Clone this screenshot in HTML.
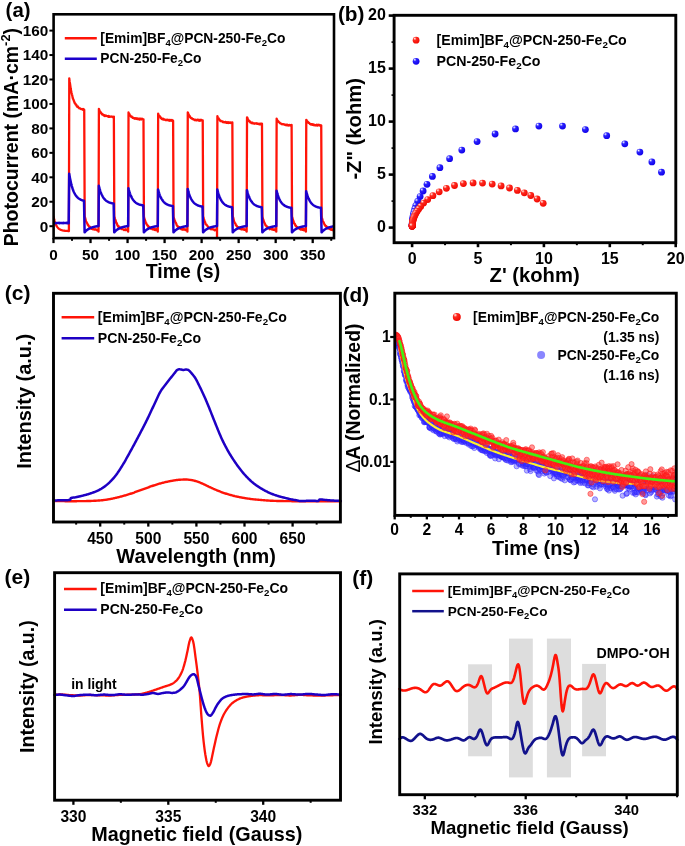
<!DOCTYPE html>
<html><head><meta charset="utf-8"><title>Figure</title>
<style>
html,body{margin:0;padding:0;background:#fff;}
svg{display:block;}
text{font-family:"Liberation Sans", Arial, Helvetica, sans-serif;font-weight:bold;fill:#000;}
</style></head><body>
<svg width="685" height="846" viewBox="0 0 685 846">
<rect width="685" height="846" fill="#fff"/>
<g id="pa">
<clipPath id="ca"><rect x="53.6" y="14.3" width="280.4" height="223.8"/></clipPath>
<g clip-path="url(#ca)">
<path d="M53.5,216.42 L53.87,218.14 L54.24,219.66 L54.61,221.01 L54.98,222.19 L55.35,223.24 L55.72,224.16 L56.09,224.97 L56.46,225.69 L56.83,226.33 L57.2,226.89 L57.57,227.38 L57.94,227.82 L58.31,228.2 L58.68,228.54 L59.05,228.84 L59.42,229.1 L59.8,229.34 L60.17,229.54 L60.54,229.73 L60.91,229.89 L61.28,230.03 L61.65,230.15 L62.02,230.26 L62.39,230.36 L62.76,230.45 L63.13,230.52 L63.5,230.59 L63.87,230.65 L64.24,230.7 L64.61,230.74 L64.98,230.79 L65.35,230.82 L65.72,230.85 L66.09,230.88 L66.46,230.91 L66.83,230.93 L67.2,230.95 L67.57,230.96 L67.94,230.98 L68.31,230.99 L68.9,231.09 L69.27,78.28 L69.65,81.69 L70.02,83.75 L70.4,86.33 L70.77,89.08 L71.14,90.88 L71.52,92.77 L71.89,94.24 L72.27,95.61 L72.64,97.65 L73.01,98.95 L73.39,99.27 L73.76,100.67 L74.14,101.26 L74.51,102.82 L74.88,103.13 L75.26,103.53 L75.63,104.62 L76.01,104.47 L76.38,105.01 L76.75,106.31 L77.13,106.72 L77.5,106.58 L77.88,106.52 L78.25,107.36 L78.62,107.8 L79,107.84 L79.37,108.44 L79.75,108.46 L80.12,108.42 L80.49,108.53 L80.87,108.94 L81.24,109.07 L81.62,109.2 L81.99,109.08 L82.36,109.34 L82.74,109.69 L83.11,108.98 L83.49,109.32 L83.86,109.3 L84.23,109.81 L84.68,216.42 L85.06,217.53 L85.45,219 L85.83,221.06 L86.22,221.84 L86.6,222.29 L86.99,223.13 L87.37,223.58 L87.76,224.87 L88.14,224.95 L88.53,225.66 L88.91,226.57 L89.3,226.64 L89.68,226.65 L90.07,227.02 L90.45,227.73 L90.83,227.88 L91.22,228.79 L91.6,228.74 L91.99,228.25 L92.37,228.88 L92.76,229.32 L93.14,228.99 L93.53,228.92 L93.91,229.06 L94.3,229.51 L94.68,229.52 L95.07,229.51 L95.45,229.24 L95.84,229.61 L96.22,229.82 L96.6,229.75 L96.99,230.35 L97.37,230.37 L97.76,229.6 L98.14,229.28 L98.53,229.79 L98.53,231.7 L98.9,108.84 L99.27,109.96 L99.65,111.05 L100.02,111.47 L100.39,111.66 L100.77,112.43 L101.14,113.15 L101.52,113.27 L101.89,114.26 L102.26,114.31 L102.64,114.16 L103.01,114.78 L103.39,115.11 L103.76,115.49 L104.13,115.38 L104.51,115.12 L104.88,116.18 L105.26,115.53 L105.63,115.6 L106,115.62 L106.38,115.84 L106.75,115.85 L107.13,116.19 L107.5,116.21 L107.87,116.39 L108.25,116.8 L108.62,116.04 L109,116.37 L109.37,116.77 L109.74,116.51 L110.12,116.56 L110.49,116.71 L110.87,116.75 L111.24,116.58 L111.61,116.52 L111.99,116.55 L112.36,116.73 L112.74,117.17 L113.11,116.99 L113.48,117.06 L113.86,116.68 L114.3,216.42 L114.69,217.69 L115.07,219.07 L115.46,220.24 L115.84,221.25 L116.23,222.86 L116.61,222.97 L117,223.91 L117.38,225.28 L117.77,225.94 L118.15,226.47 L118.53,226.02 L118.92,227.05 L119.3,227.59 L119.69,227.29 L120.07,227.92 L120.46,228.52 L120.84,228.64 L121.23,228.39 L121.61,229.02 L122,229.05 L122.38,228.66 L122.77,229.11 L123.15,229.38 L123.54,229.3 L123.92,229.94 L124.31,229.58 L124.69,229.61 L125.07,229.96 L125.46,230.12 L125.84,229.2 L126.23,229.72 L126.61,230.13 L127,229.68 L127.38,229.46 L127.77,230.46 L128.15,230.49 L128.15,231.7 L128.52,112.51 L128.9,113.7 L129.27,113.87 L129.64,115.05 L130.02,115.06 L130.39,115.56 L130.77,116.11 L131.14,116.79 L131.51,116.36 L131.89,116.81 L132.26,117.32 L132.64,117.82 L133.01,117.59 L133.38,117.99 L133.76,117.96 L134.13,118.33 L134.51,118.14 L134.88,118.79 L135.25,118.64 L135.63,118.07 L136,118.22 L136.38,118.84 L136.75,118.36 L137.12,118.94 L137.5,118.37 L137.87,118.6 L138.25,118.96 L138.62,119.16 L138.99,119.43 L139.37,118.6 L139.74,119.45 L140.12,118.71 L140.49,118.6 L140.86,119.01 L141.24,119.42 L141.61,118.76 L141.99,118.67 L142.36,118.96 L142.73,119.17 L143.11,119.31 L143.48,119.36 L143.93,216.42 L144.31,218.49 L144.7,219.22 L145.08,220.68 L145.47,222.01 L145.85,223.04 L146.24,223.18 L146.62,224.37 L147,224.77 L147.39,225.57 L147.77,225.42 L148.16,225.85 L148.54,227.34 L148.93,227.48 L149.31,227.65 L149.7,227.14 L150.08,227.65 L150.47,228.42 L150.85,228.78 L151.24,228.4 L151.62,228.36 L152.01,228.39 L152.39,229.24 L152.78,228.7 L153.16,229.04 L153.54,229.38 L153.93,228.85 L154.31,229.84 L154.7,229.31 L155.08,230.15 L155.47,230.09 L155.85,229.23 L156.24,230.13 L156.62,229.5 L157.01,229.72 L157.39,229.46 L157.78,230.06 L157.78,231.7 L158.15,113.73 L158.52,114.74 L158.89,115.51 L159.27,115.58 L159.64,116.38 L160.02,116.52 L160.39,117 L160.76,118.09 L161.14,118 L161.51,118.71 L161.89,119.01 L162.26,119.19 L162.63,118.6 L163.01,118.83 L163.38,118.93 L163.76,119.53 L164.13,119.38 L164.5,119.31 L164.88,119.79 L165.25,119.68 L165.63,120.08 L166,120.28 L166.37,120.16 L166.75,119.6 L167.12,119.96 L167.5,119.65 L167.87,120.14 L168.24,120.35 L168.62,119.89 L168.99,119.88 L169.37,120.7 L169.74,120.08 L170.11,120.67 L170.49,120.67 L170.86,119.94 L171.24,120.79 L171.61,120.61 L171.98,119.9 L172.36,120.48 L172.73,120.79 L173.11,120.76 L173.55,216.42 L173.94,218.45 L174.32,219.14 L174.71,221.09 L175.09,221.14 L175.47,222.71 L175.86,222.81 L176.24,223.62 L176.63,225.02 L177.01,225.66 L177.4,225.9 L177.78,226.82 L178.17,226.56 L178.55,227.68 L178.94,228.04 L179.32,227.14 L179.71,228.24 L180.09,228.1 L180.48,228.49 L180.86,228.84 L181.25,229.31 L181.63,228.42 L182.01,228.48 L182.4,228.59 L182.78,229.74 L183.17,229.71 L183.55,229.3 L183.94,228.93 L184.32,229.53 L184.71,229.41 L185.09,229.49 L185.48,230.03 L185.86,229.73 L186.25,230.05 L186.63,230.16 L187.02,230.39 L187.4,230.17 L187.4,231.7 L187.77,112.51 L188.14,113.05 L188.52,114.44 L188.89,115 L189.27,115.66 L189.64,115.94 L190.01,116.97 L190.39,117.48 L190.76,117.83 L191.14,118.17 L191.51,117.93 L191.88,118.14 L192.26,118.93 L192.63,119.09 L193.01,119.05 L193.38,119.16 L193.75,119.27 L194.13,119.73 L194.5,120.05 L194.88,119.92 L195.25,120.16 L195.62,119.77 L196,120.3 L196.37,120.35 L196.75,119.85 L197.12,120.24 L197.49,119.79 L197.87,120.12 L198.24,119.79 L198.62,120.52 L198.99,120.21 L199.36,119.95 L199.74,120.68 L200.11,119.85 L200.49,120.63 L200.86,120.06 L201.23,119.88 L201.61,120.06 L201.98,120.57 L202.36,120.8 L202.73,120.42 L203.18,216.42 L203.56,217.62 L203.94,219.69 L204.33,220.12 L204.71,222.08 L205.1,222.06 L205.48,223.96 L205.87,224.34 L206.25,224.28 L206.64,224.98 L207.02,225.37 L207.41,225.92 L207.79,226.45 L208.18,226.88 L208.56,227.83 L208.95,227.81 L209.33,228.41 L209.72,227.96 L210.1,228.22 L210.48,228.91 L210.87,229.31 L211.25,228.35 L211.64,228.67 L212.02,229.11 L212.41,229.22 L212.79,228.93 L213.18,229.5 L213.56,229.64 L213.95,229.78 L214.33,229.93 L214.72,230.27 L215.1,229.56 L215.49,229.88 L215.87,229.73 L216.26,230.38 L216.64,230.05 L217.02,230.34 L217.02,237.2 L217.39,116.17 L217.77,117.39 L218.14,117.99 L218.52,118.06 L218.89,119.03 L219.26,119.5 L219.64,119.71 L220.01,120.44 L220.39,120.98 L220.76,120.74 L221.13,121.01 L221.51,121.07 L221.88,121.46 L222.26,121.38 L222.63,121.47 L223,122.08 L223.38,121.94 L223.75,122.05 L224.13,122.38 L224.5,122.28 L224.87,122.2 L225.25,121.92 L225.62,121.97 L226,122.64 L226.37,122.33 L226.74,122.95 L227.12,122.97 L227.49,122.57 L227.87,122.24 L228.24,122.97 L228.61,122.41 L228.99,122.32 L229.36,122.9 L229.74,122.55 L230.11,122.42 L230.48,122.91 L230.86,122.61 L231.23,122.59 L231.61,122.75 L231.98,122.51 L232.35,122.49 L232.8,216.42 L233.18,217.57 L233.57,219.35 L233.95,221 L234.34,221.94 L234.72,222.91 L235.11,223.3 L235.49,223.8 L235.88,225.32 L236.26,225.13 L236.65,225.61 L237.03,226.52 L237.42,226.73 L237.8,227.52 L238.19,227.16 L238.57,228.29 L238.95,227.4 L239.34,227.85 L239.72,228.27 L240.11,228.9 L240.49,228.27 L240.88,228.36 L241.26,229.49 L241.65,228.83 L242.03,228.85 L242.42,229.17 L242.8,229.2 L243.19,229.58 L243.57,229.06 L243.96,229.06 L244.34,229.83 L244.72,229.37 L245.11,229.86 L245.49,230.22 L245.88,230.06 L246.26,230.33 L246.65,229.4 L246.65,231.7 L247.02,117.4 L247.39,117.8 L247.77,119.35 L248.14,119.51 L248.51,120.24 L248.89,121 L249.26,121.24 L249.64,121.65 L250.01,121.47 L250.38,122.48 L250.76,122.53 L251.13,122.5 L251.51,123.09 L251.88,122.66 L252.25,122.82 L252.63,122.72 L253,123.44 L253.38,123.46 L253.75,123.3 L254.12,123.64 L254.5,123.4 L254.87,123.79 L255.25,123.42 L255.62,123.36 L255.99,123.39 L256.37,123.27 L256.74,123.72 L257.12,123.81 L257.49,123.49 L257.86,123.6 L258.24,123.82 L258.61,124.03 L258.99,124.15 L259.36,124.35 L259.73,123.69 L260.11,124.38 L260.48,123.79 L260.86,124 L261.23,123.61 L261.6,123.83 L261.98,123.64 L262.42,216.42 L262.81,218.57 L263.19,219.44 L263.58,220.51 L263.96,221.87 L264.35,222.56 L264.73,223.56 L265.12,224.08 L265.5,225.38 L265.89,225.42 L266.27,225.93 L266.65,226.57 L267.04,226.87 L267.42,226.77 L267.81,227.22 L268.19,227.74 L268.58,227.81 L268.96,228.37 L269.35,228.79 L269.73,229.22 L270.12,229.05 L270.5,228.8 L270.89,228.58 L271.27,228.76 L271.66,229.26 L272.04,228.77 L272.43,229.49 L272.81,229.11 L273.19,229.69 L273.58,229.34 L273.96,229.09 L274.35,229.97 L274.73,230.18 L275.12,229.67 L275.5,229.81 L275.89,230.05 L276.27,230.51 L276.27,231.7 L276.64,118.62 L277.02,119.58 L277.39,120.27 L277.76,120.92 L278.14,121.02 L278.51,121.77 L278.89,122.04 L279.26,122.24 L279.63,122.7 L280.01,123.22 L280.38,123.21 L280.76,123.52 L281.13,123.7 L281.5,123.88 L281.88,124.24 L282.25,124.14 L282.63,124.25 L283,124.05 L283.37,124.28 L283.75,124.3 L284.12,124.44 L284.5,124.46 L284.87,124.72 L285.24,125.02 L285.62,125.14 L285.99,124.75 L286.37,124.63 L286.74,124.98 L287.11,125.4 L287.49,124.76 L287.86,125.13 L288.24,125.17 L288.61,125.61 L288.98,125.18 L289.36,124.97 L289.73,125.31 L290.11,125.39 L290.48,125.12 L290.85,125.76 L291.23,125.3 L291.6,124.89 L292.05,216.42 L292.43,217.9 L292.82,219.56 L293.2,220.37 L293.59,221.51 L293.97,222.92 L294.36,223.74 L294.74,223.65 L295.12,225.05 L295.51,225.87 L295.89,225.47 L296.28,226.31 L296.66,226.91 L297.05,227.1 L297.43,227.15 L297.82,228.14 L298.2,227.8 L298.59,227.96 L298.97,228.04 L299.36,228.89 L299.74,228.64 L300.13,229.25 L300.51,228.98 L300.9,229.57 L301.28,228.92 L301.66,228.91 L302.05,229.65 L302.43,229.86 L302.82,229.01 L303.2,229.39 L303.59,229.27 L303.97,230.31 L304.36,229.29 L304.74,229.66 L305.13,230.07 L305.51,229.96 L305.9,229.58 L305.9,231.7 L306.27,119.84 L306.64,120.25 L307.01,121.42 L307.39,121.5 L307.76,122.39 L308.14,121.98 L308.51,122.83 L308.88,122.67 L309.26,123.1 L309.63,123.44 L310.01,123.97 L310.38,123.89 L310.75,124.41 L311.13,124.55 L311.5,124.1 L311.88,124.55 L312.25,124.25 L312.62,124.83 L313,124.44 L313.37,124.5 L313.75,124.96 L314.12,125.21 L314.49,124.97 L314.87,124.92 L315.24,125.34 L315.62,125.29 L315.99,125.46 L316.36,124.96 L316.74,124.7 L317.11,125.38 L317.49,125.59 L317.86,124.95 L318.23,124.87 L318.61,124.74 L318.98,125.11 L319.36,125.39 L319.73,124.93 L320.1,125.65 L320.48,125.11 L320.85,125.71 L321.23,125.43 L321.67,216.42 L322.04,218.08 L322.41,219.48 L322.78,220.86 L323.14,221.8 L323.51,221.98 L323.88,223.23 L324.25,223.81 L324.62,224.91 L324.99,224.87 L325.35,225.87 L325.72,226.01 L326.09,226.04 L326.46,226.31 L326.83,227.8 L327.19,227.18 L327.56,227.38 L327.93,228.28 L328.3,228.41 L328.67,228.37 L329.04,228.12 L329.4,228.91 L329.77,228.46 L330.14,228.74 L330.51,229.59 L330.88,228.76 L331.25,229.94 L331.61,229.87 L331.98,229.3 L332.35,230.11 L332.72,229.77 L333.09,230.13 L333.46,229.77 L333.82,229.35 L334.19,229.3 L334.56,230.4 L334.93,230.4" fill="none" stroke="#ff1408" stroke-width="2.3" stroke-linejoin="round" stroke-linecap="round" />
<path d="M53.5,222.9 L53.87,223.19 L54.24,223.1 L54.61,223.16 L54.98,223.17 L55.35,223.19 L55.72,222.97 L56.09,222.93 L56.46,222.95 L56.83,222.89 L57.2,222.96 L57.57,223.06 L57.94,222.97 L58.31,222.85 L58.68,222.97 L59.05,223.12 L59.42,223.18 L59.8,222.86 L60.17,222.99 L60.54,223.08 L60.91,222.98 L61.28,223 L61.65,223.01 L62.02,223.18 L62.39,223.08 L62.76,223.05 L63.13,223.13 L63.5,222.88 L63.87,223.05 L64.24,222.96 L64.61,222.94 L64.98,222.93 L65.35,222.94 L65.72,222.93 L66.09,223.11 L66.46,222.85 L66.83,223.15 L67.2,222.87 L67.57,222.89 L67.94,222.89 L68.31,223.19 L68.68,223.17 L69.2,173.63 L69.57,175.88 L69.94,177.95 L70.31,179.85 L70.68,181.6 L71.05,183.21 L71.42,184.7 L71.79,186.06 L72.16,187.31 L72.53,188.47 L72.9,189.53 L73.27,190.51 L73.64,191.41 L74.01,192.23 L74.38,192.99 L74.76,193.69 L75.13,194.34 L75.5,194.93 L75.87,195.48 L76.24,195.98 L76.61,196.44 L76.98,196.86 L77.35,197.25 L77.72,197.61 L78.09,197.94 L78.46,198.25 L78.83,198.53 L79.2,198.79 L79.57,199.02 L79.94,199.24 L80.31,199.44 L80.68,199.63 L81.05,199.8 L81.42,199.95 L81.79,200.1 L82.16,200.23 L82.53,200.35 L82.9,200.46 L83.27,200.57 L83.64,200.66 L84.01,200.75 L84.61,232.31 L85.07,231.8 L85.53,231.32 L86,230.88 L86.46,230.47 L86.93,230.09 L87.39,229.75 L87.85,229.42 L88.32,229.12 L88.78,228.85 L89.25,228.59 L89.71,228.36 L90.17,228.14 L90.64,227.94 L91.1,227.75 L91.57,227.58 L92.03,227.42 L92.5,227.27 L92.96,227.14 L93.42,227.01 L93.89,226.9 L94.35,226.79 L94.82,226.69 L95.28,226.6 L95.74,226.51 L96.21,226.43 L96.67,226.36 L97.14,226.29 L97.6,226.23 L98.06,226.17 L98.53,226.12 L98.82,185.86 L99.2,187.32 L99.57,188.67 L99.94,189.91 L100.31,191.06 L100.68,192.11 L101.05,193.07 L101.42,193.96 L101.79,194.78 L102.16,195.53 L102.53,196.23 L102.9,196.86 L103.27,197.45 L103.64,197.99 L104.01,198.48 L104.38,198.94 L104.75,199.36 L105.12,199.75 L105.49,200.1 L105.86,200.43 L106.23,200.73 L106.6,201.01 L106.97,201.26 L107.34,201.5 L107.71,201.71 L108.08,201.91 L108.45,202.09 L108.82,202.26 L109.19,202.42 L109.56,202.56 L109.93,202.69 L110.3,202.81 L110.67,202.92 L111.04,203.02 L111.41,203.12 L111.79,203.2 L112.16,203.28 L112.53,203.36 L112.9,203.42 L113.27,203.48 L113.64,203.54 L114.23,232.31 L114.69,231.8 L115.16,231.32 L115.62,230.88 L116.09,230.47 L116.55,230.09 L117.01,229.75 L117.48,229.42 L117.94,229.12 L118.41,228.85 L118.87,228.59 L119.33,228.36 L119.8,228.14 L120.26,227.94 L120.73,227.75 L121.19,227.58 L121.65,227.42 L122.12,227.27 L122.58,227.14 L123.05,227.01 L123.51,226.9 L123.98,226.79 L124.44,226.69 L124.9,226.6 L125.37,226.51 L125.83,226.43 L126.3,226.36 L126.76,226.29 L127.22,226.23 L127.69,226.17 L128.15,226.12 L128.45,188.3 L128.82,189.72 L129.19,191.02 L129.56,192.22 L129.93,193.33 L130.3,194.34 L130.67,195.28 L131.04,196.14 L131.41,196.93 L131.78,197.66 L132.15,198.32 L132.52,198.94 L132.89,199.51 L133.26,200.03 L133.63,200.51 L134,200.95 L134.37,201.36 L134.74,201.73 L135.11,202.07 L135.48,202.39 L135.85,202.68 L136.23,202.95 L136.6,203.19 L136.97,203.42 L137.34,203.63 L137.71,203.82 L138.08,204 L138.45,204.16 L138.82,204.31 L139.19,204.45 L139.56,204.57 L139.93,204.69 L140.3,204.8 L140.67,204.9 L141.04,204.99 L141.41,205.07 L141.78,205.15 L142.15,205.22 L142.52,205.28 L142.89,205.34 L143.26,205.4 L143.85,232.31 L144.32,231.8 L144.78,231.32 L145.25,230.88 L145.71,230.47 L146.17,230.09 L146.64,229.75 L147.1,229.42 L147.57,229.12 L148.03,228.85 L148.49,228.59 L148.96,228.36 L149.42,228.14 L149.89,227.94 L150.35,227.75 L150.81,227.58 L151.28,227.42 L151.74,227.27 L152.21,227.14 L152.67,227.01 L153.14,226.9 L153.6,226.79 L154.06,226.69 L154.53,226.6 L154.99,226.51 L155.46,226.43 L155.92,226.36 L156.38,226.29 L156.85,226.23 L157.31,226.17 L157.78,226.12 L158.07,189.52 L158.44,190.89 L158.81,192.15 L159.18,193.31 L159.55,194.38 L159.92,195.36 L160.29,196.26 L160.66,197.09 L161.04,197.85 L161.41,198.56 L161.78,199.2 L162.15,199.8 L162.52,200.34 L162.89,200.85 L163.26,201.31 L163.63,201.74 L164,202.13 L164.37,202.49 L164.74,202.82 L165.11,203.13 L165.48,203.41 L165.85,203.67 L166.22,203.9 L166.59,204.12 L166.96,204.32 L167.33,204.51 L167.7,204.68 L168.07,204.84 L168.44,204.98 L168.81,205.11 L169.18,205.24 L169.55,205.35 L169.92,205.45 L170.29,205.55 L170.66,205.63 L171.03,205.71 L171.4,205.79 L171.77,205.86 L172.14,205.92 L172.51,205.98 L172.88,206.03 L173.48,232.31 L173.94,231.8 L174.41,231.32 L174.87,230.88 L175.33,230.47 L175.8,230.09 L176.26,229.75 L176.73,229.42 L177.19,229.12 L177.65,228.85 L178.12,228.59 L178.58,228.36 L179.05,228.14 L179.51,227.94 L179.97,227.75 L180.44,227.58 L180.9,227.42 L181.37,227.27 L181.83,227.14 L182.3,227.01 L182.76,226.9 L183.22,226.79 L183.69,226.69 L184.15,226.6 L184.62,226.51 L185.08,226.43 L185.54,226.36 L186.01,226.29 L186.47,226.23 L186.94,226.17 L187.4,226.12 L187.7,188.91 L188.07,190.38 L188.44,191.73 L188.81,192.97 L189.18,194.11 L189.55,195.16 L189.92,196.13 L190.29,197.02 L190.66,197.84 L191.03,198.59 L191.4,199.28 L191.77,199.92 L192.14,200.51 L192.51,201.04 L192.88,201.54 L193.25,202 L193.62,202.42 L193.99,202.8 L194.36,203.16 L194.73,203.49 L195.1,203.79 L195.47,204.06 L195.84,204.32 L196.21,204.55 L196.58,204.77 L196.95,204.97 L197.32,205.15 L197.69,205.32 L198.07,205.47 L198.44,205.62 L198.81,205.75 L199.18,205.87 L199.55,205.98 L199.92,206.08 L200.29,206.17 L200.66,206.26 L201.03,206.34 L201.4,206.41 L201.77,206.48 L202.14,206.54 L202.51,206.6 L203.1,232.31 L203.57,231.8 L204.03,231.32 L204.49,230.88 L204.96,230.47 L205.42,230.09 L205.89,229.75 L206.35,229.42 L206.81,229.12 L207.28,228.85 L207.74,228.59 L208.21,228.36 L208.67,228.14 L209.13,227.94 L209.6,227.75 L210.06,227.58 L210.53,227.42 L210.99,227.27 L211.46,227.14 L211.92,227.01 L212.38,226.9 L212.85,226.79 L213.31,226.69 L213.78,226.6 L214.24,226.51 L214.7,226.43 L215.17,226.36 L215.63,226.29 L216.1,226.23 L216.56,226.17 L217.02,226.12 L217.32,189.52 L217.69,190.99 L218.06,192.34 L218.43,193.58 L218.8,194.72 L219.17,195.77 L219.54,196.74 L219.91,197.63 L220.28,198.45 L220.65,199.2 L221.02,199.89 L221.39,200.53 L221.76,201.12 L222.13,201.66 L222.5,202.15 L222.88,202.61 L223.25,203.03 L223.62,203.42 L223.99,203.77 L224.36,204.1 L224.73,204.4 L225.1,204.68 L225.47,204.93 L225.84,205.17 L226.21,205.38 L226.58,205.58 L226.95,205.76 L227.32,205.93 L227.69,206.08 L228.06,206.23 L228.43,206.36 L228.8,206.48 L229.17,206.59 L229.54,206.69 L229.91,206.78 L230.28,206.87 L230.65,206.95 L231.02,207.02 L231.39,207.09 L231.76,207.15 L232.13,207.21 L232.73,232.31 L233.19,231.8 L233.65,231.32 L234.12,230.88 L234.58,230.47 L235.05,230.09 L235.51,229.75 L235.97,229.42 L236.44,229.12 L236.9,228.85 L237.37,228.59 L237.83,228.36 L238.29,228.14 L238.76,227.94 L239.22,227.75 L239.69,227.58 L240.15,227.42 L240.62,227.27 L241.08,227.14 L241.54,227.01 L242.01,226.9 L242.47,226.79 L242.94,226.69 L243.4,226.6 L243.86,226.51 L244.33,226.43 L244.79,226.36 L245.26,226.29 L245.72,226.23 L246.18,226.17 L246.65,226.12 L246.94,190.14 L247.32,191.55 L247.69,192.86 L248.06,194.06 L248.43,195.16 L248.8,196.18 L249.17,197.11 L249.54,197.97 L249.91,198.76 L250.28,199.49 L250.65,200.16 L251.02,200.77 L251.39,201.34 L251.76,201.86 L252.13,202.34 L252.5,202.78 L252.87,203.19 L253.24,203.56 L253.61,203.91 L253.98,204.22 L254.35,204.51 L254.72,204.78 L255.09,205.03 L255.46,205.26 L255.83,205.46 L256.2,205.66 L256.57,205.83 L256.94,205.99 L257.31,206.14 L257.68,206.28 L258.05,206.41 L258.42,206.52 L258.79,206.63 L259.16,206.73 L259.53,206.82 L259.91,206.9 L260.28,206.98 L260.65,207.05 L261.02,207.12 L261.39,207.18 L261.76,207.23 L262.35,232.31 L262.81,231.8 L263.28,231.32 L263.74,230.88 L264.21,230.47 L264.67,230.09 L265.13,229.75 L265.6,229.42 L266.06,229.12 L266.53,228.85 L266.99,228.59 L267.45,228.36 L267.92,228.14 L268.38,227.94 L268.85,227.75 L269.31,227.58 L269.77,227.42 L270.24,227.27 L270.7,227.14 L271.17,227.01 L271.63,226.9 L272.1,226.79 L272.56,226.69 L273.02,226.6 L273.49,226.51 L273.95,226.43 L274.42,226.36 L274.88,226.29 L275.34,226.23 L275.81,226.17 L276.27,226.12 L276.57,190.75 L276.94,192.16 L277.31,193.47 L277.68,194.67 L278.05,195.77 L278.42,196.79 L278.79,197.72 L279.16,198.58 L279.53,199.37 L279.9,200.1 L280.27,200.77 L280.64,201.39 L281.01,201.95 L281.38,202.47 L281.75,202.95 L282.12,203.4 L282.49,203.8 L282.86,204.17 L283.23,204.52 L283.6,204.83 L283.97,205.13 L284.35,205.39 L284.72,205.64 L285.09,205.87 L285.46,206.07 L285.83,206.27 L286.2,206.44 L286.57,206.61 L286.94,206.75 L287.31,206.89 L287.68,207.02 L288.05,207.14 L288.42,207.24 L288.79,207.34 L289.16,207.43 L289.53,207.51 L289.9,207.59 L290.27,207.66 L290.64,207.73 L291.01,207.79 L291.38,207.84 L291.97,232.31 L292.44,231.8 L292.9,231.32 L293.37,230.88 L293.83,230.47 L294.29,230.09 L294.76,229.75 L295.22,229.42 L295.69,229.12 L296.15,228.85 L296.61,228.59 L297.08,228.36 L297.54,228.14 L298.01,227.94 L298.47,227.75 L298.93,227.58 L299.4,227.42 L299.86,227.27 L300.33,227.14 L300.79,227.01 L301.26,226.9 L301.72,226.79 L302.18,226.69 L302.65,226.6 L303.11,226.51 L303.58,226.43 L304.04,226.36 L304.5,226.29 L304.97,226.23 L305.43,226.17 L305.9,226.12 L306.19,191.36 L306.56,192.73 L306.93,193.99 L307.3,195.14 L307.67,196.21 L308.04,197.19 L308.41,198.09 L308.78,198.92 L309.16,199.69 L309.53,200.39 L309.9,201.04 L310.27,201.63 L310.64,202.18 L311.01,202.68 L311.38,203.14 L311.75,203.57 L312.12,203.96 L312.49,204.32 L312.86,204.65 L313.23,204.96 L313.6,205.24 L313.97,205.5 L314.34,205.74 L314.71,205.96 L315.08,206.16 L315.45,206.34 L315.82,206.51 L316.19,206.67 L316.56,206.81 L316.93,206.95 L317.3,207.07 L317.67,207.18 L318.04,207.28 L318.41,207.38 L318.78,207.47 L319.15,207.55 L319.52,207.62 L319.89,207.69 L320.26,207.75 L320.63,207.81 L321,207.86 L321.6,232.31 L322.04,231.82 L322.49,231.36 L322.93,230.93 L323.37,230.54 L323.82,230.17 L324.26,229.83 L324.71,229.52 L325.15,229.22 L325.6,228.95 L326.04,228.7 L326.49,228.47 L326.93,228.25 L327.37,228.05 L327.82,227.86 L328.26,227.69 L328.71,227.53 L329.15,227.38 L329.6,227.24 L330.04,227.11 L330.48,226.99 L330.93,226.88 L331.37,226.78 L331.82,226.69 L332.26,226.6 L332.71,226.52 L333.15,226.44 L333.59,226.37 L334.04,226.3 L334.48,226.24 L334.93,226.19" fill="none" stroke="#1c00cc" stroke-width="2.5" stroke-linejoin="round" stroke-linecap="round" />
</g>
<rect x="53.6" y="14.3" width="280.4" height="223.8" fill="none" stroke="#000" stroke-width="2.6"/>
<line x1="53.5" y1="238.1" x2="53.5" y2="243.1" stroke="#000" stroke-width="2.3"/>
<line x1="90.53" y1="238.1" x2="90.53" y2="243.1" stroke="#000" stroke-width="2.3"/>
<line x1="127.56" y1="238.1" x2="127.56" y2="243.1" stroke="#000" stroke-width="2.3"/>
<line x1="164.59" y1="238.1" x2="164.59" y2="243.1" stroke="#000" stroke-width="2.3"/>
<line x1="201.62" y1="238.1" x2="201.62" y2="243.1" stroke="#000" stroke-width="2.3"/>
<line x1="238.65" y1="238.1" x2="238.65" y2="243.1" stroke="#000" stroke-width="2.3"/>
<line x1="275.68" y1="238.1" x2="275.68" y2="243.1" stroke="#000" stroke-width="2.3"/>
<line x1="312.71" y1="238.1" x2="312.71" y2="243.1" stroke="#000" stroke-width="2.3"/>
<line x1="72.02" y1="238.1" x2="72.02" y2="240.8" stroke="#000" stroke-width="2.0"/>
<line x1="109.05" y1="238.1" x2="109.05" y2="240.8" stroke="#000" stroke-width="2.0"/>
<line x1="146.07" y1="238.1" x2="146.07" y2="240.8" stroke="#000" stroke-width="2.0"/>
<line x1="183.11" y1="238.1" x2="183.11" y2="240.8" stroke="#000" stroke-width="2.0"/>
<line x1="220.14" y1="238.1" x2="220.14" y2="240.8" stroke="#000" stroke-width="2.0"/>
<line x1="257.17" y1="238.1" x2="257.17" y2="240.8" stroke="#000" stroke-width="2.0"/>
<line x1="294.2" y1="238.1" x2="294.2" y2="240.8" stroke="#000" stroke-width="2.0"/>
<line x1="331.23" y1="238.1" x2="331.23" y2="240.8" stroke="#000" stroke-width="2.0"/>
<line x1="49.4" y1="226.2" x2="53.6" y2="226.2" stroke="#000" stroke-width="2.0"/>
<line x1="49.4" y1="201.75" x2="53.6" y2="201.75" stroke="#000" stroke-width="2.0"/>
<line x1="49.4" y1="177.3" x2="53.6" y2="177.3" stroke="#000" stroke-width="2.0"/>
<line x1="49.4" y1="152.85" x2="53.6" y2="152.85" stroke="#000" stroke-width="2.0"/>
<line x1="49.4" y1="128.4" x2="53.6" y2="128.4" stroke="#000" stroke-width="2.0"/>
<line x1="49.4" y1="103.95" x2="53.6" y2="103.95" stroke="#000" stroke-width="2.0"/>
<line x1="49.4" y1="79.5" x2="53.6" y2="79.5" stroke="#000" stroke-width="2.0"/>
<line x1="49.4" y1="55.05" x2="53.6" y2="55.05" stroke="#000" stroke-width="2.0"/>
<line x1="49.4" y1="30.6" x2="53.6" y2="30.6" stroke="#000" stroke-width="2.0"/>
<text x="53.5" y="259.5" font-size="15.3" text-anchor="middle" >0</text>
<text x="90.53" y="259.5" font-size="15.3" text-anchor="middle" >50</text>
<text x="127.56" y="259.5" font-size="15.3" text-anchor="middle" >100</text>
<text x="164.59" y="259.5" font-size="15.3" text-anchor="middle" >150</text>
<text x="201.62" y="259.5" font-size="15.3" text-anchor="middle" >200</text>
<text x="238.65" y="259.5" font-size="15.3" text-anchor="middle" >250</text>
<text x="275.68" y="259.5" font-size="15.3" text-anchor="middle" >300</text>
<text x="312.71" y="259.5" font-size="15.3" text-anchor="middle" >350</text>
<text x="48.2" y="231.6" font-size="15.3" text-anchor="end" >0</text>
<text x="48.2" y="207.15" font-size="15.3" text-anchor="end" >20</text>
<text x="48.2" y="182.7" font-size="15.3" text-anchor="end" >40</text>
<text x="48.2" y="158.25" font-size="15.3" text-anchor="end" >60</text>
<text x="48.2" y="133.8" font-size="15.3" text-anchor="end" >80</text>
<text x="48.2" y="109.35" font-size="15.3" text-anchor="end" >100</text>
<text x="48.2" y="84.9" font-size="15.3" text-anchor="end" >120</text>
<text x="48.2" y="60.45" font-size="15.3" text-anchor="end" >140</text>
<text x="48.2" y="36" font-size="15.3" text-anchor="end" >160</text>
<text x="5.6" y="16.9" font-size="20.4" text-anchor="start" >(a)</text>
<text x="183" y="278.3" font-size="19.5" text-anchor="middle" >Time (s)</text>
<text x="18.2" y="246.3" font-size="19.5" text-anchor="start" transform="rotate(-90 18.2 246.3)" >Photocurrent (mA·cm<tspan font-size="12.8" dy="-8.6">-2</tspan><tspan dy="8.6">)</tspan></text>
<line x1="64.8" y1="38.2" x2="96.8" y2="38.2" stroke="#ff1408" stroke-width="2.4"/>
<line x1="64.8" y1="58.8" x2="96.8" y2="58.8" stroke="#1c00cc" stroke-width="2.4"/>
<text x="100.3" y="42.5" font-size="13.8" text-anchor="start" >[Emim]BF<tspan font-size="9.52" dy="3.04">4</tspan><tspan dy="-3.04">@PCN-250-Fe</tspan><tspan font-size="9.52" dy="3.04">2</tspan><tspan dy="-3.04">Co</tspan></text>
<text x="100.3" y="63.1" font-size="13.8" text-anchor="start" >PCN-250-Fe<tspan font-size="9.52" dy="3.04">2</tspan><tspan dy="-3.04">Co</tspan></text>
</g>
<defs>
<radialGradient id="gr" cx="0.36" cy="0.32" r="0.7" fx="0.3" fy="0.26"><stop offset="0" stop-color="#fff"/><stop offset="0.12" stop-color="#ffb0a8"/><stop offset="0.35" stop-color="#ff2a20"/><stop offset="1" stop-color="#f00800"/></radialGradient>
<radialGradient id="gb" cx="0.36" cy="0.32" r="0.7" fx="0.3" fy="0.26"><stop offset="0" stop-color="#fff"/><stop offset="0.12" stop-color="#b0b0ff"/><stop offset="0.35" stop-color="#2a22ff"/><stop offset="1" stop-color="#1000e8"/></radialGradient>
</defs>
<g id="pb">
<circle cx="661.5" cy="172.2" r="3.4" fill="url(#gb)"/>
<circle cx="651.9" cy="161.9" r="3.4" fill="url(#gb)"/>
<circle cx="639.9" cy="152.1" r="3.4" fill="url(#gb)"/>
<circle cx="624.8" cy="143.8" r="3.4" fill="url(#gb)"/>
<circle cx="606.7" cy="135.7" r="3.4" fill="url(#gb)"/>
<circle cx="585.4" cy="129.6" r="3.4" fill="url(#gb)"/>
<circle cx="562.5" cy="126.1" r="3.4" fill="url(#gb)"/>
<circle cx="538.9" cy="126.1" r="3.4" fill="url(#gb)"/>
<circle cx="515.5" cy="128.9" r="3.4" fill="url(#gb)"/>
<circle cx="495.1" cy="134" r="3.4" fill="url(#gb)"/>
<circle cx="477.1" cy="141.6" r="3.4" fill="url(#gb)"/>
<circle cx="461.8" cy="150.1" r="3.4" fill="url(#gb)"/>
<circle cx="449.6" cy="158.7" r="3.4" fill="url(#gb)"/>
<circle cx="439.9" cy="167.7" r="3.4" fill="url(#gb)"/>
<circle cx="432.4" cy="176.4" r="3.4" fill="url(#gb)"/>
<circle cx="427" cy="184.3" r="3.4" fill="url(#gb)"/>
<circle cx="423.1" cy="191" r="3.4" fill="url(#gb)"/>
<circle cx="420.1" cy="196.6" r="3.4" fill="url(#gb)"/>
<circle cx="417.7" cy="201.5" r="3.4" fill="url(#gb)"/>
<circle cx="415.8" cy="205.7" r="3.4" fill="url(#gb)"/>
<circle cx="414.81" cy="208.92" r="3.4" fill="url(#gb)"/>
<circle cx="414.04" cy="211.71" r="3.4" fill="url(#gb)"/>
<circle cx="413.5" cy="214.06" r="3.4" fill="url(#gb)"/>
<circle cx="413.12" cy="216.03" r="3.4" fill="url(#gb)"/>
<circle cx="412.85" cy="217.68" r="3.4" fill="url(#gb)"/>
<circle cx="412.66" cy="219.08" r="3.4" fill="url(#gb)"/>
<circle cx="412.52" cy="220.24" r="3.4" fill="url(#gb)"/>
<circle cx="412.43" cy="221.23" r="3.4" fill="url(#gb)"/>
<circle cx="412.36" cy="222.05" r="3.4" fill="url(#gb)"/>
<circle cx="412.31" cy="222.75" r="3.4" fill="url(#gb)"/>
<circle cx="412.28" cy="223.33" r="3.4" fill="url(#gb)"/>
<circle cx="412.26" cy="223.82" r="3.4" fill="url(#gb)"/>
<circle cx="412.24" cy="224.23" r="3.4" fill="url(#gb)"/>
<circle cx="412.23" cy="224.58" r="3.4" fill="url(#gb)"/>
<circle cx="412.22" cy="224.87" r="3.4" fill="url(#gb)"/>
<circle cx="412.21" cy="225.11" r="3.4" fill="url(#gb)"/>
<circle cx="412.21" cy="225.32" r="3.4" fill="url(#gb)"/>
<circle cx="412.21" cy="225.49" r="3.4" fill="url(#gb)"/>
<circle cx="412.2" cy="225.64" r="3.4" fill="url(#gb)"/>
<circle cx="412.2" cy="225.76" r="3.4" fill="url(#gb)"/>
<circle cx="412.2" cy="225.86" r="3.4" fill="url(#gb)"/>
<circle cx="412.2" cy="225.95" r="3.4" fill="url(#gb)"/>
<circle cx="412.2" cy="226.02" r="3.4" fill="url(#gb)"/>
<circle cx="543.2" cy="203.3" r="3.4" fill="url(#gr)"/>
<circle cx="537.1" cy="199" r="3.4" fill="url(#gr)"/>
<circle cx="530.8" cy="195.5" r="3.4" fill="url(#gr)"/>
<circle cx="524.3" cy="192.8" r="3.4" fill="url(#gr)"/>
<circle cx="517.4" cy="190.4" r="3.4" fill="url(#gr)"/>
<circle cx="509.5" cy="188" r="3.4" fill="url(#gr)"/>
<circle cx="501.1" cy="185.9" r="3.4" fill="url(#gr)"/>
<circle cx="492.2" cy="184.1" r="3.4" fill="url(#gr)"/>
<circle cx="482.5" cy="183.1" r="3.4" fill="url(#gr)"/>
<circle cx="473.1" cy="182.9" r="3.4" fill="url(#gr)"/>
<circle cx="463.4" cy="183.6" r="3.4" fill="url(#gr)"/>
<circle cx="454.5" cy="185.5" r="3.4" fill="url(#gr)"/>
<circle cx="446.4" cy="188.3" r="3.4" fill="url(#gr)"/>
<circle cx="439.2" cy="191.8" r="3.4" fill="url(#gr)"/>
<circle cx="432.9" cy="195.7" r="3.4" fill="url(#gr)"/>
<circle cx="427.7" cy="199.6" r="3.4" fill="url(#gr)"/>
<circle cx="423.6" cy="203.1" r="3.4" fill="url(#gr)"/>
<circle cx="420.7" cy="206.4" r="3.4" fill="url(#gr)"/>
<circle cx="418.71" cy="208.92" r="3.4" fill="url(#gr)"/>
<circle cx="417.12" cy="211.2" r="3.4" fill="url(#gr)"/>
<circle cx="415.92" cy="213.18" r="3.4" fill="url(#gr)"/>
<circle cx="415.01" cy="214.91" r="3.4" fill="url(#gr)"/>
<circle cx="414.33" cy="216.41" r="3.4" fill="url(#gr)"/>
<circle cx="413.81" cy="217.71" r="3.4" fill="url(#gr)"/>
<circle cx="413.42" cy="218.84" r="3.4" fill="url(#gr)"/>
<circle cx="413.12" cy="219.83" r="3.4" fill="url(#gr)"/>
<circle cx="412.9" cy="220.69" r="3.4" fill="url(#gr)"/>
<circle cx="412.73" cy="221.43" r="3.4" fill="url(#gr)"/>
<circle cx="412.6" cy="222.08" r="3.4" fill="url(#gr)"/>
<circle cx="412.5" cy="222.64" r="3.4" fill="url(#gr)"/>
<circle cx="412.43" cy="223.13" r="3.4" fill="url(#gr)"/>
<circle cx="412.37" cy="223.56" r="3.4" fill="url(#gr)"/>
<circle cx="412.33" cy="223.93" r="3.4" fill="url(#gr)"/>
<circle cx="412.3" cy="224.25" r="3.4" fill="url(#gr)"/>
<circle cx="412.27" cy="224.53" r="3.4" fill="url(#gr)"/>
<circle cx="412.26" cy="224.78" r="3.4" fill="url(#gr)"/>
<circle cx="412.24" cy="224.99" r="3.4" fill="url(#gr)"/>
<circle cx="412.23" cy="225.17" r="3.4" fill="url(#gr)"/>
<circle cx="412.22" cy="225.33" r="3.4" fill="url(#gr)"/>
<circle cx="412.22" cy="225.47" r="3.4" fill="url(#gr)"/>
<circle cx="412.21" cy="225.59" r="3.4" fill="url(#gr)"/>
<circle cx="412.21" cy="225.7" r="3.4" fill="url(#gr)"/>
<circle cx="412.21" cy="225.79" r="3.4" fill="url(#gr)"/>
<circle cx="412.21" cy="225.87" r="3.4" fill="url(#gr)"/>
<circle cx="412.2" cy="225.94" r="3.4" fill="url(#gr)"/>
<circle cx="412.2" cy="226" r="3.4" fill="url(#gr)"/>
<circle cx="412.2" cy="226.05" r="3.4" fill="url(#gr)"/>
<circle cx="412.2" cy="226.1" r="3.4" fill="url(#gr)"/>
<circle cx="412.2" cy="226.14" r="3.4" fill="url(#gr)"/>
<rect x="394.1" y="15.3" width="281.7" height="227.4" fill="none" stroke="#000" stroke-width="2.9"/>
<line x1="412.1" y1="242.7" x2="412.1" y2="247.2" stroke="#000" stroke-width="2.6"/>
<line x1="478" y1="242.7" x2="478" y2="247.2" stroke="#000" stroke-width="2.6"/>
<line x1="543.9" y1="242.7" x2="543.9" y2="247.2" stroke="#000" stroke-width="2.6"/>
<line x1="609.8" y1="242.7" x2="609.8" y2="247.2" stroke="#000" stroke-width="2.6"/>
<line x1="675.7" y1="242.7" x2="675.7" y2="247.2" stroke="#000" stroke-width="2.6"/>
<line x1="445.05" y1="242.7" x2="445.05" y2="245.2" stroke="#000" stroke-width="2.0"/>
<line x1="510.95" y1="242.7" x2="510.95" y2="245.2" stroke="#000" stroke-width="2.0"/>
<line x1="576.85" y1="242.7" x2="576.85" y2="245.2" stroke="#000" stroke-width="2.0"/>
<line x1="642.75" y1="242.7" x2="642.75" y2="245.2" stroke="#000" stroke-width="2.0"/>
<line x1="388.7" y1="227.6" x2="394.1" y2="227.6" stroke="#000" stroke-width="2.6"/>
<line x1="388.7" y1="174.6" x2="394.1" y2="174.6" stroke="#000" stroke-width="2.6"/>
<line x1="388.7" y1="121.6" x2="394.1" y2="121.6" stroke="#000" stroke-width="2.6"/>
<line x1="388.7" y1="68.6" x2="394.1" y2="68.6" stroke="#000" stroke-width="2.6"/>
<line x1="388.7" y1="15.6" x2="394.1" y2="15.6" stroke="#000" stroke-width="2.6"/>
<line x1="391.5" y1="201.1" x2="394.1" y2="201.1" stroke="#000" stroke-width="1.6"/>
<line x1="391.5" y1="148.1" x2="394.1" y2="148.1" stroke="#000" stroke-width="1.6"/>
<line x1="391.5" y1="95.1" x2="394.1" y2="95.1" stroke="#000" stroke-width="1.6"/>
<line x1="391.5" y1="42.1" x2="394.1" y2="42.1" stroke="#000" stroke-width="1.6"/>
<text x="412.1" y="264.4" font-size="16" text-anchor="middle" >0</text>
<text x="385.8" y="232.2" font-size="16" text-anchor="end" >0</text>
<text x="478" y="264.4" font-size="16" text-anchor="middle" >5</text>
<text x="385.8" y="179.2" font-size="16" text-anchor="end" >5</text>
<text x="543.9" y="264.4" font-size="16" text-anchor="middle" >10</text>
<text x="385.8" y="126.2" font-size="16" text-anchor="end" >10</text>
<text x="609.8" y="264.4" font-size="16" text-anchor="middle" >15</text>
<text x="385.8" y="73.2" font-size="16" text-anchor="end" >15</text>
<text x="675.7" y="264.4" font-size="16" text-anchor="middle" >20</text>
<text x="385.8" y="20.2" font-size="16" text-anchor="end" >20</text>
<text x="337.9" y="21.4" font-size="20.8" text-anchor="start" >(b)</text>
<text x="534.6" y="281.8" font-size="20.2" text-anchor="middle" >Z' (kohm)</text>
<text x="361.2" y="179.6" font-size="20.2" text-anchor="start" transform="rotate(-90 361.2 179.6)" >-Z" (kohm)</text>
<circle cx="416.1" cy="40.2" r="3.4" fill="url(#gr)"/>
<circle cx="416.1" cy="61.3" r="3.4" fill="url(#gb)"/>
<text x="436.5" y="45.2" font-size="14.2" text-anchor="start" >[Emim]BF<tspan font-size="9.8" dy="3.12">4</tspan><tspan dy="-3.12">@PCN-250-Fe</tspan><tspan font-size="9.8" dy="3.12">2</tspan><tspan dy="-3.12">Co</tspan></text>
<text x="436.5" y="66" font-size="14.2" text-anchor="start" >PCN-250-Fe<tspan font-size="9.8" dy="3.12">2</tspan><tspan dy="-3.12">Co</tspan></text>
</g>
<g id="pc">
<path d="M53.5,501 L54.22,501.02 L54.94,501.03 L55.66,501.05 L56.38,501.06 L57.1,501.07 L57.82,501.09 L58.54,501.1 L59.26,501.11 L59.98,501.12 L60.7,501.13 L61.42,501.14 L62.14,501.15 L62.86,501.16 L63.58,501.17 L64.3,501.17 L65.02,501.18 L65.74,501.18 L66.46,501.19 L67.18,501.19 L67.9,501.2 L68.62,501.2 L69.34,501.2 L70.06,501.2 L70.78,501.2 L71.5,501.2 L72.22,501.2 L72.94,501.2 L73.66,501.19 L74.38,501.19 L75.1,501.19 L75.82,501.18 L76.54,501.18 L77.26,501.17 L77.98,501.17 L78.7,501.16 L79.42,501.16 L80.14,501.15 L80.86,501.14 L81.58,501.14 L82.3,501.13 L83.02,501.12 L83.74,501.11 L84.46,501.11 L85.18,501.1 L85.9,501.09 L86.62,501.07 L87.34,501.06 L88.06,501.04 L88.78,501.02 L89.5,501 L90.22,500.97 L90.94,500.94 L91.66,500.91 L92.38,500.88 L93.1,500.85 L93.82,500.81 L94.54,500.78 L95.26,500.74 L95.98,500.7 L96.7,500.65 L97.42,500.61 L98.14,500.56 L98.86,500.51 L99.58,500.46 L100.3,500.41 L101.02,500.36 L101.74,500.29 L102.46,500.21 L103.18,500.13 L103.9,500.03 L104.62,499.93 L105.34,499.82 L106.06,499.71 L106.78,499.59 L107.5,499.48 L108.22,499.36 L108.94,499.24 L109.66,499.12 L110.38,498.99 L111.1,498.85 L111.82,498.71 L112.54,498.56 L113.26,498.41 L113.98,498.26 L114.7,498.1 L115.42,497.94 L116.14,497.78 L116.86,497.61 L117.58,497.43 L118.3,497.25 L119.02,497.07 L119.74,496.88 L120.46,496.69 L121.18,496.5 L121.9,496.3 L122.62,496.1 L123.34,495.9 L124.06,495.7 L124.78,495.5 L125.51,495.29 L126.23,495.08 L126.95,494.87 L127.67,494.65 L128.39,494.43 L129.11,494.21 L129.83,493.98 L130.55,493.75 L131.27,493.51 L131.99,493.27 L132.71,493.02 L133.43,492.76 L134.15,492.51 L134.87,492.24 L135.59,491.98 L136.31,491.72 L137.03,491.45 L137.75,491.19 L138.47,490.93 L139.19,490.67 L139.91,490.41 L140.63,490.15 L141.35,489.88 L142.07,489.62 L142.79,489.36 L143.51,489.1 L144.23,488.83 L144.95,488.57 L145.67,488.31 L146.39,488.05 L147.11,487.79 L147.83,487.53 L148.55,487.26 L149.27,487 L149.99,486.74 L150.71,486.49 L151.43,486.23 L152.15,485.99 L152.87,485.74 L153.59,485.51 L154.31,485.27 L155.03,485.04 L155.75,484.81 L156.47,484.58 L157.19,484.36 L157.91,484.14 L158.63,483.92 L159.35,483.71 L160.07,483.5 L160.79,483.3 L161.51,483.11 L162.23,482.92 L162.95,482.73 L163.67,482.55 L164.39,482.37 L165.11,482.2 L165.83,482.04 L166.55,481.88 L167.27,481.72 L167.99,481.57 L168.71,481.42 L169.43,481.27 L170.15,481.13 L170.87,481 L171.59,480.87 L172.31,480.75 L173.03,480.62 L173.75,480.5 L174.47,480.38 L175.19,480.26 L175.91,480.15 L176.63,480.05 L177.35,479.96 L178.07,479.88 L178.79,479.82 L179.51,479.77 L180.23,479.72 L180.95,479.67 L181.67,479.63 L182.39,479.59 L183.11,479.56 L183.83,479.53 L184.55,479.51 L185.27,479.5 L185.99,479.5 L186.71,479.52 L187.43,479.57 L188.15,479.64 L188.87,479.72 L189.59,479.82 L190.31,479.92 L191.03,480.03 L191.75,480.14 L192.47,480.27 L193.19,480.42 L193.91,480.59 L194.63,480.77 L195.35,480.98 L196.07,481.19 L196.79,481.4 L197.51,481.63 L198.23,481.88 L198.95,482.15 L199.67,482.45 L200.39,482.75 L201.11,483.06 L201.83,483.38 L202.55,483.7 L203.27,484.02 L203.99,484.35 L204.71,484.69 L205.43,485.03 L206.15,485.38 L206.87,485.74 L207.59,486.09 L208.31,486.44 L209.03,486.79 L209.75,487.12 L210.47,487.45 L211.19,487.78 L211.91,488.11 L212.63,488.43 L213.35,488.76 L214.07,489.07 L214.79,489.39 L215.51,489.69 L216.23,490 L216.95,490.3 L217.67,490.6 L218.39,490.89 L219.11,491.18 L219.83,491.47 L220.55,491.75 L221.27,492.02 L221.99,492.29 L222.71,492.55 L223.43,492.8 L224.15,493.04 L224.87,493.28 L225.59,493.51 L226.31,493.74 L227.03,493.96 L227.75,494.18 L228.47,494.39 L229.19,494.6 L229.91,494.81 L230.63,495.01 L231.35,495.21 L232.07,495.41 L232.79,495.6 L233.51,495.79 L234.23,495.96 L234.95,496.14 L235.67,496.3 L236.39,496.46 L237.11,496.62 L237.83,496.77 L238.55,496.92 L239.27,497.07 L239.99,497.21 L240.71,497.35 L241.43,497.48 L242.15,497.62 L242.87,497.75 L243.59,497.88 L244.31,498 L245.03,498.12 L245.75,498.24 L246.47,498.36 L247.19,498.47 L247.91,498.58 L248.63,498.68 L249.35,498.78 L250.07,498.88 L250.79,498.97 L251.51,499.07 L252.23,499.15 L252.95,499.24 L253.67,499.32 L254.39,499.39 L255.11,499.47 L255.83,499.54 L256.55,499.6 L257.27,499.67 L257.99,499.73 L258.71,499.8 L259.43,499.86 L260.15,499.92 L260.87,499.99 L261.59,500.05 L262.31,500.11 L263.03,500.17 L263.75,500.23 L264.47,500.29 L265.19,500.34 L265.91,500.39 L266.63,500.45 L267.35,500.5 L268.07,500.55 L268.79,500.6 L269.52,500.64 L270.24,500.69 L270.96,500.73 L271.68,500.77 L272.4,500.8 L273.12,500.82 L273.84,500.85 L274.56,500.87 L275.28,500.89 L276,500.91 L276.72,500.93 L277.44,500.95 L278.16,500.97 L278.88,500.99 L279.6,501.01 L280.32,501.02 L281.04,501.04 L281.76,501.05 L282.48,501.06 L283.2,501.07 L283.92,501.09 L284.64,501.1 L285.36,501.1 L286.08,501.11 L286.8,501.12 L287.52,501.13 L288.24,501.14 L288.96,501.15 L289.68,501.16 L290.4,501.16 L291.12,501.17 L291.84,501.18 L292.56,501.18 L293.28,501.19 L294,501.19 L294.72,501.19 L295.44,501.2 L296.16,501.2 L296.88,501.2 L297.6,501.2 L298.32,501.2 L299.04,501.2 L299.76,501.2 L300.48,501.2 L301.2,501.2 L301.92,501.2 L302.64,501.2 L303.36,501.2 L304.08,501.2 L304.8,501.2 L305.52,501.2 L306.24,501.2 L306.96,501.2 L307.68,501.2 L308.4,501.2 L309.12,501.2 L309.84,501.2 L310.56,501.2 L311.28,501.2 L312,501.2 L312.72,501.2 L313.44,501.2 L314.16,501.2 L314.88,501.2 L315.6,501.2 L316.32,501.2 L317.04,501.2 L317.76,501.2 L318.48,501.2 L319.2,501.2 L319.92,501.2 L320.64,501.2 L321.36,501.2 L322.08,501.2 L322.8,501.2 L323.52,501.2 L324.24,501.2 L324.96,501.2 L325.68,501.2 L326.4,501.2 L327.12,501.2 L327.84,501.2 L328.56,501.2 L329.28,501.2 L330,501.2 L330.72,501.2 L331.44,501.2 L332.16,501.2 L332.88,501.2 L333.6,501.2 L334.32,501.2 L335.04,501.2 L335.76,501.2 L336.48,501.2 L337.2,501.2 L337.92,501.2 L338.64,501.2 L339.36,501.2 L340.08,501.2 L340.8,501.2" fill="none" stroke="#ff1408" stroke-width="2.4" stroke-linejoin="round" stroke-linecap="round" />
<path d="M53.5,500.4 L54.08,500.4 L54.65,500.4 L55.23,500.39 L55.8,500.39 L56.38,500.38 L56.95,500.38 L57.53,500.37 L58.11,500.36 L58.68,500.36 L59.26,500.35 L59.83,500.34 L60.41,500.33 L60.98,500.32 L61.56,500.31 L62.14,500.3 L62.71,500.29 L63.29,500.28 L63.86,500.27 L64.44,500.26 L65.02,500.25 L65.59,500.24 L66.17,500.23 L66.74,500.21 L67.32,500.19 L67.89,500.16 L68.47,500.12 L69.05,500.08 L69.62,500.04 L70.2,499.73 L70.77,498.22 L71.35,497.98 L71.92,497.81 L72.5,497.68 L73.08,497.59 L73.65,497.52 L74.23,497.45 L74.8,497.39 L75.38,497.31 L75.95,497.21 L76.53,497.09 L77.11,496.96 L77.68,496.84 L78.26,496.71 L78.83,496.58 L79.41,496.45 L79.98,496.31 L80.56,496.18 L81.14,496.04 L81.71,495.9 L82.29,495.75 L82.86,495.61 L83.44,495.46 L84.01,495.31 L84.59,495.16 L85.17,495.01 L85.74,494.85 L86.32,494.69 L86.89,494.53 L87.47,494.36 L88.05,494.19 L88.62,494.02 L89.2,493.84 L89.77,493.66 L90.35,493.47 L90.92,493.28 L91.5,493.09 L92.08,492.89 L92.65,492.69 L93.23,492.48 L93.8,492.27 L94.38,492.05 L94.95,491.82 L95.53,491.59 L96.11,491.35 L96.68,491.1 L97.26,490.84 L97.83,490.57 L98.41,490.29 L98.98,490.01 L99.56,489.71 L100.14,489.4 L100.71,489.08 L101.29,488.75 L101.86,488.4 L102.44,488.04 L103.01,487.67 L103.59,487.28 L104.17,486.88 L104.74,486.47 L105.32,486.04 L105.89,485.6 L106.47,485.13 L107.04,484.65 L107.62,484.14 L108.2,483.62 L108.77,483.09 L109.35,482.54 L109.92,481.97 L110.5,481.4 L111.08,480.81 L111.65,480.21 L112.23,479.59 L112.8,478.96 L113.38,478.3 L113.95,477.63 L114.53,476.94 L115.11,476.23 L115.68,475.5 L116.26,474.74 L116.83,473.95 L117.41,473.15 L117.98,472.32 L118.56,471.47 L119.14,470.6 L119.71,469.72 L120.29,468.82 L120.86,467.91 L121.44,466.99 L122.01,466.06 L122.59,465.13 L123.17,464.19 L123.74,463.24 L124.32,462.27 L124.89,461.28 L125.47,460.28 L126.04,459.26 L126.62,458.23 L127.2,457.19 L127.77,456.15 L128.35,455.1 L128.92,454.04 L129.5,452.99 L130.07,451.94 L130.65,450.89 L131.23,449.84 L131.8,448.79 L132.38,447.74 L132.95,446.68 L133.53,445.62 L134.11,444.55 L134.68,443.48 L135.26,442.41 L135.83,441.33 L136.41,440.26 L136.98,439.17 L137.56,438.09 L138.14,437 L138.71,435.91 L139.29,434.82 L139.86,433.72 L140.44,432.62 L141.01,431.52 L141.59,430.42 L142.17,429.31 L142.74,428.2 L143.32,427.09 L143.89,425.97 L144.47,424.84 L145.04,423.71 L145.62,422.57 L146.2,421.42 L146.77,420.26 L147.35,419.09 L147.92,417.9 L148.5,416.7 L149.07,415.49 L149.65,414.27 L150.23,413.04 L150.8,411.8 L151.38,410.57 L151.95,409.33 L152.53,408.1 L153.11,406.88 L153.68,405.67 L154.26,404.46 L154.83,403.23 L155.41,401.98 L155.98,400.71 L156.56,399.44 L157.14,398.18 L157.71,396.94 L158.29,395.72 L158.86,394.54 L159.44,393.42 L160.01,392.35 L160.59,391.35 L161.17,390.42 L161.74,389.55 L162.32,388.73 L162.89,387.95 L163.47,387.2 L164.04,386.46 L164.62,385.73 L165.2,384.99 L165.77,384.24 L166.35,383.48 L166.92,382.72 L167.5,381.97 L168.07,381.22 L168.65,380.48 L169.23,379.75 L169.8,379.02 L170.38,378.31 L170.95,377.6 L171.53,376.9 L172.1,376.19 L172.68,375.48 L173.26,374.76 L173.83,374.04 L174.41,373.32 L174.98,372.62 L175.56,371.86 L176.14,371.06 L176.71,370.36 L177.29,369.91 L177.86,369.65 L178.44,369.44 L179.01,369.32 L179.59,369.31 L180.17,369.37 L180.74,369.46 L181.32,369.57 L181.89,369.68 L182.47,369.83 L183.04,369.96 L183.62,370 L184.2,369.89 L184.77,369.72 L185.35,369.61 L185.92,369.6 L186.5,369.62 L187.07,369.65 L187.65,369.7 L188.23,369.9 L188.8,370.35 L189.38,370.89 L189.95,371.43 L190.53,372.05 L191.1,372.72 L191.68,373.42 L192.26,374.1 L192.83,374.78 L193.41,375.47 L193.98,376.19 L194.56,376.96 L195.13,377.81 L195.71,378.75 L196.29,379.79 L196.86,380.89 L197.44,382.03 L198.01,383.2 L198.59,384.38 L199.17,385.53 L199.74,386.69 L200.32,387.86 L200.89,389.05 L201.47,390.25 L202.04,391.47 L202.62,392.7 L203.2,393.95 L203.77,395.22 L204.35,396.5 L204.92,397.8 L205.5,399.12 L206.07,400.45 L206.65,401.79 L207.23,403.15 L207.8,404.52 L208.38,405.9 L208.95,407.3 L209.53,408.73 L210.1,410.18 L210.68,411.65 L211.26,413.12 L211.83,414.6 L212.41,416.06 L212.98,417.52 L213.56,418.95 L214.13,420.37 L214.71,421.8 L215.29,423.24 L215.86,424.68 L216.44,426.11 L217.01,427.54 L217.59,428.97 L218.16,430.38 L218.74,431.77 L219.32,433.15 L219.89,434.51 L220.47,435.85 L221.04,437.16 L221.62,438.43 L222.2,439.68 L222.77,440.89 L223.35,442.08 L223.92,443.25 L224.5,444.39 L225.07,445.52 L225.65,446.62 L226.23,447.7 L226.8,448.77 L227.38,449.81 L227.95,450.84 L228.53,451.85 L229.1,452.84 L229.68,453.81 L230.26,454.77 L230.83,455.7 L231.41,456.63 L231.98,457.53 L232.56,458.43 L233.13,459.31 L233.71,460.18 L234.29,461.04 L234.86,461.89 L235.44,462.73 L236.01,463.57 L236.59,464.39 L237.16,465.2 L237.74,466 L238.32,466.79 L238.89,467.57 L239.47,468.34 L240.04,469.09 L240.62,469.82 L241.19,470.54 L241.77,471.25 L242.35,471.95 L242.92,472.64 L243.5,473.32 L244.07,473.99 L244.65,474.64 L245.23,475.29 L245.8,475.92 L246.38,476.54 L246.95,477.14 L247.53,477.73 L248.1,478.31 L248.68,478.88 L249.26,479.44 L249.83,479.99 L250.41,480.53 L250.98,481.05 L251.56,481.57 L252.13,482.07 L252.71,482.56 L253.29,483.03 L253.86,483.49 L254.44,483.93 L255.01,484.37 L255.59,484.79 L256.16,485.21 L256.74,485.61 L257.32,486.01 L257.89,486.4 L258.47,486.78 L259.04,487.15 L259.62,487.52 L260.19,487.89 L260.77,488.24 L261.35,488.6 L261.92,488.94 L262.5,489.29 L263.07,489.62 L263.65,489.95 L264.23,490.27 L264.8,490.58 L265.38,490.88 L265.95,491.18 L266.53,491.46 L267.1,491.74 L267.68,492.02 L268.26,492.29 L268.83,492.56 L269.41,492.82 L269.98,493.07 L270.56,493.32 L271.13,493.56 L271.71,493.79 L272.29,494.02 L272.86,494.24 L273.44,494.45 L274.01,494.67 L274.59,494.87 L275.16,495.07 L275.74,495.27 L276.32,495.46 L276.89,495.65 L277.47,495.83 L278.04,496.01 L278.62,496.19 L279.19,496.36 L279.77,496.52 L280.35,496.68 L280.92,496.84 L281.5,496.99 L282.07,497.14 L282.65,497.29 L283.22,497.43 L283.8,497.58 L284.38,497.72 L284.95,497.86 L285.53,498.01 L286.1,498.15 L286.68,498.29 L287.26,498.44 L287.83,498.58 L288.41,498.72 L288.98,498.85 L289.56,498.99 L290.13,499.12 L290.71,499.24 L291.29,499.36 L291.86,499.47 L292.44,499.58 L293.01,499.68 L293.59,499.79 L294.16,499.88 L294.74,499.98 L295.32,500.08 L295.89,500.18 L296.47,500.29 L297.04,500.39 L297.62,500.5 L298.19,500.64 L298.77,500.8 L299.35,500.93 L299.92,501 L300.5,501 L301.07,500.99 L301.65,500.99 L302.22,500.97 L302.8,500.96 L303.38,500.95 L303.95,500.93 L304.53,500.91 L305.1,500.9 L305.68,500.88 L306.25,500.86 L306.83,500.85 L307.41,500.83 L307.98,500.82 L308.56,500.81 L309.13,500.8 L309.71,500.8 L310.29,500.8 L310.86,500.8 L311.44,500.81 L312.01,500.81 L312.59,500.82 L313.16,500.83 L313.74,500.84 L314.32,500.85 L314.89,500.86 L315.47,500.87 L316.04,500.88 L316.62,500.89 L317.19,500.89 L317.77,500.9 L318.35,500.9 L318.92,500.33 L319.5,499.4 L320.07,499.41 L320.65,499.44 L321.22,499.48 L321.8,499.54 L322.38,499.6 L322.95,499.67 L323.53,499.74 L324.1,499.81 L324.68,499.87 L325.25,499.92 L325.83,499.98 L326.41,500.03 L326.98,500.08 L327.56,500.14 L328.13,500.19 L328.71,500.24 L329.28,500.3 L329.86,500.34 L330.44,500.39 L331.01,500.43 L331.59,500.47 L332.16,500.51 L332.74,500.54 L333.32,500.58 L333.89,500.61 L334.47,500.64 L335.04,500.67 L335.62,500.7 L336.19,500.73 L336.77,500.76 L337.35,500.78 L337.92,500.81 L338.5,500.83 L339.07,500.85 L339.65,500.87 L340.22,500.89 L340.8,500.9" fill="none" stroke="#1e00c4" stroke-width="2.5" stroke-linejoin="round" stroke-linecap="round" />
<rect x="53.5" y="293.3" width="286.9" height="228.7" fill="none" stroke="#000" stroke-width="2.9"/>
<line x1="100.2" y1="522" x2="100.2" y2="526.6" stroke="#000" stroke-width="2.3"/>
<line x1="148.3" y1="522" x2="148.3" y2="526.6" stroke="#000" stroke-width="2.3"/>
<line x1="196.4" y1="522" x2="196.4" y2="526.6" stroke="#000" stroke-width="2.3"/>
<line x1="244.5" y1="522" x2="244.5" y2="526.6" stroke="#000" stroke-width="2.3"/>
<line x1="292.6" y1="522" x2="292.6" y2="526.6" stroke="#000" stroke-width="2.3"/>
<line x1="76.15" y1="522" x2="76.15" y2="524.6" stroke="#000" stroke-width="2.0"/>
<line x1="124.25" y1="522" x2="124.25" y2="524.6" stroke="#000" stroke-width="2.0"/>
<line x1="172.35" y1="522" x2="172.35" y2="524.6" stroke="#000" stroke-width="2.0"/>
<line x1="220.45" y1="522" x2="220.45" y2="524.6" stroke="#000" stroke-width="2.0"/>
<line x1="268.55" y1="522" x2="268.55" y2="524.6" stroke="#000" stroke-width="2.0"/>
<line x1="316.65" y1="522" x2="316.65" y2="524.6" stroke="#000" stroke-width="2.0"/>
<text x="100.2" y="544.2" font-size="15.6" text-anchor="middle" >450</text>
<text x="148.3" y="544.2" font-size="15.6" text-anchor="middle" >500</text>
<text x="196.4" y="544.2" font-size="15.6" text-anchor="middle" >550</text>
<text x="244.5" y="544.2" font-size="15.6" text-anchor="middle" >600</text>
<text x="292.6" y="544.2" font-size="15.6" text-anchor="middle" >650</text>
<text x="4.8" y="299.5" font-size="21" text-anchor="start" >(c)</text>
<text x="196.1" y="563" font-size="19.9" text-anchor="middle" >Wavelength (nm)</text>
<text x="31" y="468.8" font-size="19.9" text-anchor="start" transform="rotate(-90 31 468.8)" >Intensity (a.u.)</text>
<line x1="61.6" y1="317.3" x2="94.2" y2="317.3" stroke="#ff1408" stroke-width="2.4"/>
<line x1="61.6" y1="338.2" x2="94.2" y2="338.2" stroke="#1e00c4" stroke-width="2.4"/>
<text x="97.8" y="321.7" font-size="14.1" text-anchor="start" >[Emim]BF<tspan font-size="9.73" dy="3.1">4</tspan><tspan dy="-3.1">@PCN-250-Fe</tspan><tspan font-size="9.73" dy="3.1">2</tspan><tspan dy="-3.1">Co</tspan></text>
<text x="97.8" y="342.7" font-size="14.1" text-anchor="start" >PCN-250-Fe<tspan font-size="9.73" dy="3.1">2</tspan><tspan dy="-3.1">Co</tspan></text>
</g>
<g id="pd">
<clipPath id="cd"><rect x="394.8" y="293.2" width="281.5" height="222.2"/></clipPath>
<g clip-path="url(#cd)">
<g fill="#4a44ff" fill-opacity="0.4" stroke="#2a1cff" stroke-opacity="0.55" stroke-width="0.8">
<circle cx="396" cy="338.23" r="2.6"/>
<circle cx="396.31" cy="337.86" r="2.6"/>
<circle cx="396.62" cy="338.95" r="2.6"/>
<circle cx="396.93" cy="339.73" r="2.6"/>
<circle cx="397.24" cy="340.61" r="2.6"/>
<circle cx="397.55" cy="342.25" r="2.6"/>
<circle cx="397.87" cy="343.48" r="2.6"/>
<circle cx="398.18" cy="343.67" r="2.6"/>
<circle cx="398.49" cy="345.09" r="2.6"/>
<circle cx="398.8" cy="346.71" r="2.6"/>
<circle cx="399.11" cy="347.43" r="2.6"/>
<circle cx="399.42" cy="348.89" r="2.6"/>
<circle cx="399.73" cy="351.66" r="2.6"/>
<circle cx="400.04" cy="353.7" r="2.6"/>
<circle cx="400.35" cy="354.72" r="2.6"/>
<circle cx="400.66" cy="354.97" r="2.6"/>
<circle cx="400.97" cy="357.15" r="2.6"/>
<circle cx="401.29" cy="358.1" r="2.6"/>
<circle cx="401.6" cy="360.07" r="2.6"/>
<circle cx="401.91" cy="360.28" r="2.6"/>
<circle cx="402.22" cy="362.08" r="2.6"/>
<circle cx="402.53" cy="363.27" r="2.6"/>
<circle cx="402.84" cy="365.28" r="2.6"/>
<circle cx="403.15" cy="366.76" r="2.6"/>
<circle cx="403.46" cy="366.73" r="2.6"/>
<circle cx="403.77" cy="370.94" r="2.6"/>
<circle cx="404.08" cy="370.98" r="2.6"/>
<circle cx="404.39" cy="372.66" r="2.6"/>
<circle cx="404.71" cy="375" r="2.6"/>
<circle cx="405.02" cy="374.12" r="2.6"/>
<circle cx="405.33" cy="374.66" r="2.6"/>
<circle cx="405.64" cy="376.3" r="2.6"/>
<circle cx="405.95" cy="379.82" r="2.6"/>
<circle cx="406.26" cy="380.3" r="2.6"/>
<circle cx="406.57" cy="382.08" r="2.6"/>
<circle cx="406.88" cy="380.82" r="2.6"/>
<circle cx="407.19" cy="380.96" r="2.6"/>
<circle cx="407.5" cy="385.18" r="2.6"/>
<circle cx="407.81" cy="387.09" r="2.6"/>
<circle cx="408.13" cy="384.52" r="2.6"/>
<circle cx="408.44" cy="385.09" r="2.6"/>
<circle cx="408.75" cy="386.7" r="2.6"/>
<circle cx="409.06" cy="388.76" r="2.6"/>
<circle cx="409.37" cy="389.27" r="2.6"/>
<circle cx="409.68" cy="390.29" r="2.6"/>
<circle cx="409.99" cy="389.41" r="2.6"/>
<circle cx="410.3" cy="391.85" r="2.6"/>
<circle cx="410.61" cy="389.33" r="2.6"/>
<circle cx="410.92" cy="391" r="2.6"/>
<circle cx="411.23" cy="392.21" r="2.6"/>
<circle cx="411.55" cy="392.71" r="2.6"/>
<circle cx="411.86" cy="394.48" r="2.6"/>
<circle cx="412.17" cy="397.24" r="2.6"/>
<circle cx="412.48" cy="395.02" r="2.6"/>
<circle cx="412.79" cy="398.43" r="2.6"/>
<circle cx="413.1" cy="396.36" r="2.6"/>
<circle cx="413.41" cy="400.29" r="2.6"/>
<circle cx="413.72" cy="400.08" r="2.6"/>
<circle cx="414.03" cy="402.08" r="2.6"/>
<circle cx="414.34" cy="401.86" r="2.6"/>
<circle cx="414.65" cy="405.96" r="2.6"/>
<circle cx="414.96" cy="403.54" r="2.6"/>
<circle cx="415.28" cy="401.36" r="2.6"/>
<circle cx="415.59" cy="406.59" r="2.6"/>
<circle cx="415.9" cy="406.85" r="2.6"/>
<circle cx="416.21" cy="406.67" r="2.6"/>
<circle cx="416.52" cy="405.1" r="2.6"/>
<circle cx="416.83" cy="408.48" r="2.6"/>
<circle cx="417.14" cy="406.94" r="2.6"/>
<circle cx="417.45" cy="409.35" r="2.6"/>
<circle cx="417.76" cy="409.21" r="2.6"/>
<circle cx="418.07" cy="410.24" r="2.6"/>
<circle cx="418.38" cy="410.24" r="2.6"/>
<circle cx="418.7" cy="411.8" r="2.6"/>
<circle cx="419.01" cy="411.62" r="2.6"/>
<circle cx="419.32" cy="415.19" r="2.6"/>
<circle cx="419.63" cy="412.25" r="2.6"/>
<circle cx="419.94" cy="413.28" r="2.6"/>
<circle cx="420.25" cy="414.62" r="2.6"/>
<circle cx="420.56" cy="414.73" r="2.6"/>
<circle cx="420.87" cy="415.84" r="2.6"/>
<circle cx="421.18" cy="415.83" r="2.6"/>
<circle cx="421.49" cy="417.49" r="2.6"/>
<circle cx="421.8" cy="414.99" r="2.6"/>
<circle cx="422.12" cy="414.51" r="2.6"/>
<circle cx="422.43" cy="418.49" r="2.6"/>
<circle cx="422.74" cy="415.23" r="2.6"/>
<circle cx="423.05" cy="415.83" r="2.6"/>
<circle cx="423.36" cy="418.39" r="2.6"/>
<circle cx="423.67" cy="417.19" r="2.6"/>
<circle cx="423.98" cy="421.84" r="2.6"/>
<circle cx="424.29" cy="422.33" r="2.6"/>
<circle cx="424.6" cy="418.83" r="2.6"/>
<circle cx="424.91" cy="421.69" r="2.6"/>
<circle cx="425.22" cy="418.94" r="2.6"/>
<circle cx="425.54" cy="421.92" r="2.6"/>
<circle cx="425.85" cy="418.55" r="2.6"/>
<circle cx="426.16" cy="421.42" r="2.6"/>
<circle cx="426.47" cy="421.16" r="2.6"/>
<circle cx="426.78" cy="422.11" r="2.6"/>
<circle cx="427.09" cy="419.16" r="2.6"/>
<circle cx="427.4" cy="422.2" r="2.6"/>
<circle cx="427.71" cy="421.06" r="2.6"/>
<circle cx="428.02" cy="422.7" r="2.6"/>
<circle cx="428.33" cy="422.18" r="2.6"/>
<circle cx="428.64" cy="423.21" r="2.6"/>
<circle cx="428.96" cy="422.71" r="2.6"/>
<circle cx="429.27" cy="427.12" r="2.6"/>
<circle cx="429.58" cy="427.52" r="2.6"/>
<circle cx="429.89" cy="428.01" r="2.6"/>
<circle cx="430.2" cy="427.06" r="2.6"/>
<circle cx="430.51" cy="421.7" r="2.6"/>
<circle cx="430.82" cy="421.96" r="2.6"/>
<circle cx="431.13" cy="422.68" r="2.6"/>
<circle cx="431.44" cy="428.78" r="2.6"/>
<circle cx="431.75" cy="425.65" r="2.6"/>
<circle cx="432.06" cy="425.09" r="2.6"/>
<circle cx="432.38" cy="426.84" r="2.6"/>
<circle cx="432.69" cy="427.19" r="2.6"/>
<circle cx="433" cy="421.89" r="2.6"/>
<circle cx="433.31" cy="427.47" r="2.6"/>
<circle cx="433.62" cy="430.39" r="2.6"/>
<circle cx="433.93" cy="428.63" r="2.6"/>
<circle cx="434.24" cy="426.57" r="2.6"/>
<circle cx="434.55" cy="428.92" r="2.6"/>
<circle cx="434.86" cy="425.23" r="2.6"/>
<circle cx="435.17" cy="425.69" r="2.6"/>
<circle cx="435.48" cy="426.58" r="2.6"/>
<circle cx="435.8" cy="430.6" r="2.6"/>
<circle cx="436.11" cy="428.83" r="2.6"/>
<circle cx="436.42" cy="431.57" r="2.6"/>
<circle cx="436.73" cy="431.44" r="2.6"/>
<circle cx="437.04" cy="429.11" r="2.6"/>
<circle cx="437.35" cy="428.71" r="2.6"/>
<circle cx="437.66" cy="427.51" r="2.6"/>
<circle cx="437.97" cy="430.26" r="2.6"/>
<circle cx="438.28" cy="430.08" r="2.6"/>
<circle cx="438.59" cy="428.68" r="2.6"/>
<circle cx="438.9" cy="433.6" r="2.6"/>
<circle cx="439.22" cy="428.34" r="2.6"/>
<circle cx="439.53" cy="429.63" r="2.6"/>
<circle cx="439.84" cy="433.88" r="2.6"/>
<circle cx="440.15" cy="434.58" r="2.6"/>
<circle cx="440.46" cy="429.69" r="2.6"/>
<circle cx="440.77" cy="433.16" r="2.6"/>
<circle cx="441.08" cy="430.75" r="2.6"/>
<circle cx="441.39" cy="433.74" r="2.6"/>
<circle cx="441.7" cy="432.24" r="2.6"/>
<circle cx="442.01" cy="433.9" r="2.6"/>
<circle cx="442.32" cy="432.51" r="2.6"/>
<circle cx="442.64" cy="430.57" r="2.6"/>
<circle cx="442.95" cy="427.89" r="2.6"/>
<circle cx="443.26" cy="431.16" r="2.6"/>
<circle cx="443.57" cy="433.65" r="2.6"/>
<circle cx="443.88" cy="433.04" r="2.6"/>
<circle cx="444.19" cy="432.25" r="2.6"/>
<circle cx="444.5" cy="431.9" r="2.6"/>
<circle cx="444.81" cy="436.15" r="2.6"/>
<circle cx="445.12" cy="432.91" r="2.6"/>
<circle cx="445.43" cy="430.94" r="2.6"/>
<circle cx="445.74" cy="430.06" r="2.6"/>
<circle cx="446.06" cy="430.61" r="2.6"/>
<circle cx="446.37" cy="433.23" r="2.6"/>
<circle cx="446.68" cy="433.17" r="2.6"/>
<circle cx="446.99" cy="429.67" r="2.6"/>
<circle cx="447.3" cy="435.25" r="2.6"/>
<circle cx="447.61" cy="434.67" r="2.6"/>
<circle cx="447.92" cy="436.18" r="2.6"/>
<circle cx="448.23" cy="433" r="2.6"/>
<circle cx="448.54" cy="429.34" r="2.6"/>
<circle cx="448.85" cy="431.06" r="2.6"/>
<circle cx="449.16" cy="434.22" r="2.6"/>
<circle cx="449.47" cy="437.4" r="2.6"/>
<circle cx="449.79" cy="429.64" r="2.6"/>
<circle cx="450.1" cy="434.41" r="2.6"/>
<circle cx="450.41" cy="431.88" r="2.6"/>
<circle cx="450.72" cy="435.62" r="2.6"/>
<circle cx="451.03" cy="434.79" r="2.6"/>
<circle cx="451.34" cy="436.3" r="2.6"/>
<circle cx="451.65" cy="433.91" r="2.6"/>
<circle cx="451.96" cy="432.7" r="2.6"/>
<circle cx="452.27" cy="433.66" r="2.6"/>
<circle cx="452.58" cy="434.51" r="2.6"/>
<circle cx="452.89" cy="438.06" r="2.6"/>
<circle cx="453.21" cy="432.28" r="2.6"/>
<circle cx="453.52" cy="436.62" r="2.6"/>
<circle cx="453.83" cy="439.05" r="2.6"/>
<circle cx="454.14" cy="431.56" r="2.6"/>
<circle cx="454.45" cy="435.08" r="2.6"/>
<circle cx="454.76" cy="432.39" r="2.6"/>
<circle cx="455.07" cy="438.79" r="2.6"/>
<circle cx="455.38" cy="436.59" r="2.6"/>
<circle cx="455.69" cy="439.22" r="2.6"/>
<circle cx="456" cy="432.77" r="2.6"/>
<circle cx="456.31" cy="438.58" r="2.6"/>
<circle cx="456.63" cy="438.25" r="2.6"/>
<circle cx="456.94" cy="432.89" r="2.6"/>
<circle cx="457.25" cy="441.49" r="2.6"/>
<circle cx="457.56" cy="436.63" r="2.6"/>
<circle cx="457.87" cy="436.21" r="2.6"/>
<circle cx="458.18" cy="440.04" r="2.6"/>
<circle cx="458.49" cy="433.75" r="2.6"/>
<circle cx="458.8" cy="437.93" r="2.6"/>
<circle cx="459.11" cy="438.99" r="2.6"/>
<circle cx="459.42" cy="437.8" r="2.6"/>
<circle cx="459.73" cy="438.71" r="2.6"/>
<circle cx="460.05" cy="435.61" r="2.6"/>
<circle cx="460.36" cy="434.45" r="2.6"/>
<circle cx="460.67" cy="440.55" r="2.6"/>
<circle cx="460.98" cy="437.07" r="2.6"/>
<circle cx="461.29" cy="441.82" r="2.6"/>
<circle cx="461.6" cy="438.97" r="2.6"/>
<circle cx="461.91" cy="438.2" r="2.6"/>
<circle cx="462.22" cy="439.97" r="2.6"/>
<circle cx="462.53" cy="441.86" r="2.6"/>
<circle cx="462.84" cy="438.17" r="2.6"/>
<circle cx="463.15" cy="440.18" r="2.6"/>
<circle cx="463.47" cy="440.23" r="2.6"/>
<circle cx="463.78" cy="441.96" r="2.6"/>
<circle cx="464.09" cy="440.79" r="2.6"/>
<circle cx="464.4" cy="440.2" r="2.6"/>
<circle cx="464.71" cy="437.07" r="2.6"/>
<circle cx="465.02" cy="441.35" r="2.6"/>
<circle cx="465.33" cy="440.03" r="2.6"/>
<circle cx="465.64" cy="441.36" r="2.6"/>
<circle cx="465.95" cy="438.9" r="2.6"/>
<circle cx="466.26" cy="443" r="2.6"/>
<circle cx="466.57" cy="439.9" r="2.6"/>
<circle cx="466.89" cy="440.44" r="2.6"/>
<circle cx="467.2" cy="432.24" r="2.6"/>
<circle cx="467.51" cy="440.9" r="2.6"/>
<circle cx="467.82" cy="437.49" r="2.6"/>
<circle cx="468.13" cy="438.44" r="2.6"/>
<circle cx="468.44" cy="442.75" r="2.6"/>
<circle cx="468.75" cy="444.53" r="2.6"/>
<circle cx="469.06" cy="443.18" r="2.6"/>
<circle cx="469.37" cy="437.01" r="2.6"/>
<circle cx="469.68" cy="439.4" r="2.6"/>
<circle cx="469.99" cy="436.83" r="2.6"/>
<circle cx="470.31" cy="437.03" r="2.6"/>
<circle cx="470.62" cy="443.51" r="2.6"/>
<circle cx="470.93" cy="441.57" r="2.6"/>
<circle cx="471.24" cy="446.03" r="2.6"/>
<circle cx="471.55" cy="438.12" r="2.6"/>
<circle cx="471.86" cy="442.11" r="2.6"/>
<circle cx="472.17" cy="440.47" r="2.6"/>
<circle cx="472.48" cy="446.31" r="2.6"/>
<circle cx="472.79" cy="442.2" r="2.6"/>
<circle cx="473.1" cy="443.47" r="2.6"/>
<circle cx="473.41" cy="446" r="2.6"/>
<circle cx="473.73" cy="442.37" r="2.6"/>
<circle cx="474.04" cy="444.65" r="2.6"/>
<circle cx="474.35" cy="447.96" r="2.6"/>
<circle cx="474.66" cy="443.93" r="2.6"/>
<circle cx="474.97" cy="443.3" r="2.6"/>
<circle cx="475.28" cy="440.41" r="2.6"/>
<circle cx="475.59" cy="440.97" r="2.6"/>
<circle cx="475.9" cy="442.41" r="2.6"/>
<circle cx="476.21" cy="444.48" r="2.6"/>
<circle cx="476.52" cy="445.1" r="2.6"/>
<circle cx="476.83" cy="444.33" r="2.6"/>
<circle cx="477.15" cy="441.72" r="2.6"/>
<circle cx="477.46" cy="445.85" r="2.6"/>
<circle cx="477.77" cy="444.4" r="2.6"/>
<circle cx="478.08" cy="445.55" r="2.6"/>
<circle cx="478.39" cy="443.96" r="2.6"/>
<circle cx="478.7" cy="445.32" r="2.6"/>
<circle cx="479.01" cy="448.01" r="2.6"/>
<circle cx="479.32" cy="445.43" r="2.6"/>
<circle cx="479.63" cy="445.05" r="2.6"/>
<circle cx="479.94" cy="447.47" r="2.6"/>
<circle cx="480.25" cy="446.96" r="2.6"/>
<circle cx="480.57" cy="449.56" r="2.6"/>
<circle cx="480.88" cy="447.72" r="2.6"/>
<circle cx="481.19" cy="448.49" r="2.6"/>
<circle cx="481.5" cy="444.11" r="2.6"/>
<circle cx="481.81" cy="450.16" r="2.6"/>
<circle cx="482.12" cy="446" r="2.6"/>
<circle cx="482.43" cy="450.08" r="2.6"/>
<circle cx="482.74" cy="444.28" r="2.6"/>
<circle cx="483.05" cy="446.97" r="2.6"/>
<circle cx="483.36" cy="450.72" r="2.6"/>
<circle cx="483.67" cy="448.32" r="2.6"/>
<circle cx="483.98" cy="447.72" r="2.6"/>
<circle cx="484.3" cy="442.21" r="2.6"/>
<circle cx="484.61" cy="450.74" r="2.6"/>
<circle cx="484.92" cy="449.19" r="2.6"/>
<circle cx="485.23" cy="451.11" r="2.6"/>
<circle cx="485.54" cy="447.38" r="2.6"/>
<circle cx="485.85" cy="447.65" r="2.6"/>
<circle cx="486.16" cy="450.04" r="2.6"/>
<circle cx="486.47" cy="450.35" r="2.6"/>
<circle cx="486.78" cy="452.9" r="2.6"/>
<circle cx="487.09" cy="444.24" r="2.6"/>
<circle cx="487.4" cy="451.29" r="2.6"/>
<circle cx="487.72" cy="448.2" r="2.6"/>
<circle cx="488.03" cy="449.09" r="2.6"/>
<circle cx="488.34" cy="449.67" r="2.6"/>
<circle cx="488.65" cy="450.38" r="2.6"/>
<circle cx="488.96" cy="448.71" r="2.6"/>
<circle cx="489.27" cy="449.32" r="2.6"/>
<circle cx="489.58" cy="454.03" r="2.6"/>
<circle cx="489.89" cy="455.61" r="2.6"/>
<circle cx="490.2" cy="451.23" r="2.6"/>
<circle cx="490.51" cy="455.17" r="2.6"/>
<circle cx="490.82" cy="450.84" r="2.6"/>
<circle cx="491.14" cy="456.01" r="2.6"/>
<circle cx="491.45" cy="449.69" r="2.6"/>
<circle cx="491.76" cy="449.05" r="2.6"/>
<circle cx="492.07" cy="452.67" r="2.6"/>
<circle cx="492.38" cy="454.94" r="2.6"/>
<circle cx="492.69" cy="448.65" r="2.6"/>
<circle cx="493" cy="450.05" r="2.6"/>
<circle cx="493.31" cy="452.09" r="2.6"/>
<circle cx="493.62" cy="450.84" r="2.6"/>
<circle cx="493.93" cy="453.38" r="2.6"/>
<circle cx="494.24" cy="451.56" r="2.6"/>
<circle cx="494.56" cy="452.6" r="2.6"/>
<circle cx="494.87" cy="454.6" r="2.6"/>
<circle cx="495.18" cy="458.47" r="2.6"/>
<circle cx="495.49" cy="453.27" r="2.6"/>
<circle cx="495.8" cy="454.39" r="2.6"/>
<circle cx="496.11" cy="455.65" r="2.6"/>
<circle cx="496.42" cy="451.84" r="2.6"/>
<circle cx="496.73" cy="455.08" r="2.6"/>
<circle cx="497.04" cy="454.62" r="2.6"/>
<circle cx="497.35" cy="452.11" r="2.6"/>
<circle cx="497.66" cy="454.05" r="2.6"/>
<circle cx="497.98" cy="452.86" r="2.6"/>
<circle cx="498.29" cy="451.96" r="2.6"/>
<circle cx="498.6" cy="455.33" r="2.6"/>
<circle cx="498.91" cy="459.18" r="2.6"/>
<circle cx="499.22" cy="453.56" r="2.6"/>
<circle cx="499.53" cy="455.12" r="2.6"/>
<circle cx="499.84" cy="452.21" r="2.6"/>
<circle cx="500.15" cy="455.09" r="2.6"/>
<circle cx="500.46" cy="454.13" r="2.6"/>
<circle cx="500.77" cy="456.33" r="2.6"/>
<circle cx="501.08" cy="456.46" r="2.6"/>
<circle cx="501.4" cy="454.8" r="2.6"/>
<circle cx="501.71" cy="456.67" r="2.6"/>
<circle cx="502.02" cy="454.96" r="2.6"/>
<circle cx="502.33" cy="457.03" r="2.6"/>
<circle cx="502.64" cy="456.24" r="2.6"/>
<circle cx="502.95" cy="457.19" r="2.6"/>
<circle cx="503.26" cy="457.3" r="2.6"/>
<circle cx="503.57" cy="457.38" r="2.6"/>
<circle cx="503.88" cy="455.17" r="2.6"/>
<circle cx="504.19" cy="457.26" r="2.6"/>
<circle cx="504.5" cy="458.05" r="2.6"/>
<circle cx="504.82" cy="453.96" r="2.6"/>
<circle cx="505.13" cy="457.93" r="2.6"/>
<circle cx="505.44" cy="459.44" r="2.6"/>
<circle cx="505.75" cy="452.29" r="2.6"/>
<circle cx="506.06" cy="449.32" r="2.6"/>
<circle cx="506.37" cy="460.13" r="2.6"/>
<circle cx="506.68" cy="454.39" r="2.6"/>
<circle cx="506.99" cy="458.27" r="2.6"/>
<circle cx="507.3" cy="455.13" r="2.6"/>
<circle cx="507.61" cy="458.6" r="2.6"/>
<circle cx="507.92" cy="455.01" r="2.6"/>
<circle cx="508.24" cy="460.65" r="2.6"/>
<circle cx="508.55" cy="452.92" r="2.6"/>
<circle cx="508.86" cy="452.58" r="2.6"/>
<circle cx="509.17" cy="456.53" r="2.6"/>
<circle cx="509.48" cy="456.68" r="2.6"/>
<circle cx="509.79" cy="455.19" r="2.6"/>
<circle cx="510.1" cy="458.3" r="2.6"/>
<circle cx="510.41" cy="460.37" r="2.6"/>
<circle cx="510.72" cy="455.75" r="2.6"/>
<circle cx="511.03" cy="462.19" r="2.6"/>
<circle cx="511.34" cy="459.38" r="2.6"/>
<circle cx="511.66" cy="457.1" r="2.6"/>
<circle cx="511.97" cy="461.7" r="2.6"/>
<circle cx="512.28" cy="459.38" r="2.6"/>
<circle cx="512.59" cy="457.18" r="2.6"/>
<circle cx="512.9" cy="460.13" r="2.6"/>
<circle cx="513.21" cy="459.14" r="2.6"/>
<circle cx="513.52" cy="461.56" r="2.6"/>
<circle cx="513.83" cy="458.88" r="2.6"/>
<circle cx="514.14" cy="460.78" r="2.6"/>
<circle cx="514.45" cy="459.72" r="2.6"/>
<circle cx="514.76" cy="458.44" r="2.6"/>
<circle cx="515.08" cy="460.6" r="2.6"/>
<circle cx="515.39" cy="452.83" r="2.6"/>
<circle cx="515.7" cy="458.96" r="2.6"/>
<circle cx="516.01" cy="460.23" r="2.6"/>
<circle cx="516.32" cy="459.55" r="2.6"/>
<circle cx="516.63" cy="466.27" r="2.6"/>
<circle cx="516.94" cy="460.91" r="2.6"/>
<circle cx="517.25" cy="454.23" r="2.6"/>
<circle cx="517.56" cy="458.88" r="2.6"/>
<circle cx="517.87" cy="458.01" r="2.6"/>
<circle cx="518.18" cy="459.2" r="2.6"/>
<circle cx="518.49" cy="456.63" r="2.6"/>
<circle cx="518.81" cy="463.07" r="2.6"/>
<circle cx="519.12" cy="464.22" r="2.6"/>
<circle cx="519.43" cy="456.92" r="2.6"/>
<circle cx="519.74" cy="459.97" r="2.6"/>
<circle cx="520.05" cy="457.86" r="2.6"/>
<circle cx="520.36" cy="456.48" r="2.6"/>
<circle cx="520.67" cy="459.2" r="2.6"/>
<circle cx="520.98" cy="464.7" r="2.6"/>
<circle cx="521.29" cy="460.93" r="2.6"/>
<circle cx="521.6" cy="459.24" r="2.6"/>
<circle cx="521.91" cy="457.94" r="2.6"/>
<circle cx="522.23" cy="459.04" r="2.6"/>
<circle cx="522.54" cy="463.54" r="2.6"/>
<circle cx="522.85" cy="465.79" r="2.6"/>
<circle cx="523.16" cy="463.13" r="2.6"/>
<circle cx="523.47" cy="461.44" r="2.6"/>
<circle cx="523.78" cy="456.55" r="2.6"/>
<circle cx="524.09" cy="465.81" r="2.6"/>
<circle cx="524.4" cy="459.87" r="2.6"/>
<circle cx="524.71" cy="461.02" r="2.6"/>
<circle cx="525.02" cy="463.87" r="2.6"/>
<circle cx="525.33" cy="457.6" r="2.6"/>
<circle cx="525.65" cy="466.33" r="2.6"/>
<circle cx="525.96" cy="464.5" r="2.6"/>
<circle cx="526.27" cy="466" r="2.6"/>
<circle cx="526.58" cy="463.91" r="2.6"/>
<circle cx="526.89" cy="470.62" r="2.6"/>
<circle cx="527.2" cy="460.49" r="2.6"/>
<circle cx="527.51" cy="464.25" r="2.6"/>
<circle cx="527.82" cy="463.65" r="2.6"/>
<circle cx="528.13" cy="460.16" r="2.6"/>
<circle cx="528.44" cy="461.54" r="2.6"/>
<circle cx="528.75" cy="459.24" r="2.6"/>
<circle cx="529.07" cy="461.35" r="2.6"/>
<circle cx="529.38" cy="460.24" r="2.6"/>
<circle cx="529.69" cy="464.39" r="2.6"/>
<circle cx="530" cy="469.13" r="2.6"/>
<circle cx="530.31" cy="466.87" r="2.6"/>
<circle cx="530.62" cy="471.08" r="2.6"/>
<circle cx="530.93" cy="461.47" r="2.6"/>
<circle cx="531.24" cy="459.1" r="2.6"/>
<circle cx="531.55" cy="466.46" r="2.6"/>
<circle cx="531.86" cy="461.18" r="2.6"/>
<circle cx="532.17" cy="459.7" r="2.6"/>
<circle cx="532.49" cy="459.81" r="2.6"/>
<circle cx="532.8" cy="466.06" r="2.6"/>
<circle cx="533.11" cy="466.47" r="2.6"/>
<circle cx="533.42" cy="467.77" r="2.6"/>
<circle cx="533.73" cy="466.43" r="2.6"/>
<circle cx="534.04" cy="467.32" r="2.6"/>
<circle cx="534.35" cy="467.87" r="2.6"/>
<circle cx="534.66" cy="465.51" r="2.6"/>
<circle cx="534.97" cy="459.04" r="2.6"/>
<circle cx="535.28" cy="461.8" r="2.6"/>
<circle cx="535.59" cy="467.45" r="2.6"/>
<circle cx="535.91" cy="463.69" r="2.6"/>
<circle cx="536.22" cy="461.95" r="2.6"/>
<circle cx="536.53" cy="470.49" r="2.6"/>
<circle cx="536.84" cy="465.09" r="2.6"/>
<circle cx="537.15" cy="463.33" r="2.6"/>
<circle cx="537.46" cy="465.27" r="2.6"/>
<circle cx="537.77" cy="465.09" r="2.6"/>
<circle cx="538.08" cy="471.51" r="2.6"/>
<circle cx="538.39" cy="474.05" r="2.6"/>
<circle cx="538.7" cy="468.12" r="2.6"/>
<circle cx="539.01" cy="475.08" r="2.6"/>
<circle cx="539.33" cy="467.73" r="2.6"/>
<circle cx="539.64" cy="469.64" r="2.6"/>
<circle cx="539.95" cy="469.05" r="2.6"/>
<circle cx="540.26" cy="463.55" r="2.6"/>
<circle cx="540.57" cy="466.28" r="2.6"/>
<circle cx="540.88" cy="459.49" r="2.6"/>
<circle cx="541.19" cy="466.83" r="2.6"/>
<circle cx="541.5" cy="465.92" r="2.6"/>
<circle cx="541.81" cy="467.13" r="2.6"/>
<circle cx="542.12" cy="463.28" r="2.6"/>
<circle cx="542.43" cy="470.95" r="2.6"/>
<circle cx="542.75" cy="467.36" r="2.6"/>
<circle cx="543.06" cy="465.59" r="2.6"/>
<circle cx="543.37" cy="463.33" r="2.6"/>
<circle cx="543.68" cy="470.14" r="2.6"/>
<circle cx="543.99" cy="466.13" r="2.6"/>
<circle cx="544.3" cy="473.56" r="2.6"/>
<circle cx="544.61" cy="468.57" r="2.6"/>
<circle cx="544.92" cy="471.2" r="2.6"/>
<circle cx="545.23" cy="467.65" r="2.6"/>
<circle cx="545.54" cy="466.38" r="2.6"/>
<circle cx="545.85" cy="461.99" r="2.6"/>
<circle cx="546.17" cy="472.48" r="2.6"/>
<circle cx="546.48" cy="472.53" r="2.6"/>
<circle cx="546.79" cy="469.23" r="2.6"/>
<circle cx="547.1" cy="469.42" r="2.6"/>
<circle cx="547.41" cy="467.28" r="2.6"/>
<circle cx="547.72" cy="469.62" r="2.6"/>
<circle cx="548.03" cy="469.22" r="2.6"/>
<circle cx="548.34" cy="461.65" r="2.6"/>
<circle cx="548.65" cy="471.67" r="2.6"/>
<circle cx="548.96" cy="466.58" r="2.6"/>
<circle cx="549.27" cy="464.85" r="2.6"/>
<circle cx="549.59" cy="468.35" r="2.6"/>
<circle cx="549.9" cy="464.9" r="2.6"/>
<circle cx="550.21" cy="476.09" r="2.6"/>
<circle cx="550.52" cy="468.78" r="2.6"/>
<circle cx="550.83" cy="462.38" r="2.6"/>
<circle cx="551.14" cy="466.81" r="2.6"/>
<circle cx="551.45" cy="462.29" r="2.6"/>
<circle cx="551.76" cy="470.03" r="2.6"/>
<circle cx="552.07" cy="469.8" r="2.6"/>
<circle cx="552.38" cy="471.51" r="2.6"/>
<circle cx="552.69" cy="467.41" r="2.6"/>
<circle cx="553.01" cy="468.72" r="2.6"/>
<circle cx="553.32" cy="473.56" r="2.6"/>
<circle cx="553.63" cy="471.03" r="2.6"/>
<circle cx="553.94" cy="478.33" r="2.6"/>
<circle cx="554.25" cy="472.09" r="2.6"/>
<circle cx="554.56" cy="473" r="2.6"/>
<circle cx="554.87" cy="471.16" r="2.6"/>
<circle cx="555.18" cy="472.91" r="2.6"/>
<circle cx="555.49" cy="470.25" r="2.6"/>
<circle cx="555.8" cy="469.86" r="2.6"/>
<circle cx="556.11" cy="474.19" r="2.6"/>
<circle cx="556.42" cy="472.58" r="2.6"/>
<circle cx="556.74" cy="473.92" r="2.6"/>
<circle cx="557.05" cy="476.41" r="2.6"/>
<circle cx="557.36" cy="474.56" r="2.6"/>
<circle cx="557.67" cy="469.9" r="2.6"/>
<circle cx="557.98" cy="468.31" r="2.6"/>
<circle cx="558.29" cy="475.94" r="2.6"/>
<circle cx="558.6" cy="464.33" r="2.6"/>
<circle cx="558.91" cy="472.34" r="2.6"/>
<circle cx="559.22" cy="477.25" r="2.6"/>
<circle cx="559.53" cy="470.82" r="2.6"/>
<circle cx="559.84" cy="472.16" r="2.6"/>
<circle cx="560.16" cy="474.68" r="2.6"/>
<circle cx="560.47" cy="472.82" r="2.6"/>
<circle cx="560.78" cy="478.1" r="2.6"/>
<circle cx="561.09" cy="470.09" r="2.6"/>
<circle cx="561.4" cy="472.72" r="2.6"/>
<circle cx="561.71" cy="474.83" r="2.6"/>
<circle cx="562.02" cy="473.51" r="2.6"/>
<circle cx="562.33" cy="478.99" r="2.6"/>
<circle cx="562.64" cy="474.97" r="2.6"/>
<circle cx="562.95" cy="474.51" r="2.6"/>
<circle cx="563.26" cy="476.77" r="2.6"/>
<circle cx="563.58" cy="474.75" r="2.6"/>
<circle cx="563.89" cy="470" r="2.6"/>
<circle cx="564.2" cy="471.46" r="2.6"/>
<circle cx="564.51" cy="468.52" r="2.6"/>
<circle cx="564.82" cy="480.33" r="2.6"/>
<circle cx="565.13" cy="472.08" r="2.6"/>
<circle cx="565.44" cy="473.6" r="2.6"/>
<circle cx="565.75" cy="471.95" r="2.6"/>
<circle cx="566.06" cy="470.17" r="2.6"/>
<circle cx="566.37" cy="471.71" r="2.6"/>
<circle cx="566.68" cy="472.42" r="2.6"/>
<circle cx="567" cy="467.6" r="2.6"/>
<circle cx="567.31" cy="472.94" r="2.6"/>
<circle cx="567.62" cy="472.89" r="2.6"/>
<circle cx="567.93" cy="477.34" r="2.6"/>
<circle cx="568.24" cy="471.67" r="2.6"/>
<circle cx="568.55" cy="469.13" r="2.6"/>
<circle cx="568.86" cy="477.06" r="2.6"/>
<circle cx="569.17" cy="474.08" r="2.6"/>
<circle cx="569.48" cy="472.18" r="2.6"/>
<circle cx="569.79" cy="479.6" r="2.6"/>
<circle cx="570.1" cy="479.76" r="2.6"/>
<circle cx="570.42" cy="471.61" r="2.6"/>
<circle cx="570.73" cy="467.14" r="2.6"/>
<circle cx="571.04" cy="480.46" r="2.6"/>
<circle cx="571.35" cy="474.72" r="2.6"/>
<circle cx="571.66" cy="476.9" r="2.6"/>
<circle cx="571.97" cy="479.06" r="2.6"/>
<circle cx="572.28" cy="473.67" r="2.6"/>
<circle cx="572.59" cy="468.53" r="2.6"/>
<circle cx="572.9" cy="469.16" r="2.6"/>
<circle cx="573.21" cy="477.38" r="2.6"/>
<circle cx="573.52" cy="472.63" r="2.6"/>
<circle cx="573.84" cy="482.45" r="2.6"/>
<circle cx="574.15" cy="472.65" r="2.6"/>
<circle cx="574.46" cy="475.29" r="2.6"/>
<circle cx="574.77" cy="472.66" r="2.6"/>
<circle cx="575.08" cy="481.83" r="2.6"/>
<circle cx="575.39" cy="477.81" r="2.6"/>
<circle cx="575.7" cy="474.06" r="2.6"/>
<circle cx="576.01" cy="475.28" r="2.6"/>
<circle cx="576.32" cy="477.8" r="2.6"/>
<circle cx="576.63" cy="480.27" r="2.6"/>
<circle cx="576.94" cy="475.17" r="2.6"/>
<circle cx="577.26" cy="475.83" r="2.6"/>
<circle cx="577.57" cy="477.57" r="2.6"/>
<circle cx="577.88" cy="480.19" r="2.6"/>
<circle cx="578.19" cy="473.17" r="2.6"/>
<circle cx="578.5" cy="478.19" r="2.6"/>
<circle cx="578.81" cy="478.92" r="2.6"/>
<circle cx="579.12" cy="477.85" r="2.6"/>
<circle cx="579.43" cy="481.52" r="2.6"/>
<circle cx="579.74" cy="475.29" r="2.6"/>
<circle cx="580.05" cy="480.39" r="2.6"/>
<circle cx="580.36" cy="482.96" r="2.6"/>
<circle cx="580.68" cy="477.2" r="2.6"/>
<circle cx="580.99" cy="479.57" r="2.6"/>
<circle cx="581.3" cy="475.8" r="2.6"/>
<circle cx="581.61" cy="478.02" r="2.6"/>
<circle cx="581.92" cy="475.58" r="2.6"/>
<circle cx="582.23" cy="477.57" r="2.6"/>
<circle cx="582.54" cy="482.73" r="2.6"/>
<circle cx="582.85" cy="480.39" r="2.6"/>
<circle cx="583.16" cy="480.84" r="2.6"/>
<circle cx="583.47" cy="476.4" r="2.6"/>
<circle cx="583.78" cy="476.94" r="2.6"/>
<circle cx="584.1" cy="477.46" r="2.6"/>
<circle cx="584.41" cy="479.05" r="2.6"/>
<circle cx="584.72" cy="479.67" r="2.6"/>
<circle cx="585.03" cy="483.34" r="2.6"/>
<circle cx="585.34" cy="480.51" r="2.6"/>
<circle cx="585.65" cy="477.16" r="2.6"/>
<circle cx="585.96" cy="477.22" r="2.6"/>
<circle cx="586.27" cy="474.95" r="2.6"/>
<circle cx="586.58" cy="479.43" r="2.6"/>
<circle cx="586.89" cy="479.84" r="2.6"/>
<circle cx="587.2" cy="476.26" r="2.6"/>
<circle cx="587.52" cy="480.69" r="2.6"/>
<circle cx="587.83" cy="485.47" r="2.6"/>
<circle cx="588.14" cy="479.31" r="2.6"/>
<circle cx="588.45" cy="485.15" r="2.6"/>
<circle cx="588.76" cy="483.41" r="2.6"/>
<circle cx="589.07" cy="471.37" r="2.6"/>
<circle cx="589.38" cy="477.46" r="2.6"/>
<circle cx="589.69" cy="478.52" r="2.6"/>
<circle cx="590" cy="483.22" r="2.6"/>
<circle cx="590.31" cy="481.23" r="2.6"/>
<circle cx="590.62" cy="481.22" r="2.6"/>
<circle cx="590.93" cy="473.12" r="2.6"/>
<circle cx="591.25" cy="480" r="2.6"/>
<circle cx="591.56" cy="482.33" r="2.6"/>
<circle cx="591.87" cy="486.45" r="2.6"/>
<circle cx="592.18" cy="479.37" r="2.6"/>
<circle cx="592.49" cy="476.49" r="2.6"/>
<circle cx="592.8" cy="478.56" r="2.6"/>
<circle cx="593.11" cy="476.44" r="2.6"/>
<circle cx="593.42" cy="487.26" r="2.6"/>
<circle cx="593.73" cy="484.52" r="2.6"/>
<circle cx="594.04" cy="478.67" r="2.6"/>
<circle cx="594.35" cy="470.96" r="2.6"/>
<circle cx="594.67" cy="478.79" r="2.6"/>
<circle cx="594.98" cy="499.3" r="2.6"/>
<circle cx="595.29" cy="481.91" r="2.6"/>
<circle cx="595.6" cy="476.05" r="2.6"/>
<circle cx="595.91" cy="473.52" r="2.6"/>
<circle cx="596.22" cy="471.63" r="2.6"/>
<circle cx="596.53" cy="486.66" r="2.6"/>
<circle cx="596.84" cy="477.7" r="2.6"/>
<circle cx="597.15" cy="481.05" r="2.6"/>
<circle cx="597.46" cy="483.88" r="2.6"/>
<circle cx="597.77" cy="480.2" r="2.6"/>
<circle cx="598.09" cy="478.45" r="2.6"/>
<circle cx="598.4" cy="477.58" r="2.6"/>
<circle cx="598.71" cy="477.02" r="2.6"/>
<circle cx="599.02" cy="483.01" r="2.6"/>
<circle cx="599.33" cy="480.92" r="2.6"/>
<circle cx="599.64" cy="485.48" r="2.6"/>
<circle cx="599.95" cy="488.34" r="2.6"/>
<circle cx="600.26" cy="483.58" r="2.6"/>
<circle cx="600.57" cy="480.45" r="2.6"/>
<circle cx="600.88" cy="471.12" r="2.6"/>
<circle cx="601.19" cy="480.77" r="2.6"/>
<circle cx="601.51" cy="484.27" r="2.6"/>
<circle cx="601.82" cy="471.84" r="2.6"/>
<circle cx="602.13" cy="477.06" r="2.6"/>
<circle cx="602.44" cy="475.03" r="2.6"/>
<circle cx="602.75" cy="482" r="2.6"/>
<circle cx="603.06" cy="481.58" r="2.6"/>
<circle cx="603.37" cy="470.22" r="2.6"/>
<circle cx="603.68" cy="484.37" r="2.6"/>
<circle cx="603.99" cy="478.1" r="2.6"/>
<circle cx="604.3" cy="481.82" r="2.6"/>
<circle cx="604.61" cy="482.24" r="2.6"/>
<circle cx="604.93" cy="475.32" r="2.6"/>
<circle cx="605.24" cy="480.16" r="2.6"/>
<circle cx="605.55" cy="486.25" r="2.6"/>
<circle cx="605.86" cy="484.34" r="2.6"/>
<circle cx="606.17" cy="482.04" r="2.6"/>
<circle cx="606.48" cy="483.87" r="2.6"/>
<circle cx="606.79" cy="475.05" r="2.6"/>
<circle cx="607.1" cy="488.87" r="2.6"/>
<circle cx="607.41" cy="489.08" r="2.6"/>
<circle cx="607.72" cy="487.29" r="2.6"/>
<circle cx="608.03" cy="473.74" r="2.6"/>
<circle cx="608.35" cy="485.46" r="2.6"/>
<circle cx="608.66" cy="482.04" r="2.6"/>
<circle cx="608.97" cy="490.58" r="2.6"/>
<circle cx="609.28" cy="481.4" r="2.6"/>
<circle cx="609.59" cy="485.08" r="2.6"/>
<circle cx="609.9" cy="475.02" r="2.6"/>
<circle cx="610.21" cy="480.16" r="2.6"/>
<circle cx="610.52" cy="484.5" r="2.6"/>
<circle cx="610.83" cy="477.98" r="2.6"/>
<circle cx="611.14" cy="488.29" r="2.6"/>
<circle cx="611.45" cy="479.43" r="2.6"/>
<circle cx="611.77" cy="478.93" r="2.6"/>
<circle cx="612.08" cy="484.65" r="2.6"/>
<circle cx="612.39" cy="477.47" r="2.6"/>
<circle cx="612.7" cy="484.15" r="2.6"/>
<circle cx="613.01" cy="487.09" r="2.6"/>
<circle cx="613.32" cy="487.37" r="2.6"/>
<circle cx="613.63" cy="487.53" r="2.6"/>
<circle cx="613.94" cy="479.96" r="2.6"/>
<circle cx="614.25" cy="489.3" r="2.6"/>
<circle cx="614.56" cy="483.45" r="2.6"/>
<circle cx="614.87" cy="490.81" r="2.6"/>
<circle cx="615.19" cy="479.05" r="2.6"/>
<circle cx="615.5" cy="482" r="2.6"/>
<circle cx="615.81" cy="482.86" r="2.6"/>
<circle cx="616.12" cy="480.75" r="2.6"/>
<circle cx="616.43" cy="488.98" r="2.6"/>
<circle cx="616.74" cy="479.66" r="2.6"/>
<circle cx="617.05" cy="479.46" r="2.6"/>
<circle cx="617.36" cy="484.94" r="2.6"/>
<circle cx="617.67" cy="483.32" r="2.6"/>
<circle cx="617.98" cy="479.14" r="2.6"/>
<circle cx="618.29" cy="486.05" r="2.6"/>
<circle cx="618.61" cy="489.43" r="2.6"/>
<circle cx="618.92" cy="486.08" r="2.6"/>
<circle cx="619.23" cy="484.18" r="2.6"/>
<circle cx="619.54" cy="486.59" r="2.6"/>
<circle cx="619.85" cy="489.43" r="2.6"/>
<circle cx="620.16" cy="479.65" r="2.6"/>
<circle cx="620.47" cy="486.31" r="2.6"/>
<circle cx="620.78" cy="488.4" r="2.6"/>
<circle cx="621.09" cy="480.08" r="2.6"/>
<circle cx="621.4" cy="486.03" r="2.6"/>
<circle cx="621.71" cy="481.41" r="2.6"/>
<circle cx="622.03" cy="486.26" r="2.6"/>
<circle cx="622.34" cy="483.29" r="2.6"/>
<circle cx="622.65" cy="495.63" r="2.6"/>
<circle cx="622.96" cy="479.44" r="2.6"/>
<circle cx="623.27" cy="477.87" r="2.6"/>
<circle cx="623.58" cy="481.63" r="2.6"/>
<circle cx="623.89" cy="480.82" r="2.6"/>
<circle cx="624.2" cy="481.97" r="2.6"/>
<circle cx="624.51" cy="484.29" r="2.6"/>
<circle cx="624.82" cy="485.13" r="2.6"/>
<circle cx="625.13" cy="485.38" r="2.6"/>
<circle cx="625.44" cy="481.99" r="2.6"/>
<circle cx="625.76" cy="474.56" r="2.6"/>
<circle cx="626.07" cy="482.69" r="2.6"/>
<circle cx="626.38" cy="493.95" r="2.6"/>
<circle cx="626.69" cy="485.54" r="2.6"/>
<circle cx="627" cy="493.21" r="2.6"/>
<circle cx="627.31" cy="485.48" r="2.6"/>
<circle cx="627.62" cy="482.96" r="2.6"/>
<circle cx="627.93" cy="481.82" r="2.6"/>
<circle cx="628.24" cy="488.28" r="2.6"/>
<circle cx="628.55" cy="485.56" r="2.6"/>
<circle cx="628.86" cy="485.89" r="2.6"/>
<circle cx="629.18" cy="486.11" r="2.6"/>
<circle cx="629.49" cy="486.66" r="2.6"/>
<circle cx="629.8" cy="489.34" r="2.6"/>
<circle cx="630.11" cy="485.47" r="2.6"/>
<circle cx="630.42" cy="481.88" r="2.6"/>
<circle cx="630.73" cy="486.77" r="2.6"/>
<circle cx="631.04" cy="480.98" r="2.6"/>
<circle cx="631.35" cy="481.56" r="2.6"/>
<circle cx="631.66" cy="475.07" r="2.6"/>
<circle cx="631.97" cy="486.46" r="2.6"/>
<circle cx="632.28" cy="485.9" r="2.6"/>
<circle cx="632.6" cy="481.39" r="2.6"/>
<circle cx="632.91" cy="492.85" r="2.6"/>
<circle cx="633.22" cy="478.95" r="2.6"/>
<circle cx="633.53" cy="481.35" r="2.6"/>
<circle cx="633.84" cy="483.42" r="2.6"/>
<circle cx="634.15" cy="488.11" r="2.6"/>
<circle cx="634.46" cy="492.78" r="2.6"/>
<circle cx="634.77" cy="492.38" r="2.6"/>
<circle cx="635.08" cy="484.36" r="2.6"/>
<circle cx="635.39" cy="486.19" r="2.6"/>
<circle cx="635.7" cy="494.41" r="2.6"/>
<circle cx="636.02" cy="491.31" r="2.6"/>
<circle cx="636.33" cy="478.36" r="2.6"/>
<circle cx="636.64" cy="492.17" r="2.6"/>
<circle cx="636.95" cy="481.54" r="2.6"/>
<circle cx="637.26" cy="485.69" r="2.6"/>
<circle cx="637.57" cy="488.99" r="2.6"/>
<circle cx="637.88" cy="484.67" r="2.6"/>
<circle cx="638.19" cy="475.19" r="2.6"/>
<circle cx="638.5" cy="488.18" r="2.6"/>
<circle cx="638.81" cy="492.5" r="2.6"/>
<circle cx="639.12" cy="475.86" r="2.6"/>
<circle cx="639.44" cy="483.4" r="2.6"/>
<circle cx="639.75" cy="488.37" r="2.6"/>
<circle cx="640.06" cy="482" r="2.6"/>
<circle cx="640.37" cy="478.33" r="2.6"/>
<circle cx="640.68" cy="479.18" r="2.6"/>
<circle cx="640.99" cy="483.65" r="2.6"/>
<circle cx="641.3" cy="491.16" r="2.6"/>
<circle cx="641.61" cy="491.67" r="2.6"/>
<circle cx="641.92" cy="490.39" r="2.6"/>
<circle cx="642.23" cy="487.81" r="2.6"/>
<circle cx="642.54" cy="492.29" r="2.6"/>
<circle cx="642.86" cy="489.6" r="2.6"/>
<circle cx="643.17" cy="484.41" r="2.6"/>
<circle cx="643.48" cy="493.52" r="2.6"/>
<circle cx="643.79" cy="491.14" r="2.6"/>
<circle cx="644.1" cy="481.48" r="2.6"/>
<circle cx="644.41" cy="487.01" r="2.6"/>
<circle cx="644.72" cy="488.63" r="2.6"/>
<circle cx="645.03" cy="483.11" r="2.6"/>
<circle cx="645.34" cy="494.49" r="2.6"/>
<circle cx="645.65" cy="495.2" r="2.6"/>
<circle cx="645.96" cy="477.37" r="2.6"/>
<circle cx="646.28" cy="482.82" r="2.6"/>
<circle cx="646.59" cy="488.39" r="2.6"/>
<circle cx="646.9" cy="475.01" r="2.6"/>
<circle cx="647.21" cy="482.58" r="2.6"/>
<circle cx="647.52" cy="485.29" r="2.6"/>
<circle cx="647.83" cy="487.3" r="2.6"/>
<circle cx="648.14" cy="490.11" r="2.6"/>
<circle cx="648.45" cy="481.23" r="2.6"/>
<circle cx="648.76" cy="483.02" r="2.6"/>
<circle cx="649.07" cy="484.06" r="2.6"/>
<circle cx="649.38" cy="486.32" r="2.6"/>
<circle cx="649.7" cy="485.3" r="2.6"/>
<circle cx="650.01" cy="493.37" r="2.6"/>
<circle cx="650.32" cy="489.22" r="2.6"/>
<circle cx="650.63" cy="485.88" r="2.6"/>
<circle cx="650.94" cy="487.84" r="2.6"/>
<circle cx="651.25" cy="492.04" r="2.6"/>
<circle cx="651.56" cy="490.35" r="2.6"/>
<circle cx="651.87" cy="484" r="2.6"/>
<circle cx="652.18" cy="487.01" r="2.6"/>
<circle cx="652.49" cy="476.21" r="2.6"/>
<circle cx="652.8" cy="485.02" r="2.6"/>
<circle cx="653.12" cy="486.85" r="2.6"/>
<circle cx="653.43" cy="489.34" r="2.6"/>
<circle cx="653.74" cy="486.78" r="2.6"/>
<circle cx="654.05" cy="487.12" r="2.6"/>
<circle cx="654.36" cy="485.22" r="2.6"/>
<circle cx="654.67" cy="483.25" r="2.6"/>
<circle cx="654.98" cy="483.32" r="2.6"/>
<circle cx="655.29" cy="485.97" r="2.6"/>
<circle cx="655.6" cy="489.38" r="2.6"/>
<circle cx="655.91" cy="481.06" r="2.6"/>
<circle cx="656.22" cy="484.66" r="2.6"/>
<circle cx="656.54" cy="490.32" r="2.6"/>
<circle cx="656.85" cy="496.53" r="2.6"/>
<circle cx="657.16" cy="489.83" r="2.6"/>
<circle cx="657.47" cy="484.94" r="2.6"/>
<circle cx="657.78" cy="494.52" r="2.6"/>
<circle cx="658.09" cy="487.85" r="2.6"/>
<circle cx="658.4" cy="488.87" r="2.6"/>
<circle cx="658.71" cy="489.03" r="2.6"/>
<circle cx="659.02" cy="494.39" r="2.6"/>
<circle cx="659.33" cy="487.82" r="2.6"/>
<circle cx="659.64" cy="486.93" r="2.6"/>
<circle cx="659.95" cy="493.25" r="2.6"/>
<circle cx="660.27" cy="492.09" r="2.6"/>
<circle cx="660.58" cy="492.31" r="2.6"/>
<circle cx="660.89" cy="496.53" r="2.6"/>
<circle cx="661.2" cy="479.92" r="2.6"/>
<circle cx="661.51" cy="478.87" r="2.6"/>
<circle cx="661.82" cy="482.11" r="2.6"/>
<circle cx="662.13" cy="483.49" r="2.6"/>
<circle cx="662.44" cy="497.69" r="2.6"/>
<circle cx="662.75" cy="479.47" r="2.6"/>
<circle cx="663.06" cy="493.38" r="2.6"/>
<circle cx="663.37" cy="489.75" r="2.6"/>
<circle cx="663.69" cy="488.22" r="2.6"/>
<circle cx="664" cy="483.81" r="2.6"/>
<circle cx="664.31" cy="484.49" r="2.6"/>
<circle cx="664.62" cy="487.58" r="2.6"/>
<circle cx="664.93" cy="490.46" r="2.6"/>
<circle cx="665.24" cy="490.14" r="2.6"/>
<circle cx="665.55" cy="481.47" r="2.6"/>
<circle cx="665.86" cy="486.27" r="2.6"/>
<circle cx="666.17" cy="489.52" r="2.6"/>
<circle cx="666.48" cy="487.23" r="2.6"/>
<circle cx="666.79" cy="489.91" r="2.6"/>
<circle cx="667.11" cy="490.28" r="2.6"/>
<circle cx="667.42" cy="486.94" r="2.6"/>
<circle cx="667.73" cy="491.07" r="2.6"/>
<circle cx="668.04" cy="489.07" r="2.6"/>
<circle cx="668.35" cy="481.79" r="2.6"/>
<circle cx="668.66" cy="495.32" r="2.6"/>
<circle cx="668.97" cy="486.97" r="2.6"/>
<circle cx="669.28" cy="481.88" r="2.6"/>
<circle cx="669.59" cy="490.19" r="2.6"/>
<circle cx="669.9" cy="492.06" r="2.6"/>
<circle cx="670.21" cy="492.19" r="2.6"/>
<circle cx="670.53" cy="496.41" r="2.6"/>
<circle cx="670.84" cy="488.17" r="2.6"/>
<circle cx="671.15" cy="495.4" r="2.6"/>
<circle cx="671.46" cy="489.75" r="2.6"/>
<circle cx="671.77" cy="488.64" r="2.6"/>
<circle cx="672.08" cy="484.55" r="2.6"/>
<circle cx="672.39" cy="486.59" r="2.6"/>
<circle cx="672.7" cy="491.34" r="2.6"/>
<circle cx="673.01" cy="477.93" r="2.6"/>
<circle cx="673.32" cy="489.39" r="2.6"/>
<circle cx="673.63" cy="487.97" r="2.6"/>
<circle cx="673.95" cy="491.65" r="2.6"/>
<circle cx="674.26" cy="484.71" r="2.6"/>
<circle cx="674.57" cy="479.41" r="2.6"/>
<circle cx="674.88" cy="489.11" r="2.6"/>
<circle cx="675.19" cy="499.39" r="2.6"/>
<circle cx="675.5" cy="484.42" r="2.6"/>
</g>
<path d="M399,347.71 L399.93,351.72 L400.85,355.84 L401.78,360.02 L402.71,364.3 L403.64,368.76 L404.56,373.02 L405.49,376.71 L406.42,379.93 L407.35,382.87 L408.27,385.56 L409.2,388.03 L410.13,390.2 L411.06,392.3 L411.98,394.59 L412.91,397.17 L413.84,399.89 L414.77,402.59 L415.69,405.09 L416.62,407.24 L417.55,409.02 L418.48,410.67 L419.4,412.2 L420.33,413.62 L421.26,414.94 L422.19,416.16 L423.11,417.31 L424.04,418.37 L424.97,419.36 L425.9,420.28 L426.82,421.13 L427.75,421.94 L428.68,422.69 L429.61,423.4 L430.53,424.09 L431.46,424.76 L432.39,425.4 L433.31,426.03 L434.24,426.63 L435.17,427.21 L436.1,427.76 L437.02,428.29 L437.95,428.79 L438.88,429.27 L439.81,429.71 L440.73,430.13 L441.66,430.52 L442.59,430.89 L443.52,431.25 L444.44,431.58 L445.37,431.91 L446.3,432.22 L447.23,432.52 L448.15,432.82 L449.08,433.11 L450.01,433.4 L450.94,433.68 L451.86,433.97 L452.79,434.27 L453.72,434.57 L454.65,434.88 L455.57,435.19 L456.5,435.53 L457.43,435.87 L458.36,436.23 L459.28,436.6 L460.21,436.98 L461.14,437.36 L462.06,437.75 L462.99,438.14 L463.92,438.54 L464.85,438.95 L465.77,439.35 L466.7,439.76 L467.63,440.17 L468.56,440.58 L469.48,440.99 L470.41,441.4 L471.34,441.81 L472.27,442.22 L473.19,442.62 L474.12,443.02 L475.05,443.42 L475.98,443.82 L476.9,444.21 L477.83,444.61 L478.76,445.01 L479.69,445.42 L480.61,445.82 L481.54,446.22 L482.47,446.62 L483.4,447.02 L484.32,447.42 L485.25,447.82 L486.18,448.21 L487.11,448.6 L488.03,448.98 L488.96,449.36 L489.89,449.74 L490.82,450.11 L491.74,450.47 L492.67,450.83 L493.6,451.18 L494.52,451.53 L495.45,451.87 L496.38,452.21 L497.31,452.55 L498.23,452.88 L499.16,453.21 L500.09,453.54 L501.02,453.86 L501.94,454.18 L502.87,454.5 L503.8,454.81 L504.73,455.13 L505.65,455.44 L506.58,455.75 L507.51,456.05 L508.44,456.36 L509.36,456.66 L510.29,456.96 L511.22,457.26 L512.15,457.55 L513.07,457.84 L514,458.13 L514.93,458.42 L515.86,458.7 L516.78,458.98 L517.71,459.26 L518.64,459.53 L519.57,459.81 L520.49,460.08 L521.42,460.36 L522.35,460.63 L523.27,460.91 L524.2,461.18 L525.13,461.46 L526.06,461.74 L526.98,462.01 L527.91,462.29 L528.84,462.58 L529.77,462.86 L530.69,463.15 L531.62,463.44 L532.55,463.73 L533.48,464.03 L534.4,464.32 L535.33,464.61 L536.26,464.9 L537.19,465.19 L538.11,465.47 L539.04,465.76 L539.97,466.04 L540.9,466.31 L541.82,466.58 L542.75,466.85 L543.68,467.11 L544.61,467.37 L545.53,467.62 L546.46,467.86 L547.39,468.09 L548.32,468.32 L549.24,468.55 L550.17,468.77 L551.1,468.98 L552.03,469.2 L552.95,469.41 L553.88,469.63 L554.81,469.84 L555.73,470.06 L556.66,470.28 L557.59,470.5 L558.52,470.73 L559.44,470.96 L560.37,471.2 L561.3,471.44 L562.23,471.69 L563.15,471.94 L564.08,472.19 L565.01,472.45 L565.94,472.72 L566.86,472.98 L567.79,473.24 L568.72,473.51 L569.65,473.77 L570.57,474.03 L571.5,474.3 L572.43,474.55 L573.36,474.81 L574.28,475.06 L575.21,475.31 L576.14,475.55 L577.07,475.79 L577.99,476.02 L578.92,476.26 L579.85,476.49 L580.78,476.72 L581.7,476.95 L582.63,477.18 L583.56,477.41 L584.48,477.64 L585.41,477.86 L586.34,478.09 L587.27,478.3 L588.19,478.52 L589.12,478.72 L590.05,478.93 L590.98,479.12 L591.9,479.32 L592.83,479.5 L593.76,479.68 L594.69,479.84 L595.61,480.01 L596.54,480.17 L597.47,480.32 L598.4,480.48 L599.32,480.63 L600.25,480.78 L601.18,480.92 L602.11,481.06 L603.03,481.2 L603.96,481.33 L604.89,481.46 L605.82,481.59 L606.74,481.71 L607.67,481.83 L608.6,481.94 L609.53,482.04 L610.45,482.14 L611.38,482.24 L612.31,482.33 L613.24,482.41 L614.16,482.49 L615.09,482.57 L616.02,482.64 L616.94,482.71 L617.87,482.78 L618.8,482.84 L619.73,482.91 L620.65,482.97 L621.58,483.03 L622.51,483.09 L623.44,483.15 L624.36,483.21 L625.29,483.27 L626.22,483.33 L627.15,483.39 L628.07,483.45 L629,483.52 L629.93,483.59 L630.86,483.66 L631.78,483.73 L632.71,483.81 L633.64,483.89 L634.57,483.97 L635.49,484.05 L636.42,484.13 L637.35,484.21 L638.28,484.29 L639.2,484.38 L640.13,484.46 L641.06,484.54 L641.99,484.62 L642.91,484.69 L643.84,484.77 L644.77,484.84 L645.69,484.92 L646.62,484.98 L647.55,485.05 L648.48,485.11 L649.4,485.17 L650.33,485.22 L651.26,485.27 L652.19,485.32 L653.11,485.37 L654.04,485.42 L654.97,485.47 L655.9,485.52 L656.82,485.57 L657.75,485.61 L658.68,485.66 L659.61,485.7 L660.53,485.75 L661.46,485.79 L662.39,485.83 L663.32,485.88 L664.24,485.92 L665.17,485.95 L666.1,485.99 L667.03,486.03 L667.95,486.06 L668.88,486.09 L669.81,486.13 L670.74,486.16 L671.66,486.18 L672.59,486.21 L673.52,486.24 L674.45,486.26 L675.37,486.28 L676.3,486.3" fill="none" stroke="#fff02a" stroke-width="2.2" stroke-linejoin="round" stroke-linecap="round" />
<g fill="#ff3535" fill-opacity="0.5" stroke="#ff1414" stroke-opacity="0.6" stroke-width="0.8">
<circle cx="396" cy="334.91" r="2.6"/>
<circle cx="396.28" cy="334.73" r="2.6"/>
<circle cx="396.56" cy="336.8" r="2.6"/>
<circle cx="396.84" cy="335.5" r="2.6"/>
<circle cx="397.12" cy="335.5" r="2.6"/>
<circle cx="397.4" cy="336.17" r="2.6"/>
<circle cx="397.68" cy="336.25" r="2.6"/>
<circle cx="397.96" cy="337.45" r="2.6"/>
<circle cx="398.24" cy="336.99" r="2.6"/>
<circle cx="398.52" cy="338.31" r="2.6"/>
<circle cx="398.8" cy="338.41" r="2.6"/>
<circle cx="399.08" cy="340.77" r="2.6"/>
<circle cx="399.36" cy="340.44" r="2.6"/>
<circle cx="399.64" cy="341.63" r="2.6"/>
<circle cx="399.92" cy="343.61" r="2.6"/>
<circle cx="400.2" cy="344.32" r="2.6"/>
<circle cx="400.48" cy="344.74" r="2.6"/>
<circle cx="400.76" cy="345.7" r="2.6"/>
<circle cx="401.04" cy="347.55" r="2.6"/>
<circle cx="401.32" cy="347.5" r="2.6"/>
<circle cx="401.6" cy="349.21" r="2.6"/>
<circle cx="401.88" cy="350.32" r="2.6"/>
<circle cx="402.16" cy="351.8" r="2.6"/>
<circle cx="402.43" cy="354.04" r="2.6"/>
<circle cx="402.71" cy="353.75" r="2.6"/>
<circle cx="402.99" cy="354.77" r="2.6"/>
<circle cx="403.27" cy="356.64" r="2.6"/>
<circle cx="403.55" cy="358.82" r="2.6"/>
<circle cx="403.83" cy="358.48" r="2.6"/>
<circle cx="404.11" cy="359.94" r="2.6"/>
<circle cx="404.39" cy="359.97" r="2.6"/>
<circle cx="404.67" cy="361.81" r="2.6"/>
<circle cx="404.95" cy="363.62" r="2.6"/>
<circle cx="405.23" cy="367.29" r="2.6"/>
<circle cx="405.51" cy="365.69" r="2.6"/>
<circle cx="405.79" cy="368.35" r="2.6"/>
<circle cx="406.07" cy="369.08" r="2.6"/>
<circle cx="406.35" cy="369.59" r="2.6"/>
<circle cx="406.63" cy="371.97" r="2.6"/>
<circle cx="406.91" cy="371.65" r="2.6"/>
<circle cx="407.19" cy="370.67" r="2.6"/>
<circle cx="407.47" cy="375.58" r="2.6"/>
<circle cx="407.75" cy="376.96" r="2.6"/>
<circle cx="408.03" cy="375.37" r="2.6"/>
<circle cx="408.31" cy="377.9" r="2.6"/>
<circle cx="408.59" cy="377.61" r="2.6"/>
<circle cx="408.87" cy="381.34" r="2.6"/>
<circle cx="409.15" cy="380.2" r="2.6"/>
<circle cx="409.43" cy="381.64" r="2.6"/>
<circle cx="409.71" cy="382.61" r="2.6"/>
<circle cx="409.99" cy="381.66" r="2.6"/>
<circle cx="410.27" cy="383.19" r="2.6"/>
<circle cx="410.55" cy="385.83" r="2.6"/>
<circle cx="410.83" cy="384.6" r="2.6"/>
<circle cx="411.11" cy="385.35" r="2.6"/>
<circle cx="411.39" cy="388.04" r="2.6"/>
<circle cx="411.67" cy="387.25" r="2.6"/>
<circle cx="411.95" cy="388.03" r="2.6"/>
<circle cx="412.23" cy="390.57" r="2.6"/>
<circle cx="412.51" cy="390.52" r="2.6"/>
<circle cx="412.79" cy="388.62" r="2.6"/>
<circle cx="413.07" cy="392.69" r="2.6"/>
<circle cx="413.35" cy="391.33" r="2.6"/>
<circle cx="413.63" cy="396.84" r="2.6"/>
<circle cx="413.91" cy="394" r="2.6"/>
<circle cx="414.19" cy="393.9" r="2.6"/>
<circle cx="414.47" cy="391.85" r="2.6"/>
<circle cx="414.75" cy="394.2" r="2.6"/>
<circle cx="415.03" cy="394.35" r="2.6"/>
<circle cx="415.3" cy="397.16" r="2.6"/>
<circle cx="415.58" cy="397.22" r="2.6"/>
<circle cx="415.86" cy="396.21" r="2.6"/>
<circle cx="416.14" cy="398.4" r="2.6"/>
<circle cx="416.42" cy="396.03" r="2.6"/>
<circle cx="416.7" cy="399.46" r="2.6"/>
<circle cx="416.98" cy="399.45" r="2.6"/>
<circle cx="417.26" cy="402.67" r="2.6"/>
<circle cx="417.54" cy="404.37" r="2.6"/>
<circle cx="417.82" cy="405.62" r="2.6"/>
<circle cx="418.1" cy="403.93" r="2.6"/>
<circle cx="418.38" cy="406.14" r="2.6"/>
<circle cx="418.66" cy="406.2" r="2.6"/>
<circle cx="418.94" cy="401.55" r="2.6"/>
<circle cx="419.22" cy="406.19" r="2.6"/>
<circle cx="419.5" cy="403.64" r="2.6"/>
<circle cx="419.78" cy="403.35" r="2.6"/>
<circle cx="420.06" cy="404.15" r="2.6"/>
<circle cx="420.34" cy="407.07" r="2.6"/>
<circle cx="420.62" cy="410.7" r="2.6"/>
<circle cx="420.9" cy="407.08" r="2.6"/>
<circle cx="421.18" cy="406.36" r="2.6"/>
<circle cx="421.46" cy="408.85" r="2.6"/>
<circle cx="421.74" cy="408.6" r="2.6"/>
<circle cx="422.02" cy="409.19" r="2.6"/>
<circle cx="422.3" cy="407.95" r="2.6"/>
<circle cx="422.58" cy="410.18" r="2.6"/>
<circle cx="422.86" cy="410.47" r="2.6"/>
<circle cx="423.14" cy="408.53" r="2.6"/>
<circle cx="423.42" cy="411.04" r="2.6"/>
<circle cx="423.7" cy="410.65" r="2.6"/>
<circle cx="423.98" cy="413.09" r="2.6"/>
<circle cx="424.26" cy="409.46" r="2.6"/>
<circle cx="424.54" cy="411.04" r="2.6"/>
<circle cx="424.82" cy="411.15" r="2.6"/>
<circle cx="425.1" cy="412.79" r="2.6"/>
<circle cx="425.38" cy="411.29" r="2.6"/>
<circle cx="425.66" cy="412.87" r="2.6"/>
<circle cx="425.94" cy="414.93" r="2.6"/>
<circle cx="426.22" cy="410.86" r="2.6"/>
<circle cx="426.5" cy="414.96" r="2.6"/>
<circle cx="426.78" cy="415.21" r="2.6"/>
<circle cx="427.06" cy="414.86" r="2.6"/>
<circle cx="427.34" cy="412.55" r="2.6"/>
<circle cx="427.62" cy="410.48" r="2.6"/>
<circle cx="427.89" cy="416.22" r="2.6"/>
<circle cx="428.17" cy="414.93" r="2.6"/>
<circle cx="428.45" cy="412.51" r="2.6"/>
<circle cx="428.73" cy="412.05" r="2.6"/>
<circle cx="429.01" cy="414.37" r="2.6"/>
<circle cx="429.29" cy="414.37" r="2.6"/>
<circle cx="429.57" cy="414.17" r="2.6"/>
<circle cx="429.85" cy="413.36" r="2.6"/>
<circle cx="430.13" cy="415.42" r="2.6"/>
<circle cx="430.41" cy="419.06" r="2.6"/>
<circle cx="430.69" cy="415.49" r="2.6"/>
<circle cx="430.97" cy="416.07" r="2.6"/>
<circle cx="431.25" cy="418.48" r="2.6"/>
<circle cx="431.53" cy="418.03" r="2.6"/>
<circle cx="431.81" cy="416.73" r="2.6"/>
<circle cx="432.09" cy="419.05" r="2.6"/>
<circle cx="432.37" cy="417.34" r="2.6"/>
<circle cx="432.65" cy="417.26" r="2.6"/>
<circle cx="432.93" cy="414.4" r="2.6"/>
<circle cx="433.21" cy="415.03" r="2.6"/>
<circle cx="433.49" cy="417.21" r="2.6"/>
<circle cx="433.77" cy="418.28" r="2.6"/>
<circle cx="434.05" cy="417.66" r="2.6"/>
<circle cx="434.33" cy="417.16" r="2.6"/>
<circle cx="434.61" cy="414.63" r="2.6"/>
<circle cx="434.89" cy="418.25" r="2.6"/>
<circle cx="435.17" cy="417.42" r="2.6"/>
<circle cx="435.45" cy="420.05" r="2.6"/>
<circle cx="435.73" cy="420.82" r="2.6"/>
<circle cx="436.01" cy="421.42" r="2.6"/>
<circle cx="436.29" cy="419.17" r="2.6"/>
<circle cx="436.57" cy="422.72" r="2.6"/>
<circle cx="436.85" cy="421.75" r="2.6"/>
<circle cx="437.13" cy="419.31" r="2.6"/>
<circle cx="437.41" cy="418.87" r="2.6"/>
<circle cx="437.69" cy="421.45" r="2.6"/>
<circle cx="437.97" cy="420.19" r="2.6"/>
<circle cx="438.25" cy="421.15" r="2.6"/>
<circle cx="438.53" cy="417.67" r="2.6"/>
<circle cx="438.81" cy="419.45" r="2.6"/>
<circle cx="439.09" cy="422.28" r="2.6"/>
<circle cx="439.37" cy="420.02" r="2.6"/>
<circle cx="439.65" cy="421.22" r="2.6"/>
<circle cx="439.93" cy="416.64" r="2.6"/>
<circle cx="440.21" cy="417.95" r="2.6"/>
<circle cx="440.48" cy="424.17" r="2.6"/>
<circle cx="440.76" cy="415.29" r="2.6"/>
<circle cx="441.04" cy="424.17" r="2.6"/>
<circle cx="441.32" cy="418.92" r="2.6"/>
<circle cx="441.6" cy="419.69" r="2.6"/>
<circle cx="441.88" cy="424.1" r="2.6"/>
<circle cx="442.16" cy="421.78" r="2.6"/>
<circle cx="442.44" cy="423.08" r="2.6"/>
<circle cx="442.72" cy="421.25" r="2.6"/>
<circle cx="443" cy="424.01" r="2.6"/>
<circle cx="443.28" cy="423.78" r="2.6"/>
<circle cx="443.56" cy="425.85" r="2.6"/>
<circle cx="443.84" cy="418.94" r="2.6"/>
<circle cx="444.12" cy="419.78" r="2.6"/>
<circle cx="444.4" cy="427.88" r="2.6"/>
<circle cx="444.68" cy="424.46" r="2.6"/>
<circle cx="444.96" cy="425.79" r="2.6"/>
<circle cx="445.24" cy="425.21" r="2.6"/>
<circle cx="445.52" cy="422.96" r="2.6"/>
<circle cx="445.8" cy="421.56" r="2.6"/>
<circle cx="446.08" cy="422.4" r="2.6"/>
<circle cx="446.36" cy="423.35" r="2.6"/>
<circle cx="446.64" cy="424.62" r="2.6"/>
<circle cx="446.92" cy="416.39" r="2.6"/>
<circle cx="447.2" cy="422.29" r="2.6"/>
<circle cx="447.48" cy="422.61" r="2.6"/>
<circle cx="447.76" cy="422.84" r="2.6"/>
<circle cx="448.04" cy="423.16" r="2.6"/>
<circle cx="448.32" cy="428.8" r="2.6"/>
<circle cx="448.6" cy="424.48" r="2.6"/>
<circle cx="448.88" cy="424.8" r="2.6"/>
<circle cx="449.16" cy="427.71" r="2.6"/>
<circle cx="449.44" cy="422.23" r="2.6"/>
<circle cx="449.72" cy="424.42" r="2.6"/>
<circle cx="450" cy="424.99" r="2.6"/>
<circle cx="450.28" cy="424.75" r="2.6"/>
<circle cx="450.56" cy="428.12" r="2.6"/>
<circle cx="450.84" cy="423.19" r="2.6"/>
<circle cx="451.12" cy="427.61" r="2.6"/>
<circle cx="451.4" cy="424.06" r="2.6"/>
<circle cx="451.68" cy="426.79" r="2.6"/>
<circle cx="451.96" cy="425.49" r="2.6"/>
<circle cx="452.24" cy="424.51" r="2.6"/>
<circle cx="452.52" cy="426.96" r="2.6"/>
<circle cx="452.8" cy="425.15" r="2.6"/>
<circle cx="453.08" cy="425.77" r="2.6"/>
<circle cx="453.35" cy="432.5" r="2.6"/>
<circle cx="453.63" cy="425.07" r="2.6"/>
<circle cx="453.91" cy="427.34" r="2.6"/>
<circle cx="454.19" cy="430.44" r="2.6"/>
<circle cx="454.47" cy="423.74" r="2.6"/>
<circle cx="454.75" cy="424.26" r="2.6"/>
<circle cx="455.03" cy="430.81" r="2.6"/>
<circle cx="455.31" cy="427.13" r="2.6"/>
<circle cx="455.59" cy="430.13" r="2.6"/>
<circle cx="455.87" cy="431.34" r="2.6"/>
<circle cx="456.15" cy="427.79" r="2.6"/>
<circle cx="456.43" cy="428.28" r="2.6"/>
<circle cx="456.71" cy="426.96" r="2.6"/>
<circle cx="456.99" cy="431.45" r="2.6"/>
<circle cx="457.27" cy="423.58" r="2.6"/>
<circle cx="457.55" cy="431.02" r="2.6"/>
<circle cx="457.83" cy="428.55" r="2.6"/>
<circle cx="458.11" cy="432.27" r="2.6"/>
<circle cx="458.39" cy="426.77" r="2.6"/>
<circle cx="458.67" cy="426.11" r="2.6"/>
<circle cx="458.95" cy="429.87" r="2.6"/>
<circle cx="459.23" cy="429.75" r="2.6"/>
<circle cx="459.51" cy="427.44" r="2.6"/>
<circle cx="459.79" cy="427.31" r="2.6"/>
<circle cx="460.07" cy="425.84" r="2.6"/>
<circle cx="460.35" cy="427.57" r="2.6"/>
<circle cx="460.63" cy="426.26" r="2.6"/>
<circle cx="460.91" cy="430.89" r="2.6"/>
<circle cx="461.19" cy="427.28" r="2.6"/>
<circle cx="461.47" cy="429.74" r="2.6"/>
<circle cx="461.75" cy="426.57" r="2.6"/>
<circle cx="462.03" cy="434.29" r="2.6"/>
<circle cx="462.31" cy="426.21" r="2.6"/>
<circle cx="462.59" cy="429.32" r="2.6"/>
<circle cx="462.87" cy="428.26" r="2.6"/>
<circle cx="463.15" cy="429.98" r="2.6"/>
<circle cx="463.43" cy="432.36" r="2.6"/>
<circle cx="463.71" cy="433.55" r="2.6"/>
<circle cx="463.99" cy="431.83" r="2.6"/>
<circle cx="464.27" cy="427.88" r="2.6"/>
<circle cx="464.55" cy="428.95" r="2.6"/>
<circle cx="464.83" cy="430.12" r="2.6"/>
<circle cx="465.11" cy="436.27" r="2.6"/>
<circle cx="465.39" cy="428.66" r="2.6"/>
<circle cx="465.67" cy="430.21" r="2.6"/>
<circle cx="465.94" cy="430.9" r="2.6"/>
<circle cx="466.22" cy="434.44" r="2.6"/>
<circle cx="466.5" cy="433.14" r="2.6"/>
<circle cx="466.78" cy="433.2" r="2.6"/>
<circle cx="467.06" cy="429.64" r="2.6"/>
<circle cx="467.34" cy="431.37" r="2.6"/>
<circle cx="467.62" cy="432.33" r="2.6"/>
<circle cx="467.9" cy="433.62" r="2.6"/>
<circle cx="468.18" cy="436.24" r="2.6"/>
<circle cx="468.46" cy="431.48" r="2.6"/>
<circle cx="468.74" cy="431.67" r="2.6"/>
<circle cx="469.02" cy="429.43" r="2.6"/>
<circle cx="469.3" cy="429.48" r="2.6"/>
<circle cx="469.58" cy="431.92" r="2.6"/>
<circle cx="469.86" cy="434.67" r="2.6"/>
<circle cx="470.14" cy="430.33" r="2.6"/>
<circle cx="470.42" cy="433.89" r="2.6"/>
<circle cx="470.7" cy="428.53" r="2.6"/>
<circle cx="470.98" cy="435.52" r="2.6"/>
<circle cx="471.26" cy="430.4" r="2.6"/>
<circle cx="471.54" cy="436.69" r="2.6"/>
<circle cx="471.82" cy="434.98" r="2.6"/>
<circle cx="472.1" cy="430.69" r="2.6"/>
<circle cx="472.38" cy="433.34" r="2.6"/>
<circle cx="472.66" cy="434.4" r="2.6"/>
<circle cx="472.94" cy="435.29" r="2.6"/>
<circle cx="473.22" cy="435.25" r="2.6"/>
<circle cx="473.5" cy="434.3" r="2.6"/>
<circle cx="473.78" cy="432.02" r="2.6"/>
<circle cx="474.06" cy="433.59" r="2.6"/>
<circle cx="474.34" cy="434.84" r="2.6"/>
<circle cx="474.62" cy="429.56" r="2.6"/>
<circle cx="474.9" cy="437.89" r="2.6"/>
<circle cx="475.18" cy="430.34" r="2.6"/>
<circle cx="475.46" cy="434.41" r="2.6"/>
<circle cx="475.74" cy="436.95" r="2.6"/>
<circle cx="476.02" cy="436.76" r="2.6"/>
<circle cx="476.3" cy="437.29" r="2.6"/>
<circle cx="476.58" cy="437.55" r="2.6"/>
<circle cx="476.86" cy="435.43" r="2.6"/>
<circle cx="477.14" cy="436.11" r="2.6"/>
<circle cx="477.42" cy="438.98" r="2.6"/>
<circle cx="477.7" cy="436.14" r="2.6"/>
<circle cx="477.98" cy="438.88" r="2.6"/>
<circle cx="478.26" cy="437.27" r="2.6"/>
<circle cx="478.54" cy="434.59" r="2.6"/>
<circle cx="478.81" cy="438.69" r="2.6"/>
<circle cx="479.09" cy="435.47" r="2.6"/>
<circle cx="479.37" cy="433.97" r="2.6"/>
<circle cx="479.65" cy="438.03" r="2.6"/>
<circle cx="479.93" cy="438.48" r="2.6"/>
<circle cx="480.21" cy="436.71" r="2.6"/>
<circle cx="480.49" cy="435.54" r="2.6"/>
<circle cx="480.77" cy="437.07" r="2.6"/>
<circle cx="481.05" cy="440.31" r="2.6"/>
<circle cx="481.33" cy="441.59" r="2.6"/>
<circle cx="481.61" cy="441.68" r="2.6"/>
<circle cx="481.89" cy="441.15" r="2.6"/>
<circle cx="482.17" cy="436.75" r="2.6"/>
<circle cx="482.45" cy="433.86" r="2.6"/>
<circle cx="482.73" cy="438.25" r="2.6"/>
<circle cx="483.01" cy="442.37" r="2.6"/>
<circle cx="483.29" cy="435.33" r="2.6"/>
<circle cx="483.57" cy="433.43" r="2.6"/>
<circle cx="483.85" cy="439.32" r="2.6"/>
<circle cx="484.13" cy="438.54" r="2.6"/>
<circle cx="484.41" cy="434.62" r="2.6"/>
<circle cx="484.69" cy="441.88" r="2.6"/>
<circle cx="484.97" cy="437.15" r="2.6"/>
<circle cx="485.25" cy="439.14" r="2.6"/>
<circle cx="485.53" cy="436.97" r="2.6"/>
<circle cx="485.81" cy="445.16" r="2.6"/>
<circle cx="486.09" cy="439.08" r="2.6"/>
<circle cx="486.37" cy="437.41" r="2.6"/>
<circle cx="486.65" cy="440.39" r="2.6"/>
<circle cx="486.93" cy="433.76" r="2.6"/>
<circle cx="487.21" cy="440.47" r="2.6"/>
<circle cx="487.49" cy="439.47" r="2.6"/>
<circle cx="487.77" cy="441.46" r="2.6"/>
<circle cx="488.05" cy="442.75" r="2.6"/>
<circle cx="488.33" cy="441.05" r="2.6"/>
<circle cx="488.61" cy="438.32" r="2.6"/>
<circle cx="488.89" cy="435.9" r="2.6"/>
<circle cx="489.17" cy="439.3" r="2.6"/>
<circle cx="489.45" cy="439.4" r="2.6"/>
<circle cx="489.73" cy="440.71" r="2.6"/>
<circle cx="490.01" cy="439.44" r="2.6"/>
<circle cx="490.29" cy="438.55" r="2.6"/>
<circle cx="490.57" cy="439.84" r="2.6"/>
<circle cx="490.85" cy="440.92" r="2.6"/>
<circle cx="491.13" cy="435.89" r="2.6"/>
<circle cx="491.4" cy="438.72" r="2.6"/>
<circle cx="491.68" cy="441.39" r="2.6"/>
<circle cx="491.96" cy="441.38" r="2.6"/>
<circle cx="492.24" cy="437.66" r="2.6"/>
<circle cx="492.52" cy="442.25" r="2.6"/>
<circle cx="492.8" cy="442.51" r="2.6"/>
<circle cx="493.08" cy="447.77" r="2.6"/>
<circle cx="493.36" cy="443.03" r="2.6"/>
<circle cx="493.64" cy="442.62" r="2.6"/>
<circle cx="493.92" cy="445.23" r="2.6"/>
<circle cx="494.2" cy="446.45" r="2.6"/>
<circle cx="494.48" cy="441.29" r="2.6"/>
<circle cx="494.76" cy="445.33" r="2.6"/>
<circle cx="495.04" cy="445.97" r="2.6"/>
<circle cx="495.32" cy="440.59" r="2.6"/>
<circle cx="495.6" cy="443.57" r="2.6"/>
<circle cx="495.88" cy="445.14" r="2.6"/>
<circle cx="496.16" cy="440.62" r="2.6"/>
<circle cx="496.44" cy="444.76" r="2.6"/>
<circle cx="496.72" cy="443.89" r="2.6"/>
<circle cx="497" cy="444.5" r="2.6"/>
<circle cx="497.28" cy="444.95" r="2.6"/>
<circle cx="497.56" cy="444.25" r="2.6"/>
<circle cx="497.84" cy="444.15" r="2.6"/>
<circle cx="498.12" cy="446.79" r="2.6"/>
<circle cx="498.4" cy="444.97" r="2.6"/>
<circle cx="498.68" cy="439.65" r="2.6"/>
<circle cx="498.96" cy="443.22" r="2.6"/>
<circle cx="499.24" cy="443.76" r="2.6"/>
<circle cx="499.52" cy="444.73" r="2.6"/>
<circle cx="499.8" cy="447.44" r="2.6"/>
<circle cx="500.08" cy="448.6" r="2.6"/>
<circle cx="500.36" cy="445.8" r="2.6"/>
<circle cx="500.64" cy="446.43" r="2.6"/>
<circle cx="500.92" cy="448.03" r="2.6"/>
<circle cx="501.2" cy="444.23" r="2.6"/>
<circle cx="501.48" cy="444.31" r="2.6"/>
<circle cx="501.76" cy="445.45" r="2.6"/>
<circle cx="502.04" cy="446.65" r="2.6"/>
<circle cx="502.32" cy="442.23" r="2.6"/>
<circle cx="502.6" cy="450.6" r="2.6"/>
<circle cx="502.88" cy="449.64" r="2.6"/>
<circle cx="503.16" cy="448.64" r="2.6"/>
<circle cx="503.44" cy="447.22" r="2.6"/>
<circle cx="503.72" cy="443.89" r="2.6"/>
<circle cx="503.99" cy="444.48" r="2.6"/>
<circle cx="504.27" cy="444" r="2.6"/>
<circle cx="504.55" cy="444.7" r="2.6"/>
<circle cx="504.83" cy="447.78" r="2.6"/>
<circle cx="505.11" cy="448.09" r="2.6"/>
<circle cx="505.39" cy="449.33" r="2.6"/>
<circle cx="505.67" cy="449.4" r="2.6"/>
<circle cx="505.95" cy="449.84" r="2.6"/>
<circle cx="506.23" cy="440.06" r="2.6"/>
<circle cx="506.51" cy="446.72" r="2.6"/>
<circle cx="506.79" cy="444.73" r="2.6"/>
<circle cx="507.07" cy="448.51" r="2.6"/>
<circle cx="507.35" cy="445.81" r="2.6"/>
<circle cx="507.63" cy="447.66" r="2.6"/>
<circle cx="507.91" cy="449.33" r="2.6"/>
<circle cx="508.19" cy="447.66" r="2.6"/>
<circle cx="508.47" cy="448.84" r="2.6"/>
<circle cx="508.75" cy="446.73" r="2.6"/>
<circle cx="509.03" cy="451.69" r="2.6"/>
<circle cx="509.31" cy="449.22" r="2.6"/>
<circle cx="509.59" cy="450.3" r="2.6"/>
<circle cx="509.87" cy="448.55" r="2.6"/>
<circle cx="510.15" cy="448.99" r="2.6"/>
<circle cx="510.43" cy="448.5" r="2.6"/>
<circle cx="510.71" cy="449.07" r="2.6"/>
<circle cx="510.99" cy="446.39" r="2.6"/>
<circle cx="511.27" cy="445.83" r="2.6"/>
<circle cx="511.55" cy="447.71" r="2.6"/>
<circle cx="511.83" cy="446.81" r="2.6"/>
<circle cx="512.11" cy="449.13" r="2.6"/>
<circle cx="512.39" cy="450.32" r="2.6"/>
<circle cx="512.67" cy="447.36" r="2.6"/>
<circle cx="512.95" cy="447.67" r="2.6"/>
<circle cx="513.23" cy="442.78" r="2.6"/>
<circle cx="513.51" cy="445.09" r="2.6"/>
<circle cx="513.79" cy="450.15" r="2.6"/>
<circle cx="514.07" cy="448.18" r="2.6"/>
<circle cx="514.35" cy="453.21" r="2.6"/>
<circle cx="514.63" cy="453.06" r="2.6"/>
<circle cx="514.91" cy="448.32" r="2.6"/>
<circle cx="515.19" cy="447.89" r="2.6"/>
<circle cx="515.47" cy="450.13" r="2.6"/>
<circle cx="515.75" cy="450.71" r="2.6"/>
<circle cx="516.03" cy="448.65" r="2.6"/>
<circle cx="516.31" cy="452.04" r="2.6"/>
<circle cx="516.59" cy="456.62" r="2.6"/>
<circle cx="516.86" cy="451.45" r="2.6"/>
<circle cx="517.14" cy="448.66" r="2.6"/>
<circle cx="517.42" cy="452.17" r="2.6"/>
<circle cx="517.7" cy="451.43" r="2.6"/>
<circle cx="517.98" cy="448.26" r="2.6"/>
<circle cx="518.26" cy="451.18" r="2.6"/>
<circle cx="518.54" cy="448.5" r="2.6"/>
<circle cx="518.82" cy="450.29" r="2.6"/>
<circle cx="519.1" cy="451.67" r="2.6"/>
<circle cx="519.38" cy="459.58" r="2.6"/>
<circle cx="519.66" cy="457.78" r="2.6"/>
<circle cx="519.94" cy="449.99" r="2.6"/>
<circle cx="520.22" cy="449.78" r="2.6"/>
<circle cx="520.5" cy="455.66" r="2.6"/>
<circle cx="520.78" cy="449.99" r="2.6"/>
<circle cx="521.06" cy="451.5" r="2.6"/>
<circle cx="521.34" cy="454.67" r="2.6"/>
<circle cx="521.62" cy="450.03" r="2.6"/>
<circle cx="521.9" cy="460.91" r="2.6"/>
<circle cx="522.18" cy="454.3" r="2.6"/>
<circle cx="522.46" cy="454.34" r="2.6"/>
<circle cx="522.74" cy="450.01" r="2.6"/>
<circle cx="523.02" cy="453.82" r="2.6"/>
<circle cx="523.3" cy="458.37" r="2.6"/>
<circle cx="523.58" cy="453.21" r="2.6"/>
<circle cx="523.86" cy="452.15" r="2.6"/>
<circle cx="524.14" cy="451.75" r="2.6"/>
<circle cx="524.42" cy="457.97" r="2.6"/>
<circle cx="524.7" cy="450.72" r="2.6"/>
<circle cx="524.98" cy="454.13" r="2.6"/>
<circle cx="525.26" cy="449.94" r="2.6"/>
<circle cx="525.54" cy="456.91" r="2.6"/>
<circle cx="525.82" cy="449.16" r="2.6"/>
<circle cx="526.1" cy="455.48" r="2.6"/>
<circle cx="526.38" cy="450.77" r="2.6"/>
<circle cx="526.66" cy="459.61" r="2.6"/>
<circle cx="526.94" cy="455.18" r="2.6"/>
<circle cx="527.22" cy="460.69" r="2.6"/>
<circle cx="527.5" cy="450.55" r="2.6"/>
<circle cx="527.78" cy="453.73" r="2.6"/>
<circle cx="528.06" cy="458.9" r="2.6"/>
<circle cx="528.34" cy="453.63" r="2.6"/>
<circle cx="528.62" cy="450.76" r="2.6"/>
<circle cx="528.9" cy="457.29" r="2.6"/>
<circle cx="529.18" cy="450.21" r="2.6"/>
<circle cx="529.45" cy="456.02" r="2.6"/>
<circle cx="529.73" cy="457.59" r="2.6"/>
<circle cx="530.01" cy="453.81" r="2.6"/>
<circle cx="530.29" cy="454.29" r="2.6"/>
<circle cx="530.57" cy="452.05" r="2.6"/>
<circle cx="530.85" cy="454.45" r="2.6"/>
<circle cx="531.13" cy="459.74" r="2.6"/>
<circle cx="531.41" cy="454.81" r="2.6"/>
<circle cx="531.69" cy="454.08" r="2.6"/>
<circle cx="531.97" cy="447.33" r="2.6"/>
<circle cx="532.25" cy="457.59" r="2.6"/>
<circle cx="532.53" cy="452.51" r="2.6"/>
<circle cx="532.81" cy="455.69" r="2.6"/>
<circle cx="533.09" cy="459.06" r="2.6"/>
<circle cx="533.37" cy="458.17" r="2.6"/>
<circle cx="533.65" cy="453.49" r="2.6"/>
<circle cx="533.93" cy="457.41" r="2.6"/>
<circle cx="534.21" cy="458.54" r="2.6"/>
<circle cx="534.49" cy="456.82" r="2.6"/>
<circle cx="534.77" cy="454.87" r="2.6"/>
<circle cx="535.05" cy="457.2" r="2.6"/>
<circle cx="535.33" cy="456.75" r="2.6"/>
<circle cx="535.61" cy="454.73" r="2.6"/>
<circle cx="535.89" cy="453" r="2.6"/>
<circle cx="536.17" cy="452.98" r="2.6"/>
<circle cx="536.45" cy="455.74" r="2.6"/>
<circle cx="536.73" cy="454.4" r="2.6"/>
<circle cx="537.01" cy="458.17" r="2.6"/>
<circle cx="537.29" cy="453.43" r="2.6"/>
<circle cx="537.57" cy="456.77" r="2.6"/>
<circle cx="537.85" cy="458.83" r="2.6"/>
<circle cx="538.13" cy="460.23" r="2.6"/>
<circle cx="538.41" cy="457.25" r="2.6"/>
<circle cx="538.69" cy="456.65" r="2.6"/>
<circle cx="538.97" cy="453.76" r="2.6"/>
<circle cx="539.25" cy="452.33" r="2.6"/>
<circle cx="539.53" cy="456.45" r="2.6"/>
<circle cx="539.81" cy="454.85" r="2.6"/>
<circle cx="540.09" cy="456.17" r="2.6"/>
<circle cx="540.37" cy="459.07" r="2.6"/>
<circle cx="540.65" cy="458.11" r="2.6"/>
<circle cx="540.93" cy="453.13" r="2.6"/>
<circle cx="541.21" cy="458.03" r="2.6"/>
<circle cx="541.49" cy="461.14" r="2.6"/>
<circle cx="541.77" cy="454.73" r="2.6"/>
<circle cx="542.05" cy="461.32" r="2.6"/>
<circle cx="542.32" cy="458.62" r="2.6"/>
<circle cx="542.6" cy="457.21" r="2.6"/>
<circle cx="542.88" cy="452.12" r="2.6"/>
<circle cx="543.16" cy="459.28" r="2.6"/>
<circle cx="543.44" cy="461.81" r="2.6"/>
<circle cx="543.72" cy="460.11" r="2.6"/>
<circle cx="544" cy="456.68" r="2.6"/>
<circle cx="544.28" cy="459.6" r="2.6"/>
<circle cx="544.56" cy="458.17" r="2.6"/>
<circle cx="544.84" cy="457.82" r="2.6"/>
<circle cx="545.12" cy="461.09" r="2.6"/>
<circle cx="545.4" cy="470.35" r="2.6"/>
<circle cx="545.68" cy="459.73" r="2.6"/>
<circle cx="545.96" cy="458.74" r="2.6"/>
<circle cx="546.24" cy="459.62" r="2.6"/>
<circle cx="546.52" cy="463.29" r="2.6"/>
<circle cx="546.8" cy="460.2" r="2.6"/>
<circle cx="547.08" cy="463.06" r="2.6"/>
<circle cx="547.36" cy="459.88" r="2.6"/>
<circle cx="547.64" cy="464.12" r="2.6"/>
<circle cx="547.92" cy="459.71" r="2.6"/>
<circle cx="548.2" cy="461.69" r="2.6"/>
<circle cx="548.48" cy="460.54" r="2.6"/>
<circle cx="548.76" cy="456.15" r="2.6"/>
<circle cx="549.04" cy="458.74" r="2.6"/>
<circle cx="549.32" cy="462.36" r="2.6"/>
<circle cx="549.6" cy="459.71" r="2.6"/>
<circle cx="549.88" cy="461.02" r="2.6"/>
<circle cx="550.16" cy="460.42" r="2.6"/>
<circle cx="550.44" cy="462.52" r="2.6"/>
<circle cx="550.72" cy="460.14" r="2.6"/>
<circle cx="551" cy="464.82" r="2.6"/>
<circle cx="551.28" cy="453.71" r="2.6"/>
<circle cx="551.56" cy="463.4" r="2.6"/>
<circle cx="551.84" cy="453.65" r="2.6"/>
<circle cx="552.12" cy="460.98" r="2.6"/>
<circle cx="552.4" cy="456.93" r="2.6"/>
<circle cx="552.68" cy="462.88" r="2.6"/>
<circle cx="552.96" cy="463.57" r="2.6"/>
<circle cx="553.24" cy="453.14" r="2.6"/>
<circle cx="553.52" cy="464.18" r="2.6"/>
<circle cx="553.8" cy="464.82" r="2.6"/>
<circle cx="554.08" cy="462.42" r="2.6"/>
<circle cx="554.36" cy="464.37" r="2.6"/>
<circle cx="554.64" cy="457.15" r="2.6"/>
<circle cx="554.91" cy="458.8" r="2.6"/>
<circle cx="555.19" cy="459.56" r="2.6"/>
<circle cx="555.47" cy="466.3" r="2.6"/>
<circle cx="555.75" cy="462.53" r="2.6"/>
<circle cx="556.03" cy="458.48" r="2.6"/>
<circle cx="556.31" cy="461.64" r="2.6"/>
<circle cx="556.59" cy="463.54" r="2.6"/>
<circle cx="556.87" cy="467.08" r="2.6"/>
<circle cx="557.15" cy="457.7" r="2.6"/>
<circle cx="557.43" cy="461.58" r="2.6"/>
<circle cx="557.71" cy="462.4" r="2.6"/>
<circle cx="557.99" cy="455.22" r="2.6"/>
<circle cx="558.27" cy="462.86" r="2.6"/>
<circle cx="558.55" cy="464.03" r="2.6"/>
<circle cx="558.83" cy="462.91" r="2.6"/>
<circle cx="559.11" cy="461.69" r="2.6"/>
<circle cx="559.39" cy="458.15" r="2.6"/>
<circle cx="559.67" cy="463.04" r="2.6"/>
<circle cx="559.95" cy="460.61" r="2.6"/>
<circle cx="560.23" cy="463.52" r="2.6"/>
<circle cx="560.51" cy="461.27" r="2.6"/>
<circle cx="560.79" cy="464.94" r="2.6"/>
<circle cx="561.07" cy="462.98" r="2.6"/>
<circle cx="561.35" cy="461.95" r="2.6"/>
<circle cx="561.63" cy="459.29" r="2.6"/>
<circle cx="561.91" cy="463.06" r="2.6"/>
<circle cx="562.19" cy="457.19" r="2.6"/>
<circle cx="562.47" cy="468.74" r="2.6"/>
<circle cx="562.75" cy="463" r="2.6"/>
<circle cx="563.03" cy="464.48" r="2.6"/>
<circle cx="563.31" cy="460.43" r="2.6"/>
<circle cx="563.59" cy="461.51" r="2.6"/>
<circle cx="563.87" cy="465.06" r="2.6"/>
<circle cx="564.15" cy="464.17" r="2.6"/>
<circle cx="564.43" cy="465.18" r="2.6"/>
<circle cx="564.71" cy="467.76" r="2.6"/>
<circle cx="564.99" cy="463.09" r="2.6"/>
<circle cx="565.27" cy="463.68" r="2.6"/>
<circle cx="565.55" cy="468.42" r="2.6"/>
<circle cx="565.83" cy="464.04" r="2.6"/>
<circle cx="566.11" cy="471.25" r="2.6"/>
<circle cx="566.39" cy="462.88" r="2.6"/>
<circle cx="566.67" cy="465.11" r="2.6"/>
<circle cx="566.95" cy="464.27" r="2.6"/>
<circle cx="567.23" cy="469.62" r="2.6"/>
<circle cx="567.51" cy="460.33" r="2.6"/>
<circle cx="567.78" cy="461.32" r="2.6"/>
<circle cx="568.06" cy="463.73" r="2.6"/>
<circle cx="568.34" cy="467.8" r="2.6"/>
<circle cx="568.62" cy="460.67" r="2.6"/>
<circle cx="568.9" cy="458.82" r="2.6"/>
<circle cx="569.18" cy="459.34" r="2.6"/>
<circle cx="569.46" cy="465.34" r="2.6"/>
<circle cx="569.74" cy="466.61" r="2.6"/>
<circle cx="570.02" cy="469.37" r="2.6"/>
<circle cx="570.3" cy="464.7" r="2.6"/>
<circle cx="570.58" cy="469.27" r="2.6"/>
<circle cx="570.86" cy="462.52" r="2.6"/>
<circle cx="571.14" cy="466.77" r="2.6"/>
<circle cx="571.42" cy="474.2" r="2.6"/>
<circle cx="571.7" cy="466.28" r="2.6"/>
<circle cx="571.98" cy="466.54" r="2.6"/>
<circle cx="572.26" cy="458.44" r="2.6"/>
<circle cx="572.54" cy="469.22" r="2.6"/>
<circle cx="572.82" cy="466.97" r="2.6"/>
<circle cx="573.1" cy="462.14" r="2.6"/>
<circle cx="573.38" cy="467.59" r="2.6"/>
<circle cx="573.66" cy="470.85" r="2.6"/>
<circle cx="573.94" cy="467.25" r="2.6"/>
<circle cx="574.22" cy="474.45" r="2.6"/>
<circle cx="574.5" cy="472.42" r="2.6"/>
<circle cx="574.78" cy="462.71" r="2.6"/>
<circle cx="575.06" cy="469.25" r="2.6"/>
<circle cx="575.34" cy="469.33" r="2.6"/>
<circle cx="575.62" cy="465.95" r="2.6"/>
<circle cx="575.9" cy="466.15" r="2.6"/>
<circle cx="576.18" cy="469.21" r="2.6"/>
<circle cx="576.46" cy="467.26" r="2.6"/>
<circle cx="576.74" cy="461.55" r="2.6"/>
<circle cx="577.02" cy="467.5" r="2.6"/>
<circle cx="577.3" cy="463.85" r="2.6"/>
<circle cx="577.58" cy="460.52" r="2.6"/>
<circle cx="577.86" cy="471.82" r="2.6"/>
<circle cx="578.14" cy="468.5" r="2.6"/>
<circle cx="578.42" cy="467.49" r="2.6"/>
<circle cx="578.7" cy="468.32" r="2.6"/>
<circle cx="578.98" cy="470.05" r="2.6"/>
<circle cx="579.26" cy="466.57" r="2.6"/>
<circle cx="579.54" cy="468.69" r="2.6"/>
<circle cx="579.82" cy="470.29" r="2.6"/>
<circle cx="580.1" cy="467.38" r="2.6"/>
<circle cx="580.37" cy="467.59" r="2.6"/>
<circle cx="580.65" cy="470.15" r="2.6"/>
<circle cx="580.93" cy="462.99" r="2.6"/>
<circle cx="581.21" cy="469.88" r="2.6"/>
<circle cx="581.49" cy="470.43" r="2.6"/>
<circle cx="581.77" cy="466.55" r="2.6"/>
<circle cx="582.05" cy="473.56" r="2.6"/>
<circle cx="582.33" cy="470.9" r="2.6"/>
<circle cx="582.61" cy="468.19" r="2.6"/>
<circle cx="582.89" cy="472.24" r="2.6"/>
<circle cx="583.17" cy="467.36" r="2.6"/>
<circle cx="583.45" cy="466.23" r="2.6"/>
<circle cx="583.73" cy="465.73" r="2.6"/>
<circle cx="584.01" cy="470.77" r="2.6"/>
<circle cx="584.29" cy="470.29" r="2.6"/>
<circle cx="584.57" cy="463.14" r="2.6"/>
<circle cx="584.85" cy="472.63" r="2.6"/>
<circle cx="585.13" cy="470.01" r="2.6"/>
<circle cx="585.41" cy="469.71" r="2.6"/>
<circle cx="585.69" cy="476.16" r="2.6"/>
<circle cx="585.97" cy="473.95" r="2.6"/>
<circle cx="586.25" cy="468.27" r="2.6"/>
<circle cx="586.53" cy="463.07" r="2.6"/>
<circle cx="586.81" cy="459.76" r="2.6"/>
<circle cx="587.09" cy="476.01" r="2.6"/>
<circle cx="587.37" cy="471.7" r="2.6"/>
<circle cx="587.65" cy="466.41" r="2.6"/>
<circle cx="587.93" cy="469.68" r="2.6"/>
<circle cx="588.21" cy="471.68" r="2.6"/>
<circle cx="588.49" cy="474.43" r="2.6"/>
<circle cx="588.77" cy="474.45" r="2.6"/>
<circle cx="589.05" cy="477.59" r="2.6"/>
<circle cx="589.33" cy="467.11" r="2.6"/>
<circle cx="589.61" cy="476.21" r="2.6"/>
<circle cx="589.89" cy="472.11" r="2.6"/>
<circle cx="590.17" cy="473.92" r="2.6"/>
<circle cx="590.45" cy="493.82" r="2.6"/>
<circle cx="590.73" cy="466.76" r="2.6"/>
<circle cx="591.01" cy="466.15" r="2.6"/>
<circle cx="591.29" cy="474.55" r="2.6"/>
<circle cx="591.57" cy="482.48" r="2.6"/>
<circle cx="591.85" cy="471.74" r="2.6"/>
<circle cx="592.13" cy="472.91" r="2.6"/>
<circle cx="592.41" cy="474.68" r="2.6"/>
<circle cx="592.69" cy="467.22" r="2.6"/>
<circle cx="592.96" cy="475.11" r="2.6"/>
<circle cx="593.24" cy="467.83" r="2.6"/>
<circle cx="593.52" cy="472.32" r="2.6"/>
<circle cx="593.8" cy="471.49" r="2.6"/>
<circle cx="594.08" cy="468.25" r="2.6"/>
<circle cx="594.36" cy="477.9" r="2.6"/>
<circle cx="594.64" cy="474.63" r="2.6"/>
<circle cx="594.92" cy="474.15" r="2.6"/>
<circle cx="595.2" cy="466.47" r="2.6"/>
<circle cx="595.48" cy="472.44" r="2.6"/>
<circle cx="595.76" cy="478.76" r="2.6"/>
<circle cx="596.04" cy="480.35" r="2.6"/>
<circle cx="596.32" cy="467.53" r="2.6"/>
<circle cx="596.6" cy="474.15" r="2.6"/>
<circle cx="596.88" cy="477.45" r="2.6"/>
<circle cx="597.16" cy="469.49" r="2.6"/>
<circle cx="597.44" cy="474.95" r="2.6"/>
<circle cx="597.72" cy="474.04" r="2.6"/>
<circle cx="598" cy="476.48" r="2.6"/>
<circle cx="598.28" cy="470.96" r="2.6"/>
<circle cx="598.56" cy="468.54" r="2.6"/>
<circle cx="598.84" cy="464.81" r="2.6"/>
<circle cx="599.12" cy="473.19" r="2.6"/>
<circle cx="599.4" cy="477.19" r="2.6"/>
<circle cx="599.68" cy="478.01" r="2.6"/>
<circle cx="599.96" cy="477.21" r="2.6"/>
<circle cx="600.24" cy="474.09" r="2.6"/>
<circle cx="600.52" cy="469.99" r="2.6"/>
<circle cx="600.8" cy="475.95" r="2.6"/>
<circle cx="601.08" cy="476.08" r="2.6"/>
<circle cx="601.36" cy="468.66" r="2.6"/>
<circle cx="601.64" cy="462.69" r="2.6"/>
<circle cx="601.92" cy="475.44" r="2.6"/>
<circle cx="602.2" cy="469.63" r="2.6"/>
<circle cx="602.48" cy="474.76" r="2.6"/>
<circle cx="602.76" cy="472.55" r="2.6"/>
<circle cx="603.04" cy="481.27" r="2.6"/>
<circle cx="603.32" cy="477.58" r="2.6"/>
<circle cx="603.6" cy="469.45" r="2.6"/>
<circle cx="603.88" cy="471.72" r="2.6"/>
<circle cx="604.16" cy="467.44" r="2.6"/>
<circle cx="604.44" cy="469.19" r="2.6"/>
<circle cx="604.72" cy="467.11" r="2.6"/>
<circle cx="605" cy="477.9" r="2.6"/>
<circle cx="605.28" cy="468.8" r="2.6"/>
<circle cx="605.56" cy="475.43" r="2.6"/>
<circle cx="605.83" cy="467.47" r="2.6"/>
<circle cx="606.11" cy="466.63" r="2.6"/>
<circle cx="606.39" cy="476.41" r="2.6"/>
<circle cx="606.67" cy="473.74" r="2.6"/>
<circle cx="606.95" cy="474.47" r="2.6"/>
<circle cx="607.23" cy="475.84" r="2.6"/>
<circle cx="607.51" cy="467.56" r="2.6"/>
<circle cx="607.79" cy="477.79" r="2.6"/>
<circle cx="608.07" cy="482.12" r="2.6"/>
<circle cx="608.35" cy="468.63" r="2.6"/>
<circle cx="608.63" cy="468.43" r="2.6"/>
<circle cx="608.91" cy="466.17" r="2.6"/>
<circle cx="609.19" cy="470.27" r="2.6"/>
<circle cx="609.47" cy="470.99" r="2.6"/>
<circle cx="609.75" cy="467.8" r="2.6"/>
<circle cx="610.03" cy="470.59" r="2.6"/>
<circle cx="610.31" cy="471.86" r="2.6"/>
<circle cx="610.59" cy="475.85" r="2.6"/>
<circle cx="610.87" cy="477.34" r="2.6"/>
<circle cx="611.15" cy="478.54" r="2.6"/>
<circle cx="611.43" cy="466.35" r="2.6"/>
<circle cx="611.71" cy="468.56" r="2.6"/>
<circle cx="611.99" cy="467.95" r="2.6"/>
<circle cx="612.27" cy="477.83" r="2.6"/>
<circle cx="612.55" cy="470.5" r="2.6"/>
<circle cx="612.83" cy="471.71" r="2.6"/>
<circle cx="613.11" cy="475.65" r="2.6"/>
<circle cx="613.39" cy="481.66" r="2.6"/>
<circle cx="613.67" cy="466.07" r="2.6"/>
<circle cx="613.95" cy="472.26" r="2.6"/>
<circle cx="614.23" cy="470.12" r="2.6"/>
<circle cx="614.51" cy="474.36" r="2.6"/>
<circle cx="614.79" cy="477.29" r="2.6"/>
<circle cx="615.07" cy="470.24" r="2.6"/>
<circle cx="615.35" cy="472.72" r="2.6"/>
<circle cx="615.63" cy="477.64" r="2.6"/>
<circle cx="615.91" cy="479.08" r="2.6"/>
<circle cx="616.19" cy="473.42" r="2.6"/>
<circle cx="616.47" cy="475.3" r="2.6"/>
<circle cx="616.75" cy="472.11" r="2.6"/>
<circle cx="617.03" cy="476.53" r="2.6"/>
<circle cx="617.31" cy="479.19" r="2.6"/>
<circle cx="617.59" cy="464.32" r="2.6"/>
<circle cx="617.87" cy="472.6" r="2.6"/>
<circle cx="618.15" cy="478.38" r="2.6"/>
<circle cx="618.42" cy="472.54" r="2.6"/>
<circle cx="618.7" cy="472.44" r="2.6"/>
<circle cx="618.98" cy="474.46" r="2.6"/>
<circle cx="619.26" cy="474.58" r="2.6"/>
<circle cx="619.54" cy="482.35" r="2.6"/>
<circle cx="619.82" cy="476.77" r="2.6"/>
<circle cx="620.1" cy="476.94" r="2.6"/>
<circle cx="620.38" cy="475.05" r="2.6"/>
<circle cx="620.66" cy="480.38" r="2.6"/>
<circle cx="620.94" cy="473.64" r="2.6"/>
<circle cx="621.22" cy="481.35" r="2.6"/>
<circle cx="621.5" cy="469.95" r="2.6"/>
<circle cx="621.78" cy="480.85" r="2.6"/>
<circle cx="622.06" cy="478.35" r="2.6"/>
<circle cx="622.34" cy="486.99" r="2.6"/>
<circle cx="622.62" cy="477.3" r="2.6"/>
<circle cx="622.9" cy="479.17" r="2.6"/>
<circle cx="623.18" cy="484.53" r="2.6"/>
<circle cx="623.46" cy="475.75" r="2.6"/>
<circle cx="623.74" cy="482.22" r="2.6"/>
<circle cx="624.02" cy="478.6" r="2.6"/>
<circle cx="624.3" cy="481.86" r="2.6"/>
<circle cx="624.58" cy="475.9" r="2.6"/>
<circle cx="624.86" cy="476.97" r="2.6"/>
<circle cx="625.14" cy="480.03" r="2.6"/>
<circle cx="625.42" cy="474.54" r="2.6"/>
<circle cx="625.7" cy="470.7" r="2.6"/>
<circle cx="625.98" cy="482.97" r="2.6"/>
<circle cx="626.26" cy="482" r="2.6"/>
<circle cx="626.54" cy="475.21" r="2.6"/>
<circle cx="626.82" cy="474.23" r="2.6"/>
<circle cx="627.1" cy="477.73" r="2.6"/>
<circle cx="627.38" cy="476.58" r="2.6"/>
<circle cx="627.66" cy="474.14" r="2.6"/>
<circle cx="627.94" cy="474.25" r="2.6"/>
<circle cx="628.22" cy="467.22" r="2.6"/>
<circle cx="628.5" cy="476.19" r="2.6"/>
<circle cx="628.78" cy="474.18" r="2.6"/>
<circle cx="629.06" cy="475.4" r="2.6"/>
<circle cx="629.34" cy="475.98" r="2.6"/>
<circle cx="629.62" cy="474.68" r="2.6"/>
<circle cx="629.9" cy="479.22" r="2.6"/>
<circle cx="630.18" cy="479.1" r="2.6"/>
<circle cx="630.46" cy="472.09" r="2.6"/>
<circle cx="630.74" cy="475.79" r="2.6"/>
<circle cx="631.02" cy="480.39" r="2.6"/>
<circle cx="631.29" cy="475.89" r="2.6"/>
<circle cx="631.57" cy="464.13" r="2.6"/>
<circle cx="631.85" cy="480.04" r="2.6"/>
<circle cx="632.13" cy="477.95" r="2.6"/>
<circle cx="632.41" cy="479.02" r="2.6"/>
<circle cx="632.69" cy="470.82" r="2.6"/>
<circle cx="632.97" cy="468.5" r="2.6"/>
<circle cx="633.25" cy="479.22" r="2.6"/>
<circle cx="633.53" cy="476.46" r="2.6"/>
<circle cx="633.81" cy="474.14" r="2.6"/>
<circle cx="634.09" cy="477.39" r="2.6"/>
<circle cx="634.37" cy="482.46" r="2.6"/>
<circle cx="634.65" cy="474.12" r="2.6"/>
<circle cx="634.93" cy="480.48" r="2.6"/>
<circle cx="635.21" cy="472.69" r="2.6"/>
<circle cx="635.49" cy="469.75" r="2.6"/>
<circle cx="635.77" cy="476.5" r="2.6"/>
<circle cx="636.05" cy="474.84" r="2.6"/>
<circle cx="636.33" cy="477.69" r="2.6"/>
<circle cx="636.61" cy="483.94" r="2.6"/>
<circle cx="636.89" cy="478.48" r="2.6"/>
<circle cx="637.17" cy="483.92" r="2.6"/>
<circle cx="637.45" cy="471.87" r="2.6"/>
<circle cx="637.73" cy="471.16" r="2.6"/>
<circle cx="638.01" cy="476.64" r="2.6"/>
<circle cx="638.29" cy="479.92" r="2.6"/>
<circle cx="638.57" cy="472.24" r="2.6"/>
<circle cx="638.85" cy="487.3" r="2.6"/>
<circle cx="639.13" cy="477.06" r="2.6"/>
<circle cx="639.41" cy="475.82" r="2.6"/>
<circle cx="639.69" cy="486.54" r="2.6"/>
<circle cx="639.97" cy="479.96" r="2.6"/>
<circle cx="640.25" cy="476.23" r="2.6"/>
<circle cx="640.53" cy="479.89" r="2.6"/>
<circle cx="640.81" cy="474.89" r="2.6"/>
<circle cx="641.09" cy="480.25" r="2.6"/>
<circle cx="641.37" cy="481.99" r="2.6"/>
<circle cx="641.65" cy="474.08" r="2.6"/>
<circle cx="641.93" cy="479.2" r="2.6"/>
<circle cx="642.21" cy="485.92" r="2.6"/>
<circle cx="642.49" cy="494.09" r="2.6"/>
<circle cx="642.77" cy="485.76" r="2.6"/>
<circle cx="643.05" cy="483.01" r="2.6"/>
<circle cx="643.33" cy="477.64" r="2.6"/>
<circle cx="643.61" cy="486.03" r="2.6"/>
<circle cx="643.88" cy="477.23" r="2.6"/>
<circle cx="644.16" cy="501.78" r="2.6"/>
<circle cx="644.44" cy="475.3" r="2.6"/>
<circle cx="644.72" cy="479.15" r="2.6"/>
<circle cx="645" cy="486.3" r="2.6"/>
<circle cx="645.28" cy="475.33" r="2.6"/>
<circle cx="645.56" cy="478.89" r="2.6"/>
<circle cx="645.84" cy="471.42" r="2.6"/>
<circle cx="646.12" cy="477.44" r="2.6"/>
<circle cx="646.4" cy="476.73" r="2.6"/>
<circle cx="646.68" cy="477.71" r="2.6"/>
<circle cx="646.96" cy="478.39" r="2.6"/>
<circle cx="647.24" cy="480.24" r="2.6"/>
<circle cx="647.52" cy="479.25" r="2.6"/>
<circle cx="647.8" cy="480.77" r="2.6"/>
<circle cx="648.08" cy="481.72" r="2.6"/>
<circle cx="648.36" cy="483.36" r="2.6"/>
<circle cx="648.64" cy="478.07" r="2.6"/>
<circle cx="648.92" cy="479.21" r="2.6"/>
<circle cx="649.2" cy="486.57" r="2.6"/>
<circle cx="649.48" cy="488.83" r="2.6"/>
<circle cx="649.76" cy="473.62" r="2.6"/>
<circle cx="650.04" cy="481" r="2.6"/>
<circle cx="650.32" cy="469.21" r="2.6"/>
<circle cx="650.6" cy="484.19" r="2.6"/>
<circle cx="650.88" cy="485.94" r="2.6"/>
<circle cx="651.16" cy="477.07" r="2.6"/>
<circle cx="651.44" cy="479.23" r="2.6"/>
<circle cx="651.72" cy="477.81" r="2.6"/>
<circle cx="652" cy="478.7" r="2.6"/>
<circle cx="652.28" cy="482.07" r="2.6"/>
<circle cx="652.56" cy="478.04" r="2.6"/>
<circle cx="652.84" cy="481.89" r="2.6"/>
<circle cx="653.12" cy="481.54" r="2.6"/>
<circle cx="653.4" cy="479.68" r="2.6"/>
<circle cx="653.68" cy="474.47" r="2.6"/>
<circle cx="653.96" cy="479.16" r="2.6"/>
<circle cx="654.24" cy="477.4" r="2.6"/>
<circle cx="654.52" cy="481.04" r="2.6"/>
<circle cx="654.8" cy="480.44" r="2.6"/>
<circle cx="655.08" cy="484.91" r="2.6"/>
<circle cx="655.36" cy="477.04" r="2.6"/>
<circle cx="655.64" cy="477.67" r="2.6"/>
<circle cx="655.92" cy="477.4" r="2.6"/>
<circle cx="656.2" cy="480.68" r="2.6"/>
<circle cx="656.47" cy="484.24" r="2.6"/>
<circle cx="656.75" cy="487.18" r="2.6"/>
<circle cx="657.03" cy="482.31" r="2.6"/>
<circle cx="657.31" cy="480.08" r="2.6"/>
<circle cx="657.59" cy="479.58" r="2.6"/>
<circle cx="657.87" cy="474.46" r="2.6"/>
<circle cx="658.15" cy="476.96" r="2.6"/>
<circle cx="658.43" cy="475.89" r="2.6"/>
<circle cx="658.71" cy="486.29" r="2.6"/>
<circle cx="658.99" cy="493.2" r="2.6"/>
<circle cx="659.27" cy="480.34" r="2.6"/>
<circle cx="659.55" cy="478.4" r="2.6"/>
<circle cx="659.83" cy="487.19" r="2.6"/>
<circle cx="660.11" cy="481.11" r="2.6"/>
<circle cx="660.39" cy="477.88" r="2.6"/>
<circle cx="660.67" cy="471.08" r="2.6"/>
<circle cx="660.95" cy="477.82" r="2.6"/>
<circle cx="661.23" cy="480.84" r="2.6"/>
<circle cx="661.51" cy="485.53" r="2.6"/>
<circle cx="661.79" cy="469.41" r="2.6"/>
<circle cx="662.07" cy="495.77" r="2.6"/>
<circle cx="662.35" cy="477" r="2.6"/>
<circle cx="662.63" cy="484.51" r="2.6"/>
<circle cx="662.91" cy="473.81" r="2.6"/>
<circle cx="663.19" cy="478.03" r="2.6"/>
<circle cx="663.47" cy="485.21" r="2.6"/>
<circle cx="663.75" cy="481.41" r="2.6"/>
<circle cx="664.03" cy="479.24" r="2.6"/>
<circle cx="664.31" cy="475.28" r="2.6"/>
<circle cx="664.59" cy="473.07" r="2.6"/>
<circle cx="664.87" cy="486.99" r="2.6"/>
<circle cx="665.15" cy="484.02" r="2.6"/>
<circle cx="665.43" cy="476.92" r="2.6"/>
<circle cx="665.71" cy="484.18" r="2.6"/>
<circle cx="665.99" cy="474.91" r="2.6"/>
<circle cx="666.27" cy="474.99" r="2.6"/>
<circle cx="666.55" cy="471.82" r="2.6"/>
<circle cx="666.83" cy="485.25" r="2.6"/>
<circle cx="667.11" cy="475.42" r="2.6"/>
<circle cx="667.39" cy="490.07" r="2.6"/>
<circle cx="667.67" cy="477" r="2.6"/>
<circle cx="667.95" cy="484.3" r="2.6"/>
<circle cx="668.23" cy="472" r="2.6"/>
<circle cx="668.51" cy="480.83" r="2.6"/>
<circle cx="668.79" cy="478.95" r="2.6"/>
<circle cx="669.07" cy="479.67" r="2.6"/>
<circle cx="669.34" cy="487.24" r="2.6"/>
<circle cx="669.62" cy="485.78" r="2.6"/>
<circle cx="669.9" cy="479.94" r="2.6"/>
<circle cx="670.18" cy="483.75" r="2.6"/>
<circle cx="670.46" cy="483.55" r="2.6"/>
<circle cx="670.74" cy="470.26" r="2.6"/>
<circle cx="671.02" cy="481.32" r="2.6"/>
<circle cx="671.3" cy="488.88" r="2.6"/>
<circle cx="671.58" cy="480.37" r="2.6"/>
<circle cx="671.86" cy="485.5" r="2.6"/>
<circle cx="672.14" cy="470.81" r="2.6"/>
<circle cx="672.42" cy="476.38" r="2.6"/>
<circle cx="672.7" cy="483.9" r="2.6"/>
<circle cx="672.98" cy="478.1" r="2.6"/>
<circle cx="673.26" cy="482.55" r="2.6"/>
<circle cx="673.54" cy="475.71" r="2.6"/>
<circle cx="673.82" cy="474.77" r="2.6"/>
<circle cx="674.1" cy="488.8" r="2.6"/>
<circle cx="674.38" cy="468.28" r="2.6"/>
<circle cx="674.66" cy="488.4" r="2.6"/>
<circle cx="674.94" cy="485.97" r="2.6"/>
<circle cx="675.22" cy="474.45" r="2.6"/>
<circle cx="675.5" cy="483.4" r="2.6"/>
</g>
<path d="M399.5,341.34 L400.43,344.35 L401.35,347.97 L402.28,351.93 L403.2,355.85 L404.13,359.86 L405.05,363.92 L405.98,367.83 L406.91,371.43 L407.83,374.86 L408.76,378.13 L409.68,381.25 L410.61,384.24 L411.53,387.11 L412.46,389.81 L413.39,392.28 L414.31,394.55 L415.24,396.66 L416.16,398.63 L417.09,400.46 L418.02,402.2 L418.94,403.82 L419.87,405.28 L420.79,406.56 L421.72,407.74 L422.64,408.83 L423.57,409.84 L424.5,410.79 L425.42,411.66 L426.35,412.48 L427.27,413.25 L428.2,413.97 L429.12,414.66 L430.05,415.32 L430.98,415.94 L431.9,416.53 L432.83,417.1 L433.75,417.64 L434.68,418.15 L435.6,418.63 L436.53,419.1 L437.46,419.55 L438.38,419.98 L439.31,420.4 L440.23,420.8 L441.16,421.19 L442.08,421.57 L443.01,421.94 L443.94,422.3 L444.86,422.65 L445.79,423 L446.71,423.33 L447.64,423.67 L448.56,423.99 L449.49,424.32 L450.42,424.64 L451.34,424.97 L452.27,425.29 L453.19,425.62 L454.12,425.95 L455.05,426.28 L455.97,426.62 L456.9,426.97 L457.82,427.32 L458.75,427.68 L459.67,428.05 L460.6,428.41 L461.53,428.78 L462.45,429.14 L463.38,429.51 L464.3,429.89 L465.23,430.26 L466.15,430.63 L467.08,431.01 L468.01,431.38 L468.93,431.76 L469.86,432.13 L470.78,432.5 L471.71,432.88 L472.63,433.25 L473.56,433.62 L474.49,433.99 L475.41,434.36 L476.34,434.73 L477.26,435.11 L478.19,435.48 L479.11,435.85 L480.04,436.22 L480.97,436.59 L481.89,436.97 L482.82,437.34 L483.74,437.71 L484.67,438.08 L485.59,438.45 L486.52,438.82 L487.45,439.19 L488.37,439.55 L489.3,439.92 L490.22,440.28 L491.15,440.64 L492.08,441 L493,441.35 L493.93,441.71 L494.85,442.07 L495.78,442.43 L496.7,442.79 L497.63,443.14 L498.56,443.5 L499.48,443.86 L500.41,444.21 L501.33,444.56 L502.26,444.91 L503.18,445.26 L504.11,445.6 L505.04,445.94 L505.96,446.27 L506.89,446.6 L507.81,446.93 L508.74,447.24 L509.66,447.56 L510.59,447.86 L511.52,448.16 L512.44,448.46 L513.37,448.75 L514.29,449.03 L515.22,449.32 L516.14,449.59 L517.07,449.87 L518,450.14 L518.92,450.41 L519.85,450.68 L520.77,450.95 L521.7,451.21 L522.63,451.48 L523.55,451.74 L524.48,452.01 L525.4,452.27 L526.33,452.53 L527.25,452.8 L528.18,453.07 L529.11,453.33 L530.03,453.6 L530.96,453.86 L531.88,454.12 L532.81,454.38 L533.73,454.64 L534.66,454.9 L535.59,455.15 L536.51,455.41 L537.44,455.67 L538.36,455.92 L539.29,456.18 L540.21,456.44 L541.14,456.69 L542.07,456.95 L542.99,457.21 L543.92,457.47 L544.84,457.73 L545.77,457.99 L546.69,458.25 L547.62,458.51 L548.55,458.77 L549.47,459.03 L550.4,459.3 L551.32,459.56 L552.25,459.82 L553.17,460.08 L554.1,460.34 L555.03,460.61 L555.95,460.87 L556.88,461.13 L557.8,461.39 L558.73,461.65 L559.66,461.9 L560.58,462.16 L561.51,462.42 L562.43,462.68 L563.36,462.95 L564.28,463.21 L565.21,463.47 L566.14,463.74 L567.06,464 L567.99,464.26 L568.91,464.52 L569.84,464.78 L570.76,465.04 L571.69,465.29 L572.62,465.55 L573.54,465.79 L574.47,466.04 L575.39,466.27 L576.32,466.51 L577.24,466.74 L578.17,466.96 L579.1,467.18 L580.02,467.4 L580.95,467.62 L581.87,467.83 L582.8,468.04 L583.72,468.24 L584.65,468.45 L585.58,468.65 L586.5,468.85 L587.43,469.05 L588.35,469.25 L589.28,469.44 L590.21,469.63 L591.13,469.82 L592.06,470.01 L592.98,470.2 L593.91,470.38 L594.83,470.57 L595.76,470.75 L596.69,470.93 L597.61,471.11 L598.54,471.29 L599.46,471.47 L600.39,471.64 L601.31,471.82 L602.24,471.99 L603.17,472.16 L604.09,472.33 L605.02,472.5 L605.94,472.66 L606.87,472.83 L607.79,472.99 L608.72,473.15 L609.65,473.31 L610.57,473.46 L611.5,473.62 L612.42,473.77 L613.35,473.92 L614.27,474.07 L615.2,474.22 L616.13,474.36 L617.05,474.51 L617.98,474.65 L618.9,474.79 L619.83,474.93 L620.75,475.06 L621.68,475.2 L622.61,475.34 L623.53,475.47 L624.46,475.6 L625.38,475.74 L626.31,475.87 L627.24,476 L628.16,476.13 L629.09,476.26 L630.01,476.39 L630.94,476.52 L631.86,476.65 L632.79,476.77 L633.72,476.9 L634.64,477.03 L635.57,477.16 L636.49,477.28 L637.42,477.41 L638.34,477.53 L639.27,477.66 L640.2,477.78 L641.12,477.9 L642.05,478.02 L642.97,478.14 L643.9,478.26 L644.82,478.37 L645.75,478.48 L646.68,478.59 L647.6,478.7 L648.53,478.81 L649.45,478.91 L650.38,479.02 L651.3,479.12 L652.23,479.22 L653.16,479.32 L654.08,479.42 L655.01,479.52 L655.93,479.61 L656.86,479.71 L657.78,479.8 L658.71,479.9 L659.64,479.99 L660.56,480.08 L661.49,480.17 L662.41,480.25 L663.34,480.34 L664.27,480.42 L665.19,480.51 L666.12,480.59 L667.04,480.67 L667.97,480.75 L668.89,480.83 L669.82,480.9 L670.75,480.98 L671.67,481.05 L672.6,481.12 L673.52,481.2 L674.45,481.26 L675.37,481.33 L676.3,481.4" fill="none" stroke="#44f011" stroke-width="2.7" stroke-linejoin="round" stroke-linecap="round" />
</g>
<rect x="394.8" y="293.2" width="281.5" height="222.2" fill="none" stroke="#000" stroke-width="2.9"/>
<line x1="394.7" y1="515.4" x2="394.7" y2="519.4" stroke="#000" stroke-width="2.3"/>
<line x1="426.86" y1="515.4" x2="426.86" y2="519.4" stroke="#000" stroke-width="2.3"/>
<line x1="459.02" y1="515.4" x2="459.02" y2="519.4" stroke="#000" stroke-width="2.3"/>
<line x1="491.18" y1="515.4" x2="491.18" y2="519.4" stroke="#000" stroke-width="2.3"/>
<line x1="523.34" y1="515.4" x2="523.34" y2="519.4" stroke="#000" stroke-width="2.3"/>
<line x1="555.5" y1="515.4" x2="555.5" y2="519.4" stroke="#000" stroke-width="2.3"/>
<line x1="587.66" y1="515.4" x2="587.66" y2="519.4" stroke="#000" stroke-width="2.3"/>
<line x1="619.82" y1="515.4" x2="619.82" y2="519.4" stroke="#000" stroke-width="2.3"/>
<line x1="651.98" y1="515.4" x2="651.98" y2="519.4" stroke="#000" stroke-width="2.3"/>
<line x1="410.78" y1="515.4" x2="410.78" y2="517.8" stroke="#000" stroke-width="2.0"/>
<line x1="442.94" y1="515.4" x2="442.94" y2="517.8" stroke="#000" stroke-width="2.0"/>
<line x1="475.1" y1="515.4" x2="475.1" y2="517.8" stroke="#000" stroke-width="2.0"/>
<line x1="507.26" y1="515.4" x2="507.26" y2="517.8" stroke="#000" stroke-width="2.0"/>
<line x1="539.42" y1="515.4" x2="539.42" y2="517.8" stroke="#000" stroke-width="2.0"/>
<line x1="571.58" y1="515.4" x2="571.58" y2="517.8" stroke="#000" stroke-width="2.0"/>
<line x1="603.74" y1="515.4" x2="603.74" y2="517.8" stroke="#000" stroke-width="2.0"/>
<line x1="635.9" y1="515.4" x2="635.9" y2="517.8" stroke="#000" stroke-width="2.0"/>
<line x1="668.06" y1="515.4" x2="668.06" y2="517.8" stroke="#000" stroke-width="2.0"/>
<line x1="390.2" y1="337" x2="394.8" y2="337" stroke="#000" stroke-width="2.2"/>
<line x1="390.2" y1="399.45" x2="394.8" y2="399.45" stroke="#000" stroke-width="2.2"/>
<line x1="390.2" y1="461.9" x2="394.8" y2="461.9" stroke="#000" stroke-width="2.2"/>
<text x="394.7" y="534.8" font-size="15.6" text-anchor="middle" >0</text>
<text x="426.86" y="534.8" font-size="15.6" text-anchor="middle" >2</text>
<text x="459.02" y="534.8" font-size="15.6" text-anchor="middle" >4</text>
<text x="491.18" y="534.8" font-size="15.6" text-anchor="middle" >6</text>
<text x="523.34" y="534.8" font-size="15.6" text-anchor="middle" >8</text>
<text x="555.5" y="534.8" font-size="15.6" text-anchor="middle" >10</text>
<text x="587.66" y="534.8" font-size="15.6" text-anchor="middle" >12</text>
<text x="619.82" y="534.8" font-size="15.6" text-anchor="middle" >14</text>
<text x="651.98" y="534.8" font-size="15.6" text-anchor="middle" >16</text>
<text x="390.8" y="342.2" font-size="15.6" text-anchor="end" >1</text>
<text x="390.8" y="404.65" font-size="15.6" text-anchor="end" >0.1</text>
<text x="390.8" y="467.1" font-size="15.6" text-anchor="end" >0.01</text>
<text x="342.5" y="302.3" font-size="20.8" text-anchor="start" >(d)</text>
<text x="536" y="555.4" font-size="19.9" text-anchor="middle" >Time (ns)</text>
<text x="359.7" y="472.6" font-size="19.4" text-anchor="start" transform="rotate(-90 359.7 472.6)" ><tspan font-weight="normal">Δ</tspan>A (Normalized)</text>
<circle cx="456.8" cy="316.9" r="4" fill="url(#gr)"/>
<circle cx="541.1" cy="354.9" r="4" fill="#8a86ff"/>
<text x="473" y="321.9" font-size="13.9" text-anchor="start" >[Emim]BF<tspan font-size="9.59" dy="3.06">4</tspan><tspan dy="-3.06">@PCN-250-Fe</tspan><tspan font-size="9.59" dy="3.06">2</tspan><tspan dy="-3.06">Co</tspan></text>
<text x="659.3" y="341.6" font-size="13.8" text-anchor="end" >(1.35 ns)</text>
<text x="557.5" y="359.9" font-size="13.9" text-anchor="start" >PCN-250-Fe<tspan font-size="9.59" dy="3.06">2</tspan><tspan dy="-3.06">Co</tspan></text>
<text x="659.3" y="380" font-size="13.8" text-anchor="end" >(1.16 ns)</text>
</g>
<g id="pe">
<path d="M54.6,694.8 L55.17,694.75 L55.75,694.7 L56.32,694.66 L56.89,694.63 L57.46,694.6 L58.04,694.57 L58.61,694.55 L59.18,694.53 L59.76,694.52 L60.33,694.51 L60.9,694.5 L61.48,694.5 L62.05,694.5 L62.62,694.51 L63.19,694.53 L63.77,694.56 L64.34,694.6 L64.91,694.65 L65.49,694.7 L66.06,694.75 L66.63,694.81 L67.2,694.87 L67.78,694.93 L68.35,694.98 L68.92,695.03 L69.5,695.07 L70.07,695.1 L70.64,695.13 L71.22,695.17 L71.79,695.2 L72.36,695.23 L72.93,695.26 L73.51,695.29 L74.08,695.32 L74.65,695.35 L75.23,695.38 L75.8,695.4 L76.37,695.42 L76.94,695.45 L77.52,695.46 L78.09,695.48 L78.66,695.49 L79.24,695.5 L79.81,695.5 L80.38,695.5 L80.96,695.49 L81.53,695.47 L82.1,695.44 L82.67,695.41 L83.25,695.38 L83.82,695.34 L84.39,695.3 L84.97,695.25 L85.54,695.21 L86.11,695.17 L86.68,695.13 L87.26,695.09 L87.83,695.06 L88.4,695.03 L88.98,695.01 L89.55,695 L90.12,695 L90.7,695 L91.27,695.02 L91.84,695.03 L92.41,695.05 L92.99,695.08 L93.56,695.1 L94.13,695.13 L94.71,695.16 L95.28,695.2 L95.85,695.23 L96.43,695.26 L97,695.29 L97.57,695.32 L98.14,695.34 L98.72,695.37 L99.29,695.38 L99.86,695.4 L100.44,695.41 L101.01,695.42 L101.58,695.42 L102.15,695.43 L102.73,695.44 L103.3,695.45 L103.87,695.46 L104.45,695.46 L105.02,695.47 L105.59,695.48 L106.17,695.48 L106.74,695.49 L107.31,695.49 L107.88,695.49 L108.46,695.5 L109.03,695.5 L109.6,695.5 L110.18,695.5 L110.75,695.49 L111.32,695.48 L111.89,695.45 L112.47,695.42 L113.04,695.39 L113.61,695.35 L114.19,695.3 L114.76,695.26 L115.33,695.21 L115.91,695.16 L116.48,695.12 L117.05,695.07 L117.62,695.03 L118.2,694.99 L118.77,694.95 L119.34,694.92 L119.92,694.9 L120.49,694.89 L121.06,694.87 L121.63,694.86 L122.21,694.85 L122.78,694.84 L123.35,694.83 L123.93,694.82 L124.5,694.81 L125.07,694.8 L125.65,694.79 L126.22,694.78 L126.79,694.77 L127.36,694.76 L127.94,694.75 L128.51,694.74 L129.08,694.73 L129.66,694.71 L130.23,694.69 L130.8,694.67 L131.37,694.65 L131.95,694.63 L132.52,694.61 L133.09,694.58 L133.67,694.56 L134.24,694.53 L134.81,694.5 L135.39,694.46 L135.96,694.43 L136.53,694.39 L137.1,694.35 L137.68,694.3 L138.25,694.26 L138.82,694.21 L139.4,694.16 L139.97,694.1 L140.54,694.04 L141.11,693.95 L141.69,693.85 L142.26,693.74 L142.83,693.61 L143.41,693.47 L143.98,693.32 L144.55,693.17 L145.13,693.02 L145.7,692.86 L146.27,692.7 L146.84,692.54 L147.42,692.39 L147.99,692.22 L148.56,692.05 L149.14,691.88 L149.71,691.7 L150.28,691.51 L150.85,691.32 L151.43,691.13 L152,690.93 L152.57,690.73 L153.15,690.53 L153.72,690.34 L154.29,690.14 L154.87,689.95 L155.44,689.75 L156.01,689.56 L156.58,689.36 L157.16,689.16 L157.73,688.96 L158.3,688.76 L158.88,688.56 L159.45,688.36 L160.02,688.15 L160.59,687.95 L161.17,687.75 L161.74,687.55 L162.31,687.34 L162.89,687.14 L163.46,686.94 L164.03,686.75 L164.61,686.57 L165.18,686.39 L165.75,686.21 L166.32,686.04 L166.9,685.86 L167.47,685.68 L168.04,685.5 L168.62,685.3 L169.19,685.1 L169.76,684.89 L170.34,684.66 L170.91,684.42 L171.48,684.15 L172.05,683.87 L172.63,683.56 L173.2,683.22 L173.77,682.84 L174.35,682.42 L174.92,681.97 L175.49,681.48 L176.06,680.95 L176.64,680.38 L177.21,679.77 L177.78,679.08 L178.36,678.3 L178.93,677.44 L179.5,676.5 L180.08,675.47 L180.65,674.38 L181.22,673.2 L181.79,671.96 L182.37,670.61 L182.94,669.03 L183.51,667.25 L184.09,665.31 L184.66,663.25 L185.23,661.12 L185.8,658.75 L186.38,656.19 L186.95,653.54 L187.52,650.89 L188.1,648.01 L188.67,645 L189.24,642.4 L189.82,640.51 L190.39,638.79 L190.96,637.62 L191.53,637.5 L192.11,638.45 L192.68,640.02 L193.25,641.91 L193.83,644.83 L194.4,648.64 L194.97,652.94 L195.54,657.37 L196.12,661.58 L196.69,665.87 L197.26,670.37 L197.84,675.11 L198.41,680.03 L198.98,685.2 L199.56,691.01 L200.13,698.13 L200.7,706.37 L201.27,714.55 L201.85,721.86 L202.42,728.93 L202.99,735.45 L203.57,741.01 L204.14,745.96 L204.71,750.39 L205.28,754.23 L205.86,757.5 L206.43,760.47 L207,762.83 L207.58,764.38 L208.15,765.6 L208.72,766.1 L209.3,765.65 L209.87,764.66 L210.44,763.44 L211.01,761.58 L211.59,759.13 L212.16,756.35 L212.73,753.45 L213.31,750.67 L213.88,748.12 L214.45,745.53 L215.02,742.92 L215.6,740.34 L216.17,737.86 L216.74,735.51 L217.32,733.21 L217.89,730.96 L218.46,728.79 L219.04,726.75 L219.61,724.88 L220.18,723.16 L220.75,721.54 L221.33,720 L221.9,718.57 L222.47,717.23 L223.05,716.01 L223.62,714.86 L224.19,713.77 L224.76,712.74 L225.34,711.76 L225.91,710.84 L226.48,709.97 L227.06,709.14 L227.63,708.35 L228.2,707.59 L228.78,706.86 L229.35,706.15 L229.92,705.48 L230.49,704.85 L231.07,704.26 L231.64,703.72 L232.21,703.22 L232.79,702.75 L233.36,702.3 L233.93,701.88 L234.51,701.47 L235.08,701.09 L235.65,700.73 L236.22,700.39 L236.8,700.07 L237.37,699.76 L237.94,699.47 L238.52,699.19 L239.09,698.92 L239.66,698.67 L240.23,698.43 L240.81,698.21 L241.38,698 L241.95,697.81 L242.53,697.64 L243.1,697.48 L243.67,697.32 L244.25,697.17 L244.82,697.03 L245.39,696.9 L245.96,696.78 L246.54,696.66 L247.11,696.55 L247.68,696.45 L248.26,696.35 L248.83,696.25 L249.4,696.16 L249.97,696.08 L250.55,695.99 L251.12,695.92 L251.69,695.84 L252.27,695.78 L252.84,695.72 L253.41,695.66 L253.99,695.6 L254.56,695.54 L255.13,695.49 L255.7,695.43 L256.28,695.38 L256.85,695.33 L257.42,695.29 L258,695.26 L258.57,695.23 L259.14,695.21 L259.71,695.2 L260.29,695.2 L260.86,695.21 L261.43,695.21 L262.01,695.22 L262.58,695.23 L263.15,695.25 L263.73,695.26 L264.3,695.28 L264.87,695.3 L265.44,695.31 L266.02,695.33 L266.59,695.35 L267.16,695.36 L267.74,695.37 L268.31,695.39 L268.88,695.39 L269.45,695.4 L270.03,695.4 L270.6,695.4 L271.17,695.38 L271.75,695.37 L272.32,695.35 L272.89,695.32 L273.47,695.29 L274.04,695.26 L274.61,695.22 L275.18,695.19 L275.76,695.15 L276.33,695.12 L276.9,695.09 L277.48,695.06 L278.05,695.04 L278.62,695.02 L279.19,695.01 L279.77,695 L280.34,695 L280.91,695.01 L281.49,695.03 L282.06,695.05 L282.63,695.09 L283.21,695.12 L283.78,695.16 L284.35,695.2 L284.92,695.24 L285.5,695.29 L286.07,695.33 L286.64,695.37 L287.22,695.41 L287.79,695.44 L288.36,695.46 L288.93,695.48 L289.51,695.5 L290.08,695.5 L290.65,695.49 L291.23,695.48 L291.8,695.45 L292.37,695.41 L292.95,695.37 L293.52,695.33 L294.09,695.28 L294.66,695.23 L295.24,695.18 L295.81,695.13 L296.38,695.08 L296.96,695.03 L297.53,694.99 L298.1,694.96 L298.67,694.93 L299.25,694.91 L299.82,694.9 L300.39,694.9 L300.97,694.91 L301.54,694.93 L302.11,694.95 L302.69,694.97 L303.26,695 L303.83,695.04 L304.4,695.07 L304.98,695.11 L305.55,695.15 L306.12,695.19 L306.7,695.23 L307.27,695.27 L307.84,695.3 L308.42,695.33 L308.99,695.36 L309.56,695.39 L310.13,695.4 L310.71,695.42 L311.28,695.44 L311.85,695.45 L312.43,695.47 L313,695.49 L313.57,695.5 L314.14,695.52 L314.72,695.53 L315.29,695.54 L315.86,695.55 L316.44,695.57 L317.01,695.57 L317.58,695.58 L318.16,695.59 L318.73,695.6 L319.3,695.6 L319.87,695.6 L320.45,695.6 L321.02,695.59 L321.59,695.58 L322.17,695.57 L322.74,695.56 L323.31,695.54 L323.88,695.52 L324.46,695.5 L325.03,695.48 L325.6,695.46 L326.18,695.43 L326.75,695.41 L327.32,695.39 L327.9,695.36 L328.47,695.34 L329.04,695.33 L329.61,695.31 L330.19,695.3 L330.76,695.28 L331.33,695.27 L331.91,695.26 L332.48,695.24 L333.05,695.23 L333.62,695.22 L334.2,695.21 L334.77,695.2 L335.34,695.19 L335.92,695.17 L336.49,695.16 L337.06,695.15 L337.64,695.14 L338.21,695.13 L338.78,695.12 L339.35,695.12 L339.93,695.11 L340.5,695.1" fill="none" stroke="#ff1408" stroke-width="2.3" stroke-linejoin="round" stroke-linecap="round" />
<path d="M54.6,695 L55.17,694.91 L55.75,694.84 L56.32,694.77 L56.89,694.72 L57.46,694.68 L58.04,694.65 L58.61,694.62 L59.18,694.61 L59.76,694.6 L60.33,694.6 L60.9,694.63 L61.48,694.68 L62.05,694.74 L62.62,694.81 L63.19,694.9 L63.77,694.99 L64.34,695.08 L64.91,695.16 L65.49,695.24 L66.06,695.31 L66.63,695.37 L67.2,695.44 L67.78,695.52 L68.35,695.6 L68.92,695.67 L69.5,695.74 L70.07,695.81 L70.64,695.87 L71.22,695.92 L71.79,695.96 L72.36,695.99 L72.93,696 L73.51,695.99 L74.08,695.95 L74.65,695.89 L75.23,695.82 L75.8,695.73 L76.37,695.64 L76.94,695.54 L77.52,695.43 L78.09,695.34 L78.66,695.25 L79.24,695.17 L79.81,695.12 L80.38,695.07 L80.96,695.03 L81.53,694.99 L82.1,694.95 L82.67,694.91 L83.25,694.87 L83.82,694.84 L84.39,694.81 L84.97,694.78 L85.54,694.75 L86.11,694.73 L86.68,694.72 L87.26,694.71 L87.83,694.7 L88.4,694.7 L88.98,694.72 L89.55,694.75 L90.12,694.79 L90.7,694.83 L91.27,694.88 L91.84,694.94 L92.41,694.99 L92.99,695.04 L93.56,695.09 L94.13,695.13 L94.71,695.16 L95.28,695.19 L95.85,695.2 L96.43,695.2 L97,695.17 L97.57,695.14 L98.14,695.09 L98.72,695.04 L99.29,694.98 L99.86,694.92 L100.44,694.85 L101.01,694.79 L101.58,694.73 L102.15,694.68 L102.73,694.64 L103.3,694.61 L103.87,694.6 L104.45,694.6 L105.02,694.62 L105.59,694.65 L106.17,694.69 L106.74,694.74 L107.31,694.79 L107.88,694.84 L108.46,694.89 L109.03,694.94 L109.6,694.99 L110.18,695.03 L110.75,695.07 L111.32,695.09 L111.89,695.1 L112.47,695.09 L113.04,695.06 L113.61,695.02 L114.19,694.95 L114.76,694.88 L115.33,694.8 L115.91,694.71 L116.48,694.63 L117.05,694.55 L117.62,694.47 L118.2,694.4 L118.77,694.35 L119.34,694.32 L119.92,694.3 L120.49,694.31 L121.06,694.32 L121.63,694.35 L122.21,694.39 L122.78,694.44 L123.35,694.49 L123.93,694.54 L124.5,694.6 L125.07,694.65 L125.65,694.7 L126.22,694.74 L126.79,694.77 L127.36,694.79 L127.94,694.8 L128.51,694.8 L129.08,694.78 L129.66,694.76 L130.23,694.72 L130.8,694.69 L131.37,694.65 L131.95,694.6 L132.52,694.56 L133.09,694.52 L133.67,694.48 L134.24,694.45 L134.81,694.42 L135.39,694.41 L135.96,694.4 L136.53,694.41 L137.1,694.43 L137.68,694.46 L138.25,694.49 L138.82,694.54 L139.4,694.58 L139.97,694.62 L140.54,694.66 L141.11,694.68 L141.69,694.7 L142.26,694.7 L142.83,694.68 L143.41,694.64 L143.98,694.59 L144.55,694.52 L145.13,694.44 L145.7,694.36 L146.27,694.27 L146.84,694.18 L147.42,694.09 L147.99,694 L148.56,693.9 L149.14,693.77 L149.71,693.62 L150.28,693.47 L150.85,693.32 L151.43,693.18 L152,693.08 L152.57,693.02 L153.15,693 L153.72,693.05 L154.29,693.15 L154.87,693.28 L155.44,693.43 L156.01,693.59 L156.58,693.72 L157.16,693.83 L157.73,693.89 L158.3,693.89 L158.88,693.85 L159.45,693.76 L160.02,693.65 L160.59,693.52 L161.17,693.38 L161.74,693.24 L162.31,693.12 L162.89,693.02 L163.46,692.93 L164.03,692.84 L164.61,692.75 L165.18,692.66 L165.75,692.57 L166.32,692.5 L166.9,692.45 L167.47,692.41 L168.04,692.4 L168.62,692.43 L169.19,692.51 L169.76,692.61 L170.34,692.71 L170.91,692.81 L171.48,692.88 L172.05,692.9 L172.63,692.89 L173.2,692.85 L173.77,692.8 L174.35,692.73 L174.92,692.64 L175.49,692.54 L176.06,692.33 L176.64,692.03 L177.21,691.69 L177.78,691.33 L178.36,690.98 L178.93,690.6 L179.5,690.19 L180.08,689.75 L180.65,689.29 L181.22,688.81 L181.79,688.32 L182.37,687.79 L182.94,687.21 L183.51,686.57 L184.09,685.82 L184.66,684.97 L185.23,684.06 L185.8,683.13 L186.38,682.2 L186.95,681.25 L187.52,680.23 L188.1,679.19 L188.67,678.21 L189.24,677.34 L189.82,676.61 L190.39,675.95 L190.96,675.39 L191.53,674.98 L192.11,674.67 L192.68,674.4 L193.25,674.23 L193.83,674.22 L194.4,674.47 L194.97,674.9 L195.54,675.49 L196.12,676.55 L196.69,677.97 L197.26,679.97 L197.84,682.53 L198.41,685.04 L198.98,687.3 L199.56,689.51 L200.13,691.73 L200.7,694 L201.27,696.32 L201.85,698.58 L202.42,700.69 L202.99,702.68 L203.57,704.56 L204.14,706.31 L204.71,707.99 L205.28,709.55 L205.86,710.91 L206.43,712.12 L207,713.25 L207.58,714.15 L208.15,714.72 L208.72,715.13 L209.3,715.47 L209.87,715.67 L210.44,715.66 L211.01,715.32 L211.59,714.7 L212.16,713.91 L212.73,713.08 L213.31,712.24 L213.88,711.21 L214.45,710.04 L215.02,708.81 L215.6,707.64 L216.17,706.61 L216.74,705.63 L217.32,704.68 L217.89,703.78 L218.46,702.93 L219.04,702.15 L219.61,701.42 L220.18,700.72 L220.75,700.06 L221.33,699.46 L221.9,698.92 L222.47,698.47 L223.05,698.07 L223.62,697.7 L224.19,697.36 L224.76,697.05 L225.34,696.78 L225.91,696.53 L226.48,696.32 L227.06,696.12 L227.63,695.94 L228.2,695.78 L228.78,695.63 L229.35,695.5 L229.92,695.38 L230.49,695.26 L231.07,695.16 L231.64,695.06 L232.21,694.97 L232.79,694.88 L233.36,694.8 L233.93,694.72 L234.51,694.66 L235.08,694.59 L235.65,694.53 L236.22,694.47 L236.8,694.42 L237.37,694.37 L237.94,694.32 L238.52,694.28 L239.09,694.24 L239.66,694.21 L240.23,694.18 L240.81,694.15 L241.38,694.13 L241.95,694.1 L242.53,694.08 L243.1,694.06 L243.67,694.04 L244.25,694.02 L244.82,694.01 L245.39,694 L245.96,694 L246.54,694.01 L247.11,694.03 L247.68,694.06 L248.26,694.1 L248.83,694.14 L249.4,694.19 L249.97,694.24 L250.55,694.29 L251.12,694.33 L251.69,694.36 L252.27,694.39 L252.84,694.4 L253.41,694.39 L253.99,694.37 L254.56,694.32 L255.13,694.27 L255.7,694.2 L256.28,694.13 L256.85,694.06 L257.42,693.98 L258,693.92 L258.57,693.86 L259.14,693.82 L259.71,693.8 L260.29,693.8 L260.86,693.83 L261.43,693.89 L262.01,693.96 L262.58,694.05 L263.15,694.14 L263.73,694.24 L264.3,694.33 L264.87,694.42 L265.44,694.5 L266.02,694.56 L266.59,694.59 L267.16,694.6 L267.74,694.59 L268.31,694.56 L268.88,694.52 L269.45,694.47 L270.03,694.41 L270.6,694.34 L271.17,694.28 L271.75,694.22 L272.32,694.16 L272.89,694.1 L273.47,694.06 L274.04,694.02 L274.61,694 L275.18,694 L275.76,694.02 L276.33,694.05 L276.9,694.1 L277.48,694.16 L278.05,694.23 L278.62,694.3 L279.19,694.38 L279.77,694.45 L280.34,694.52 L280.91,694.58 L281.49,694.63 L282.06,694.67 L282.63,694.7 L283.21,694.7 L283.78,694.68 L284.35,694.65 L284.92,694.61 L285.5,694.56 L286.07,694.5 L286.64,694.44 L287.22,694.38 L287.79,694.31 L288.36,694.25 L288.93,694.2 L289.51,694.15 L290.08,694.12 L290.65,694.1 L291.23,694.1 L291.8,694.11 L292.37,694.13 L292.95,694.16 L293.52,694.2 L294.09,694.24 L294.66,694.28 L295.24,694.33 L295.81,694.38 L296.38,694.42 L296.96,694.47 L297.53,694.51 L298.1,694.54 L298.67,694.57 L299.25,694.59 L299.82,694.6 L300.39,694.6 L300.97,694.57 L301.54,694.53 L302.11,694.48 L302.69,694.42 L303.26,694.35 L303.83,694.27 L304.4,694.2 L304.98,694.12 L305.55,694.06 L306.12,694 L306.7,693.95 L307.27,693.92 L307.84,693.9 L308.42,693.9 L308.99,693.92 L309.56,693.94 L310.13,693.98 L310.71,694.02 L311.28,694.07 L311.85,694.12 L312.43,694.17 L313,694.23 L313.57,694.29 L314.14,694.34 L314.72,694.4 L315.29,694.45 L315.86,694.49 L316.44,694.53 L317.01,694.57 L317.58,694.62 L318.16,694.67 L318.73,694.72 L319.3,694.76 L319.87,694.81 L320.45,694.85 L321.02,694.89 L321.59,694.93 L322.17,694.96 L322.74,694.98 L323.31,694.99 L323.88,695 L324.46,694.99 L325.03,694.97 L325.6,694.93 L326.18,694.87 L326.75,694.81 L327.32,694.74 L327.9,694.66 L328.47,694.59 L329.04,694.52 L329.61,694.45 L330.19,694.39 L330.76,694.35 L331.33,694.31 L331.91,694.3 L332.48,694.3 L333.05,694.3 L333.62,694.3 L334.2,694.31 L334.77,694.31 L335.34,694.32 L335.92,694.34 L336.49,694.35 L337.06,694.37 L337.64,694.4 L338.21,694.43 L338.78,694.46 L339.35,694.5 L339.93,694.55 L340.5,694.6" fill="none" stroke="#1e00c4" stroke-width="2.5" stroke-linejoin="round" stroke-linecap="round" />
<rect x="54.6" y="572.7" width="285.9" height="227.5" fill="none" stroke="#000" stroke-width="2.9"/>
<line x1="73.4" y1="800.2" x2="73.4" y2="804.8" stroke="#000" stroke-width="2.3"/>
<line x1="168.3" y1="800.2" x2="168.3" y2="804.8" stroke="#000" stroke-width="2.3"/>
<line x1="263.2" y1="800.2" x2="263.2" y2="804.8" stroke="#000" stroke-width="2.3"/>
<line x1="120.85" y1="800.2" x2="120.85" y2="802.8" stroke="#000" stroke-width="2.0"/>
<line x1="215.75" y1="800.2" x2="215.75" y2="802.8" stroke="#000" stroke-width="2.0"/>
<line x1="310.65" y1="800.2" x2="310.65" y2="802.8" stroke="#000" stroke-width="2.0"/>
<text x="73.4" y="821.5" font-size="15.6" text-anchor="middle" >330</text>
<text x="168.3" y="821.5" font-size="15.6" text-anchor="middle" >335</text>
<text x="263.2" y="821.5" font-size="15.6" text-anchor="middle" >340</text>
<text x="4.5" y="583.6" font-size="21" text-anchor="start" >(e)</text>
<text x="196.8" y="840.7" font-size="19.8" text-anchor="middle" >Magnetic field (Gauss)</text>
<text x="34.2" y="753" font-size="19.6" text-anchor="start" transform="rotate(-90 34.2 753)" >Intensity (a.u.)</text>
<text x="71.2" y="688.9" font-size="13.9" text-anchor="start" >in light</text>
<line x1="64" y1="588.9" x2="96.7" y2="588.9" stroke="#ff1408" stroke-width="2.5"/>
<line x1="64" y1="609.8" x2="96.7" y2="609.8" stroke="#1e00c4" stroke-width="2.5"/>
<text x="100.3" y="593.2" font-size="14" text-anchor="start" >[Emim]BF<tspan font-size="9.66" dy="3.08">4</tspan><tspan dy="-3.08">@PCN-250-Fe</tspan><tspan font-size="9.66" dy="3.08">2</tspan><tspan dy="-3.08">Co</tspan></text>
<text x="100.3" y="614" font-size="14" text-anchor="start" >PCN-250-Fe<tspan font-size="9.66" dy="3.08">2</tspan><tspan dy="-3.08">Co</tspan></text>
</g>
<g id="pf">
<rect x="468.1" y="664.3" width="23.9" height="92" fill="#dddddd"/>
<rect x="509" y="638.6" width="23.8" height="138.8" fill="#dddddd"/>
<rect x="546.9" y="638.6" width="24.1" height="138.8" fill="#dddddd"/>
<rect x="582.1" y="663.9" width="23.9" height="92.4" fill="#dddddd"/>
<path d="M399.7,688.9 L400.01,689.15 L400.32,689.38 L400.63,689.58 L400.94,689.76 L401.24,689.93 L401.55,690.07 L401.86,690.19 L402.17,690.3 L402.48,690.38 L402.79,690.45 L403.1,690.5 L403.41,690.54 L403.71,690.56 L404.02,690.57 L404.33,690.57 L404.64,690.55 L404.95,690.52 L405.26,690.48 L405.57,690.43 L405.88,690.37 L406.18,690.3 L406.49,690.23 L406.8,690.14 L407.11,690.05 L407.42,689.96 L407.73,689.86 L408.04,689.75 L408.35,689.64 L408.65,689.53 L408.96,689.41 L409.27,689.3 L409.58,689.18 L409.89,689.07 L410.2,688.95 L410.51,688.84 L410.82,688.73 L411.13,688.62 L411.43,688.52 L411.74,688.42 L412.05,688.32 L412.36,688.24 L412.67,688.16 L412.98,688.08 L413.29,688.02 L413.6,687.96 L413.9,687.91 L414.21,687.88 L414.52,687.85 L414.83,687.83 L415.14,687.82 L415.45,687.82 L415.76,687.83 L416.07,687.85 L416.37,687.88 L416.68,687.92 L416.99,687.98 L417.3,688.04 L417.61,688.12 L417.92,688.21 L418.23,688.31 L418.54,688.43 L418.84,688.55 L419.15,688.69 L419.46,688.85 L419.77,689.02 L420.08,689.2 L420.39,689.39 L420.7,689.6 L421.01,689.82 L421.32,690.05 L421.62,690.28 L421.93,690.52 L422.24,690.75 L422.55,690.98 L422.86,691.2 L423.17,691.4 L423.48,691.6 L423.79,691.77 L424.09,691.92 L424.4,692.05 L424.71,692.15 L425.02,692.22 L425.33,692.25 L425.64,692.25 L425.95,692.2 L426.26,692.11 L426.56,691.98 L426.87,691.79 L427.18,691.55 L427.49,691.27 L427.8,690.95 L428.11,690.59 L428.42,690.21 L428.73,689.8 L429.03,689.37 L429.34,688.93 L429.65,688.48 L429.96,688.02 L430.27,687.57 L430.58,687.12 L430.89,686.68 L431.2,686.26 L431.51,685.86 L431.81,685.49 L432.12,685.15 L432.43,684.85 L432.74,684.58 L433.05,684.37 L433.36,684.2 L433.67,684.08 L433.98,684.01 L434.28,683.97 L434.59,683.97 L434.9,683.99 L435.21,684.05 L435.52,684.13 L435.83,684.23 L436.14,684.35 L436.45,684.48 L436.75,684.62 L437.06,684.76 L437.37,684.91 L437.68,685.05 L437.99,685.19 L438.3,685.32 L438.61,685.43 L438.92,685.53 L439.22,685.6 L439.53,685.65 L439.84,685.67 L440.15,685.66 L440.46,685.61 L440.77,685.52 L441.08,685.4 L441.39,685.24 L441.7,685.05 L442,684.84 L442.31,684.61 L442.62,684.36 L442.93,684.09 L443.24,683.82 L443.55,683.54 L443.86,683.26 L444.17,682.99 L444.47,682.72 L444.78,682.46 L445.09,682.21 L445.4,681.99 L445.71,681.79 L446.02,681.61 L446.33,681.47 L446.64,681.36 L446.94,681.29 L447.25,681.26 L447.56,681.28 L447.87,681.35 L448.18,681.48 L448.49,681.66 L448.8,681.89 L449.11,682.16 L449.41,682.48 L449.72,682.83 L450.03,683.21 L450.34,683.63 L450.65,684.06 L450.96,684.52 L451.27,684.99 L451.58,685.47 L451.89,685.96 L452.19,686.44 L452.5,686.93 L452.81,687.41 L453.12,687.88 L453.43,688.33 L453.74,688.76 L454.05,689.17 L454.36,689.55 L454.66,689.9 L454.97,690.21 L455.28,690.47 L455.59,690.69 L455.9,690.87 L456.21,690.99 L456.52,691.07 L456.83,691.1 L457.13,691.1 L457.44,691.06 L457.75,690.98 L458.06,690.88 L458.37,690.74 L458.68,690.58 L458.99,690.39 L459.3,690.18 L459.6,689.95 L459.91,689.71 L460.22,689.45 L460.53,689.18 L460.84,688.91 L461.15,688.63 L461.46,688.34 L461.77,688.06 L462.08,687.78 L462.38,687.5 L462.69,687.24 L463,686.98 L463.31,686.74 L463.62,686.51 L463.93,686.29 L464.24,686.09 L464.55,685.91 L464.85,685.74 L465.16,685.58 L465.47,685.44 L465.78,685.32 L466.09,685.21 L466.4,685.12 L466.71,685.04 L467.02,684.98 L467.32,684.94 L467.63,684.92 L467.94,684.91 L468.25,684.91 L468.56,684.94 L468.87,684.98 L469.18,685.04 L469.49,685.12 L469.79,685.21 L470.1,685.33 L470.41,685.46 L470.72,685.61 L471.03,685.78 L471.34,685.96 L471.65,686.15 L471.96,686.34 L472.27,686.53 L472.57,686.71 L472.88,686.88 L473.19,687.03 L473.5,687.15 L473.81,687.25 L474.12,687.31 L474.43,687.34 L474.74,687.31 L475.04,687.24 L475.35,687.12 L475.66,686.93 L475.97,686.68 L476.28,686.36 L476.59,685.97 L476.9,685.51 L477.21,684.98 L477.51,684.39 L477.82,683.72 L478.13,682.98 L478.44,682.16 L478.75,681.28 L479.06,680.35 L479.37,679.43 L479.68,678.54 L479.98,677.73 L480.29,677.04 L480.6,676.51 L480.91,676.19 L481.22,676.1 L481.53,676.29 L481.84,676.71 L482.15,677.36 L482.46,678.19 L482.76,679.17 L483.07,680.27 L483.38,681.46 L483.69,682.72 L484,684 L484.31,685.28 L484.62,686.53 L484.93,687.74 L485.23,688.89 L485.54,689.95 L485.85,690.91 L486.16,691.74 L486.47,692.43 L486.78,692.94 L487.09,693.27 L487.4,693.41 L487.7,693.38 L488.01,693.21 L488.32,692.92 L488.63,692.54 L488.94,692.1 L489.25,691.63 L489.56,691.15 L489.87,690.69 L490.17,690.27 L490.48,689.91 L490.79,689.59 L491.1,689.31 L491.41,689.08 L491.72,688.87 L492.03,688.69 L492.34,688.53 L492.65,688.39 L492.95,688.25 L493.26,688.12 L493.57,687.98 L493.88,687.84 L494.19,687.7 L494.5,687.56 L494.81,687.42 L495.12,687.27 L495.42,687.12 L495.73,686.97 L496.04,686.82 L496.35,686.66 L496.66,686.51 L496.97,686.35 L497.28,686.2 L497.59,686.04 L497.89,685.88 L498.2,685.72 L498.51,685.56 L498.82,685.41 L499.13,685.25 L499.44,685.09 L499.75,684.93 L500.06,684.77 L500.36,684.62 L500.67,684.46 L500.98,684.31 L501.29,684.16 L501.6,684.01 L501.91,683.86 L502.22,683.72 L502.53,683.58 L502.84,683.44 L503.14,683.31 L503.45,683.19 L503.76,683.07 L504.07,682.97 L504.38,682.87 L504.69,682.78 L505,682.69 L505.31,682.62 L505.61,682.56 L505.92,682.51 L506.23,682.48 L506.54,682.46 L506.85,682.45 L507.16,682.45 L507.47,682.47 L507.78,682.5 L508.08,682.55 L508.39,682.62 L508.7,682.7 L509.01,682.79 L509.32,682.88 L509.63,682.95 L509.94,683.01 L510.25,683.03 L510.55,683.02 L510.86,682.96 L511.17,682.85 L511.48,682.68 L511.79,682.43 L512.1,682.1 L512.41,681.68 L512.72,681.17 L513.03,680.55 L513.33,679.81 L513.64,678.97 L513.95,678.04 L514.26,677.02 L514.57,675.93 L514.88,674.77 L515.19,673.55 L515.5,672.29 L515.8,670.98 L516.11,669.66 L516.42,668.36 L516.73,667.15 L517.04,666.09 L517.35,665.22 L517.66,664.61 L517.97,664.31 L518.27,664.38 L518.58,664.83 L518.89,665.67 L519.2,666.91 L519.51,668.55 L519.82,670.6 L520.13,673.07 L520.44,675.91 L520.74,679.01 L521.05,682.26 L521.36,685.56 L521.67,688.78 L521.98,691.81 L522.29,694.56 L522.6,696.99 L522.91,699.07 L523.22,700.8 L523.52,702.16 L523.83,703.13 L524.14,703.68 L524.45,703.81 L524.76,703.54 L525.07,702.94 L525.38,702.09 L525.69,701.06 L525.99,699.92 L526.3,698.74 L526.61,697.6 L526.92,696.53 L527.23,695.54 L527.54,694.63 L527.85,693.79 L528.16,693.02 L528.46,692.32 L528.77,691.67 L529.08,691.08 L529.39,690.55 L529.7,690.07 L530.01,689.63 L530.32,689.24 L530.63,688.88 L530.93,688.56 L531.24,688.27 L531.55,688.01 L531.86,687.76 L532.17,687.54 L532.48,687.33 L532.79,687.13 L533.1,686.94 L533.41,686.75 L533.71,686.57 L534.02,686.4 L534.33,686.23 L534.64,686.08 L534.95,685.95 L535.26,685.83 L535.57,685.73 L535.88,685.66 L536.18,685.61 L536.49,685.59 L536.8,685.59 L537.11,685.63 L537.42,685.7 L537.73,685.79 L538.04,685.91 L538.35,686.06 L538.65,686.23 L538.96,686.41 L539.27,686.62 L539.58,686.84 L539.89,687.08 L540.2,687.32 L540.51,687.58 L540.82,687.84 L541.12,688.11 L541.43,688.38 L541.74,688.64 L542.05,688.88 L542.36,689.1 L542.67,689.29 L542.98,689.44 L543.29,689.55 L543.59,689.59 L543.9,689.58 L544.21,689.49 L544.52,689.32 L544.83,689.08 L545.14,688.75 L545.45,688.36 L545.76,687.91 L546.07,687.4 L546.37,686.84 L546.68,686.24 L546.99,685.61 L547.3,684.94 L547.61,684.25 L547.92,683.55 L548.23,682.81 L548.54,682.06 L548.84,681.26 L549.15,680.44 L549.46,679.57 L549.77,678.65 L550.08,677.69 L550.39,676.68 L550.7,675.61 L551.01,674.48 L551.31,673.29 L551.62,672.03 L551.93,670.71 L552.24,669.32 L552.55,667.85 L552.86,666.32 L553.17,664.71 L553.48,663.03 L553.78,661.32 L554.09,659.67 L554.4,658.14 L554.71,656.83 L555.02,655.81 L555.33,655.16 L555.64,654.98 L555.95,655.31 L556.26,656.12 L556.56,657.33 L556.87,658.83 L557.18,660.53 L557.49,662.35 L557.8,664.19 L558.11,666.09 L558.42,668.15 L558.73,670.47 L559.03,673.15 L559.34,676.29 L559.65,680 L559.96,684.2 L560.27,688.68 L560.58,693.2 L560.89,697.52 L561.2,701.41 L561.5,704.76 L561.81,707.48 L562.12,709.53 L562.43,710.83 L562.74,711.32 L563.05,710.98 L563.36,709.97 L563.67,708.44 L563.97,706.56 L564.28,704.48 L564.59,702.38 L564.9,700.35 L565.21,698.42 L565.52,696.61 L565.83,694.91 L566.14,693.35 L566.45,691.94 L566.75,690.67 L567.06,689.57 L567.37,688.63 L567.68,687.84 L567.99,687.18 L568.3,686.65 L568.61,686.24 L568.92,685.93 L569.22,685.72 L569.53,685.59 L569.84,685.54 L570.15,685.55 L570.46,685.62 L570.77,685.74 L571.08,685.91 L571.39,686.12 L571.69,686.36 L572,686.62 L572.31,686.9 L572.62,687.19 L572.93,687.48 L573.24,687.76 L573.55,688.04 L573.86,688.29 L574.16,688.52 L574.47,688.72 L574.78,688.89 L575.09,689.03 L575.4,689.15 L575.71,689.25 L576.02,689.33 L576.33,689.38 L576.64,689.42 L576.94,689.45 L577.25,689.45 L577.56,689.45 L577.87,689.44 L578.18,689.41 L578.49,689.38 L578.8,689.34 L579.11,689.3 L579.41,689.25 L579.72,689.2 L580.03,689.15 L580.34,689.1 L580.65,689.05 L580.96,689.01 L581.27,688.97 L581.58,688.93 L581.88,688.91 L582.19,688.89 L582.5,688.88 L582.81,688.89 L583.12,688.91 L583.43,688.94 L583.74,688.98 L584.05,689.01 L584.35,689.04 L584.66,689.06 L584.97,689.06 L585.28,689.04 L585.59,688.98 L585.9,688.89 L586.21,688.76 L586.52,688.59 L586.83,688.36 L587.13,688.06 L587.44,687.71 L587.75,687.29 L588.06,686.82 L588.37,686.28 L588.68,685.68 L588.99,685.02 L589.3,684.31 L589.6,683.54 L589.91,682.71 L590.22,681.83 L590.53,680.91 L590.84,679.93 L591.15,678.94 L591.46,677.97 L591.77,677.05 L592.07,676.21 L592.38,675.48 L592.69,674.9 L593,674.5 L593.31,674.31 L593.62,674.36 L593.93,674.64 L594.24,675.14 L594.54,675.82 L594.85,676.67 L595.16,677.66 L595.47,678.77 L595.78,679.97 L596.09,681.24 L596.4,682.56 L596.71,683.9 L597.02,685.24 L597.32,686.55 L597.63,687.81 L597.94,689 L598.25,690.1 L598.56,691.07 L598.87,691.89 L599.18,692.55 L599.49,693.01 L599.79,693.25 L600.1,693.27 L600.41,693.09 L600.72,692.74 L601.03,692.24 L601.34,691.63 L601.65,690.93 L601.96,690.17 L602.26,689.38 L602.57,688.58 L602.88,687.8 L603.19,687.06 L603.5,686.37 L603.81,685.73 L604.12,685.15 L604.43,684.63 L604.73,684.18 L605.04,683.79 L605.35,683.48 L605.66,683.25 L605.97,683.11 L606.28,683.05 L606.59,683.07 L606.9,683.17 L607.21,683.33 L607.51,683.54 L607.82,683.8 L608.13,684.09 L608.44,684.41 L608.75,684.75 L609.06,685.1 L609.37,685.45 L609.68,685.79 L609.98,686.12 L610.29,686.44 L610.6,686.73 L610.91,687 L611.22,687.25 L611.53,687.47 L611.84,687.67 L612.15,687.83 L612.45,687.96 L612.76,688.05 L613.07,688.1 L613.38,688.11 L613.69,688.07 L614,687.99 L614.31,687.88 L614.62,687.73 L614.92,687.55 L615.23,687.35 L615.54,687.13 L615.85,686.9 L616.16,686.66 L616.47,686.41 L616.78,686.17 L617.09,685.93 L617.4,685.71 L617.7,685.49 L618.01,685.29 L618.32,685.11 L618.63,684.94 L618.94,684.79 L619.25,684.66 L619.56,684.55 L619.87,684.47 L620.17,684.41 L620.48,684.38 L620.79,684.38 L621.1,684.41 L621.41,684.48 L621.72,684.56 L622.03,684.67 L622.34,684.8 L622.64,684.94 L622.95,685.09 L623.26,685.25 L623.57,685.4 L623.88,685.55 L624.19,685.69 L624.5,685.82 L624.81,685.93 L625.11,686.02 L625.42,686.08 L625.73,686.11 L626.04,686.11 L626.35,686.06 L626.66,685.98 L626.97,685.87 L627.28,685.72 L627.59,685.56 L627.89,685.37 L628.2,685.17 L628.51,684.95 L628.82,684.73 L629.13,684.51 L629.44,684.29 L629.75,684.08 L630.06,683.87 L630.36,683.68 L630.67,683.51 L630.98,683.36 L631.29,683.24 L631.6,683.16 L631.91,683.11 L632.22,683.1 L632.53,683.13 L632.83,683.21 L633.14,683.32 L633.45,683.46 L633.76,683.63 L634.07,683.82 L634.38,684.02 L634.69,684.23 L635,684.45 L635.3,684.66 L635.61,684.86 L635.92,685.05 L636.23,685.23 L636.54,685.37 L636.85,685.49 L637.16,685.57 L637.47,685.6 L637.78,685.6 L638.08,685.55 L638.39,685.47 L638.7,685.35 L639.01,685.21 L639.32,685.04 L639.63,684.85 L639.94,684.65 L640.25,684.44 L640.55,684.22 L640.86,684 L641.17,683.78 L641.48,683.56 L641.79,683.36 L642.1,683.17 L642.41,683 L642.72,682.86 L643.02,682.74 L643.33,682.65 L643.64,682.6 L643.95,682.6 L644.26,682.62 L644.57,682.69 L644.88,682.79 L645.19,682.91 L645.49,683.07 L645.8,683.24 L646.11,683.44 L646.42,683.65 L646.73,683.88 L647.04,684.12 L647.35,684.37 L647.66,684.62 L647.97,684.88 L648.27,685.13 L648.58,685.38 L648.89,685.63 L649.2,685.86 L649.51,686.08 L649.82,686.28 L650.13,686.46 L650.44,686.62 L650.74,686.76 L651.05,686.86 L651.36,686.93 L651.67,686.98 L651.98,686.99 L652.29,686.98 L652.6,686.94 L652.91,686.88 L653.21,686.81 L653.52,686.72 L653.83,686.62 L654.14,686.51 L654.45,686.39 L654.76,686.27 L655.07,686.14 L655.38,686.02 L655.68,685.91 L655.99,685.8 L656.3,685.7 L656.61,685.62 L656.92,685.55 L657.23,685.5 L657.54,685.47 L657.85,685.46 L658.16,685.49 L658.46,685.54 L658.77,685.62 L659.08,685.74 L659.39,685.89 L659.7,686.07 L660.01,686.27 L660.32,686.5 L660.63,686.74 L660.93,687 L661.24,687.27 L661.55,687.55 L661.86,687.83 L662.17,688.12 L662.48,688.41 L662.79,688.69 L663.1,688.97 L663.4,689.24 L663.71,689.49 L664.02,689.73 L664.33,689.95 L664.64,690.15 L664.95,690.32 L665.26,690.47 L665.57,690.58 L665.87,690.66 L666.18,690.7 L666.49,690.69 L666.8,690.65 L667.11,690.57 L667.42,690.46 L667.73,690.32 L668.04,690.15 L668.35,689.96 L668.65,689.75 L668.96,689.52 L669.27,689.28 L669.58,689.03 L669.89,688.77 L670.2,688.51 L670.51,688.25 L670.82,687.99 L671.12,687.74 L671.43,687.5 L671.74,687.27 L672.05,687.06 L672.36,686.87 L672.67,686.71 L672.98,686.57 L673.29,686.47 L673.59,686.39 L673.9,686.36 L674.21,686.36 L674.52,686.41 L674.83,686.51 L675.14,686.66 L675.45,686.86 L675.76,687.12 L676.06,687.44 L676.37,687.83 L676.68,688.28 L676.99,688.8 L677.3,689.4" fill="none" stroke="#ff1408" stroke-width="2.6" stroke-linejoin="round" stroke-linecap="round" />
<path d="M399.7,738.9 L400.01,738.55 L400.32,738.26 L400.63,738 L400.94,737.8 L401.24,737.63 L401.55,737.51 L401.86,737.42 L402.17,737.37 L402.48,737.35 L402.79,737.36 L403.1,737.4 L403.41,737.47 L403.71,737.56 L404.02,737.67 L404.33,737.8 L404.64,737.95 L404.95,738.11 L405.26,738.28 L405.57,738.46 L405.88,738.66 L406.18,738.85 L406.49,739.05 L406.8,739.25 L407.11,739.45 L407.42,739.64 L407.73,739.83 L408.04,740.01 L408.35,740.18 L408.65,740.33 L408.96,740.47 L409.27,740.59 L409.58,740.69 L409.89,740.77 L410.2,740.83 L410.51,740.85 L410.82,740.85 L411.13,740.82 L411.43,740.75 L411.74,740.65 L412.05,740.51 L412.36,740.33 L412.67,740.13 L412.98,739.9 L413.29,739.65 L413.6,739.37 L413.9,739.07 L414.21,738.76 L414.52,738.44 L414.83,738.11 L415.14,737.77 L415.45,737.43 L415.76,737.09 L416.07,736.75 L416.37,736.41 L416.68,736.09 L416.99,735.77 L417.3,735.47 L417.61,735.19 L417.92,734.92 L418.23,734.68 L418.54,734.47 L418.84,734.28 L419.15,734.13 L419.46,734.01 L419.77,733.93 L420.08,733.89 L420.39,733.9 L420.7,733.95 L421.01,734.04 L421.32,734.18 L421.62,734.34 L421.93,734.54 L422.24,734.77 L422.55,735.02 L422.86,735.29 L423.17,735.57 L423.48,735.86 L423.79,736.17 L424.09,736.47 L424.4,736.77 L424.71,737.07 L425.02,737.36 L425.33,737.64 L425.64,737.9 L425.95,738.14 L426.26,738.37 L426.56,738.57 L426.87,738.76 L427.18,738.94 L427.49,739.09 L427.8,739.24 L428.11,739.36 L428.42,739.47 L428.73,739.56 L429.03,739.64 L429.34,739.7 L429.65,739.75 L429.96,739.79 L430.27,739.81 L430.58,739.81 L430.89,739.81 L431.2,739.78 L431.51,739.75 L431.81,739.7 L432.12,739.64 L432.43,739.57 L432.74,739.48 L433.05,739.38 L433.36,739.27 L433.67,739.16 L433.98,739.03 L434.28,738.9 L434.59,738.77 L434.9,738.63 L435.21,738.5 L435.52,738.37 L435.83,738.24 L436.14,738.13 L436.45,738.02 L436.75,737.92 L437.06,737.84 L437.37,737.78 L437.68,737.73 L437.99,737.7 L438.3,737.7 L438.61,737.71 L438.92,737.75 L439.22,737.8 L439.53,737.87 L439.84,737.95 L440.15,738.05 L440.46,738.16 L440.77,738.27 L441.08,738.4 L441.39,738.53 L441.7,738.67 L442,738.82 L442.31,738.96 L442.62,739.1 L442.93,739.25 L443.24,739.39 L443.55,739.53 L443.86,739.66 L444.17,739.78 L444.47,739.9 L444.78,740 L445.09,740.1 L445.4,740.18 L445.71,740.24 L446.02,740.29 L446.33,740.33 L446.64,740.35 L446.94,740.36 L447.25,740.35 L447.56,740.33 L447.87,740.31 L448.18,740.27 L448.49,740.22 L448.8,740.16 L449.11,740.1 L449.41,740.03 L449.72,739.95 L450.03,739.86 L450.34,739.77 L450.65,739.67 L450.96,739.57 L451.27,739.46 L451.58,739.35 L451.89,739.24 L452.19,739.13 L452.5,739.02 L452.81,738.9 L453.12,738.79 L453.43,738.68 L453.74,738.58 L454.05,738.48 L454.36,738.38 L454.66,738.3 L454.97,738.22 L455.28,738.15 L455.59,738.1 L455.9,738.05 L456.21,738.02 L456.52,738.01 L456.83,738.01 L457.13,738.02 L457.44,738.06 L457.75,738.11 L458.06,738.19 L458.37,738.28 L458.68,738.4 L458.99,738.53 L459.3,738.68 L459.6,738.83 L459.91,738.99 L460.22,739.16 L460.53,739.32 L460.84,739.48 L461.15,739.64 L461.46,739.79 L461.77,739.93 L462.08,740.05 L462.38,740.16 L462.69,740.24 L463,740.3 L463.31,740.34 L463.62,740.34 L463.93,740.31 L464.24,740.25 L464.55,740.15 L464.85,740 L465.16,739.83 L465.47,739.63 L465.78,739.41 L466.09,739.17 L466.4,738.93 L466.71,738.68 L467.02,738.43 L467.32,738.19 L467.63,737.96 L467.94,737.75 L468.25,737.57 L468.56,737.42 L468.87,737.3 L469.18,737.22 L469.49,737.2 L469.79,737.22 L470.1,737.28 L470.41,737.39 L470.72,737.52 L471.03,737.67 L471.34,737.84 L471.65,738.02 L471.96,738.2 L472.27,738.37 L472.57,738.54 L472.88,738.68 L473.19,738.8 L473.5,738.89 L473.81,738.94 L474.12,738.94 L474.43,738.89 L474.74,738.79 L475.04,738.62 L475.35,738.39 L475.66,738.1 L475.97,737.75 L476.28,737.33 L476.59,736.84 L476.9,736.28 L477.21,735.66 L477.51,734.97 L477.82,734.21 L478.13,733.41 L478.44,732.61 L478.75,731.84 L479.06,731.13 L479.37,730.52 L479.68,730.03 L479.98,729.71 L480.29,729.58 L480.6,729.67 L480.91,729.94 L481.22,730.39 L481.53,730.98 L481.84,731.71 L482.15,732.55 L482.46,733.47 L482.76,734.47 L483.07,735.51 L483.38,736.59 L483.69,737.67 L484,738.74 L484.31,739.78 L484.62,740.78 L484.93,741.72 L485.23,742.58 L485.54,743.35 L485.85,744 L486.16,744.53 L486.47,744.92 L486.78,745.15 L487.09,745.2 L487.4,745.07 L487.7,744.78 L488.01,744.37 L488.32,743.86 L488.63,743.27 L488.94,742.64 L489.25,741.99 L489.56,741.35 L489.87,740.75 L490.17,740.2 L490.48,739.73 L490.79,739.32 L491.1,738.97 L491.41,738.67 L491.72,738.42 L492.03,738.22 L492.34,738.05 L492.65,737.91 L492.95,737.8 L493.26,737.71 L493.57,737.63 L493.88,737.57 L494.19,737.51 L494.5,737.47 L494.81,737.44 L495.12,737.41 L495.42,737.39 L495.73,737.38 L496.04,737.38 L496.35,737.37 L496.66,737.38 L496.97,737.38 L497.28,737.39 L497.59,737.39 L497.89,737.4 L498.2,737.4 L498.51,737.41 L498.82,737.41 L499.13,737.4 L499.44,737.4 L499.75,737.4 L500.06,737.39 L500.36,737.38 L500.67,737.37 L500.98,737.36 L501.29,737.34 L501.6,737.33 L501.91,737.31 L502.22,737.29 L502.53,737.27 L502.84,737.24 L503.14,737.21 L503.45,737.19 L503.76,737.16 L504.07,737.13 L504.38,737.1 L504.69,737.08 L505,737.06 L505.31,737.06 L505.61,737.06 L505.92,737.07 L506.23,737.1 L506.54,737.14 L506.85,737.2 L507.16,737.28 L507.47,737.38 L507.78,737.5 L508.08,737.64 L508.39,737.81 L508.7,737.99 L509.01,738.19 L509.32,738.38 L509.63,738.56 L509.94,738.72 L510.25,738.86 L510.55,738.97 L510.86,739.03 L511.17,739.05 L511.48,739.01 L511.79,738.9 L512.1,738.72 L512.41,738.46 L512.72,738.11 L513.03,737.66 L513.33,737.11 L513.64,736.44 L513.95,735.67 L514.26,734.78 L514.57,733.78 L514.88,732.65 L515.19,731.4 L515.5,730.02 L515.8,728.53 L516.11,727 L516.42,725.52 L516.73,724.18 L517.04,723.09 L517.35,722.33 L517.66,721.98 L517.97,722.08 L518.27,722.57 L518.58,723.4 L518.89,724.52 L519.2,725.87 L519.51,727.42 L519.82,729.1 L520.13,730.88 L520.44,732.72 L520.74,734.6 L521.05,736.5 L521.36,738.4 L521.67,740.27 L521.98,742.1 L522.29,743.85 L522.6,745.51 L522.91,747.06 L523.22,748.48 L523.52,749.75 L523.83,750.86 L524.14,751.78 L524.45,752.5 L524.76,753.01 L525.07,753.29 L525.38,753.32 L525.69,753.13 L525.99,752.76 L526.3,752.25 L526.61,751.63 L526.92,750.95 L527.23,750.25 L527.54,749.55 L527.85,748.91 L528.16,748.34 L528.46,747.83 L528.77,747.38 L529.08,746.98 L529.39,746.6 L529.7,746.25 L530.01,745.9 L530.32,745.54 L530.63,745.17 L530.93,744.77 L531.24,744.34 L531.55,743.9 L531.86,743.44 L532.17,742.99 L532.48,742.53 L532.79,742.08 L533.1,741.64 L533.41,741.23 L533.71,740.83 L534.02,740.47 L534.33,740.15 L534.64,739.86 L534.95,739.61 L535.26,739.38 L535.57,739.18 L535.88,739 L536.18,738.85 L536.49,738.71 L536.8,738.59 L537.11,738.48 L537.42,738.39 L537.73,738.3 L538.04,738.22 L538.35,738.14 L538.65,738.06 L538.96,737.99 L539.27,737.93 L539.58,737.88 L539.89,737.84 L540.2,737.81 L540.51,737.8 L540.82,737.8 L541.12,737.82 L541.43,737.86 L541.74,737.93 L542.05,738.02 L542.36,738.13 L542.67,738.26 L542.98,738.4 L543.29,738.54 L543.59,738.67 L543.9,738.8 L544.21,738.9 L544.52,738.98 L544.83,739.02 L545.14,739.03 L545.45,738.98 L545.76,738.88 L546.07,738.71 L546.37,738.49 L546.68,738.21 L546.99,737.87 L547.3,737.49 L547.61,737.04 L547.92,736.55 L548.23,736.01 L548.54,735.43 L548.84,734.8 L549.15,734.13 L549.46,733.42 L549.77,732.67 L550.08,731.89 L550.39,731.06 L550.7,730.21 L551.01,729.32 L551.31,728.4 L551.62,727.44 L551.93,726.45 L552.24,725.42 L552.55,724.36 L552.86,723.26 L553.17,722.12 L553.48,720.95 L553.78,719.79 L554.09,718.71 L554.4,717.75 L554.71,716.99 L555.02,716.47 L555.33,716.25 L555.64,716.36 L555.95,716.79 L556.26,717.52 L556.56,718.54 L556.87,719.82 L557.18,721.35 L557.49,723.12 L557.8,725.09 L558.11,727.23 L558.42,729.51 L558.73,731.88 L559.03,734.33 L559.34,736.8 L559.65,739.27 L559.96,741.7 L560.27,744.05 L560.58,746.28 L560.89,748.36 L561.2,750.24 L561.5,751.89 L561.81,753.26 L562.12,754.32 L562.43,755.01 L562.74,755.32 L563.05,755.2 L563.36,754.73 L563.67,753.97 L563.97,752.97 L564.28,751.81 L564.59,750.54 L564.9,749.24 L565.21,747.96 L565.52,746.76 L565.83,745.64 L566.14,744.6 L566.45,743.65 L566.75,742.78 L567.06,741.99 L567.37,741.27 L567.68,740.64 L567.99,740.07 L568.3,739.57 L568.61,739.13 L568.92,738.76 L569.22,738.44 L569.53,738.17 L569.84,737.95 L570.15,737.78 L570.46,737.64 L570.77,737.53 L571.08,737.45 L571.39,737.39 L571.69,737.35 L572,737.33 L572.31,737.31 L572.62,737.29 L572.93,737.28 L573.24,737.27 L573.55,737.27 L573.86,737.27 L574.16,737.29 L574.47,737.32 L574.78,737.37 L575.09,737.44 L575.4,737.54 L575.71,737.66 L576.02,737.81 L576.33,737.99 L576.64,738.19 L576.94,738.42 L577.25,738.68 L577.56,738.95 L577.87,739.25 L578.18,739.57 L578.49,739.91 L578.8,740.26 L579.11,740.63 L579.41,741.01 L579.72,741.39 L580.03,741.76 L580.34,742.1 L580.65,742.42 L580.96,742.7 L581.27,742.93 L581.58,743.09 L581.88,743.18 L582.19,743.19 L582.5,743.12 L582.81,742.97 L583.12,742.76 L583.43,742.5 L583.74,742.19 L584.05,741.87 L584.35,741.52 L584.66,741.18 L584.97,740.84 L585.28,740.52 L585.59,740.23 L585.9,739.97 L586.21,739.72 L586.52,739.48 L586.83,739.24 L587.13,738.99 L587.44,738.72 L587.75,738.43 L588.06,738.11 L588.37,737.74 L588.68,737.32 L588.99,736.86 L589.3,736.35 L589.6,735.81 L589.91,735.23 L590.22,734.62 L590.53,733.99 L590.84,733.34 L591.15,732.68 L591.46,732.02 L591.77,731.39 L592.07,730.81 L592.38,730.31 L592.69,729.93 L593,729.68 L593.31,729.59 L593.62,729.69 L593.93,729.98 L594.24,730.43 L594.54,731.03 L594.85,731.75 L595.16,732.59 L595.47,733.52 L595.78,734.51 L596.09,735.56 L596.4,736.64 L596.71,737.73 L597.02,738.82 L597.32,739.88 L597.63,740.9 L597.94,741.86 L598.25,742.74 L598.56,743.52 L598.87,744.17 L599.18,744.69 L599.49,745.05 L599.79,745.24 L600.1,745.24 L600.41,745.08 L600.72,744.79 L601.03,744.38 L601.34,743.87 L601.65,743.28 L601.96,742.65 L602.26,741.98 L602.57,741.31 L602.88,740.64 L603.19,740.02 L603.5,739.44 L603.81,738.93 L604.12,738.46 L604.43,738.05 L604.73,737.69 L605.04,737.37 L605.35,737.11 L605.66,736.89 L605.97,736.71 L606.28,736.57 L606.59,736.48 L606.9,736.42 L607.21,736.4 L607.51,736.41 L607.82,736.46 L608.13,736.53 L608.44,736.63 L608.75,736.74 L609.06,736.87 L609.37,737.02 L609.68,737.16 L609.98,737.32 L610.29,737.47 L610.6,737.62 L610.91,737.76 L611.22,737.89 L611.53,738.01 L611.84,738.11 L612.15,738.19 L612.45,738.26 L612.76,738.32 L613.07,738.35 L613.38,738.37 L613.69,738.37 L614,738.35 L614.31,738.31 L614.62,738.25 L614.92,738.16 L615.23,738.06 L615.54,737.93 L615.85,737.8 L616.16,737.65 L616.47,737.5 L616.78,737.34 L617.09,737.19 L617.4,737.03 L617.7,736.89 L618.01,736.76 L618.32,736.64 L618.63,736.54 L618.94,736.46 L619.25,736.41 L619.56,736.39 L619.87,736.41 L620.17,736.45 L620.48,736.53 L620.79,736.64 L621.1,736.77 L621.41,736.93 L621.72,737.1 L622.03,737.29 L622.34,737.49 L622.64,737.7 L622.95,737.92 L623.26,738.14 L623.57,738.36 L623.88,738.57 L624.19,738.78 L624.5,738.98 L624.81,739.16 L625.11,739.33 L625.42,739.47 L625.73,739.59 L626.04,739.69 L626.35,739.75 L626.66,739.78 L626.97,739.79 L627.28,739.77 L627.59,739.73 L627.89,739.67 L628.2,739.59 L628.51,739.49 L628.82,739.38 L629.13,739.25 L629.44,739.12 L629.75,738.97 L630.06,738.82 L630.36,738.66 L630.67,738.5 L630.98,738.33 L631.29,738.17 L631.6,738.01 L631.91,737.86 L632.22,737.71 L632.53,737.58 L632.83,737.45 L633.14,737.34 L633.45,737.24 L633.76,737.16 L634.07,737.1 L634.38,737.05 L634.69,737.02 L635,737.01 L635.3,737.01 L635.61,737.02 L635.92,737.04 L636.23,737.08 L636.54,737.13 L636.85,737.18 L637.16,737.25 L637.47,737.32 L637.78,737.4 L638.08,737.48 L638.39,737.57 L638.7,737.66 L639.01,737.76 L639.32,737.85 L639.63,737.95 L639.94,738.05 L640.25,738.15 L640.55,738.24 L640.86,738.33 L641.17,738.42 L641.48,738.51 L641.79,738.59 L642.1,738.66 L642.41,738.73 L642.72,738.78 L643.02,738.83 L643.33,738.87 L643.64,738.9 L643.95,738.91 L644.26,738.91 L644.57,738.91 L644.88,738.89 L645.19,738.86 L645.49,738.82 L645.8,738.78 L646.11,738.73 L646.42,738.67 L646.73,738.6 L647.04,738.53 L647.35,738.45 L647.66,738.37 L647.97,738.28 L648.27,738.2 L648.58,738.1 L648.89,738.01 L649.2,737.92 L649.51,737.82 L649.82,737.73 L650.13,737.63 L650.44,737.54 L650.74,737.45 L651.05,737.36 L651.36,737.28 L651.67,737.2 L651.98,737.12 L652.29,737.05 L652.6,736.99 L652.91,736.93 L653.21,736.88 L653.52,736.84 L653.83,736.8 L654.14,736.78 L654.45,736.77 L654.76,736.76 L655.07,736.77 L655.38,736.79 L655.68,736.82 L655.99,736.86 L656.3,736.92 L656.61,736.99 L656.92,737.08 L657.23,737.17 L657.54,737.28 L657.85,737.4 L658.16,737.52 L658.46,737.65 L658.77,737.78 L659.08,737.92 L659.39,738.06 L659.7,738.21 L660.01,738.35 L660.32,738.49 L660.63,738.63 L660.93,738.77 L661.24,738.9 L661.55,739.03 L661.86,739.15 L662.17,739.26 L662.48,739.37 L662.79,739.46 L663.1,739.54 L663.4,739.61 L663.71,739.66 L664.02,739.7 L664.33,739.72 L664.64,739.72 L664.95,739.7 L665.26,739.67 L665.57,739.61 L665.87,739.54 L666.18,739.45 L666.49,739.35 L666.8,739.23 L667.11,739.11 L667.42,738.97 L667.73,738.83 L668.04,738.68 L668.35,738.52 L668.65,738.37 L668.96,738.21 L669.27,738.06 L669.58,737.9 L669.89,737.75 L670.2,737.61 L670.51,737.47 L670.82,737.34 L671.12,737.23 L671.43,737.12 L671.74,737.03 L672.05,736.96 L672.36,736.9 L672.67,736.86 L672.98,736.85 L673.29,736.85 L673.59,736.88 L673.9,736.93 L674.21,737.01 L674.52,737.13 L674.83,737.27 L675.14,737.44 L675.45,737.65 L675.76,737.89 L676.06,738.17 L676.37,738.49 L676.68,738.85 L676.99,739.25 L677.3,739.7" fill="none" stroke="#12128c" stroke-width="2.7" stroke-linejoin="round" stroke-linecap="round" />
<rect x="399.7" y="573.9" width="277.6" height="220.8" fill="none" stroke="#000" stroke-width="2.9"/>
<line x1="424.8" y1="794.7" x2="424.8" y2="799.3" stroke="#000" stroke-width="2.3"/>
<line x1="525.72" y1="794.7" x2="525.72" y2="799.3" stroke="#000" stroke-width="2.3"/>
<line x1="626.64" y1="794.7" x2="626.64" y2="799.3" stroke="#000" stroke-width="2.3"/>
<line x1="475.26" y1="794.7" x2="475.26" y2="797.3" stroke="#000" stroke-width="2.0"/>
<line x1="576.18" y1="794.7" x2="576.18" y2="797.3" stroke="#000" stroke-width="2.0"/>
<line x1="677.1" y1="794.7" x2="677.1" y2="797.3" stroke="#000" stroke-width="2.0"/>
<text x="424.8" y="814.9" font-size="14.8" text-anchor="middle" >332</text>
<text x="525.72" y="814.9" font-size="14.8" text-anchor="middle" >336</text>
<text x="626.64" y="814.9" font-size="14.8" text-anchor="middle" >340</text>
<text x="352.3" y="585.4" font-size="21" text-anchor="start" >(f)</text>
<text x="529.6" y="834.2" font-size="18.6" text-anchor="middle" >Magnetic field (Gauss)</text>
<text x="382.2" y="744.6" font-size="18.5" text-anchor="start" transform="rotate(-90 382.2 744.6)" >Intensity (a.u.)</text>
<text x="596.5" y="657.5" font-size="14.2" text-anchor="start" >DMPO-<tspan font-size="11.5" dy="-3.6" dx="0.3">•</tspan><tspan dy="3.6" dx="0.3">OH</tspan></text>
<line x1="412.2" y1="591" x2="443.8" y2="591" stroke="#ff1408" stroke-width="2.5"/>
<line x1="412.2" y1="611.2" x2="443.8" y2="611.2" stroke="#12128c" stroke-width="2.5"/>
<text x="447.8" y="595" font-size="13.6" text-anchor="start" >[Emim]BF<tspan font-size="9.38" dy="2.99">4</tspan><tspan dy="-2.99">@PCN-250-Fe</tspan><tspan font-size="9.38" dy="2.99">2</tspan><tspan dy="-2.99">Co</tspan></text>
<text x="447.8" y="615.6" font-size="13.6" text-anchor="start" >PCN-250-Fe<tspan font-size="9.38" dy="2.99">2</tspan><tspan dy="-2.99">Co</tspan></text>
</g>
</svg>
</body></html>
